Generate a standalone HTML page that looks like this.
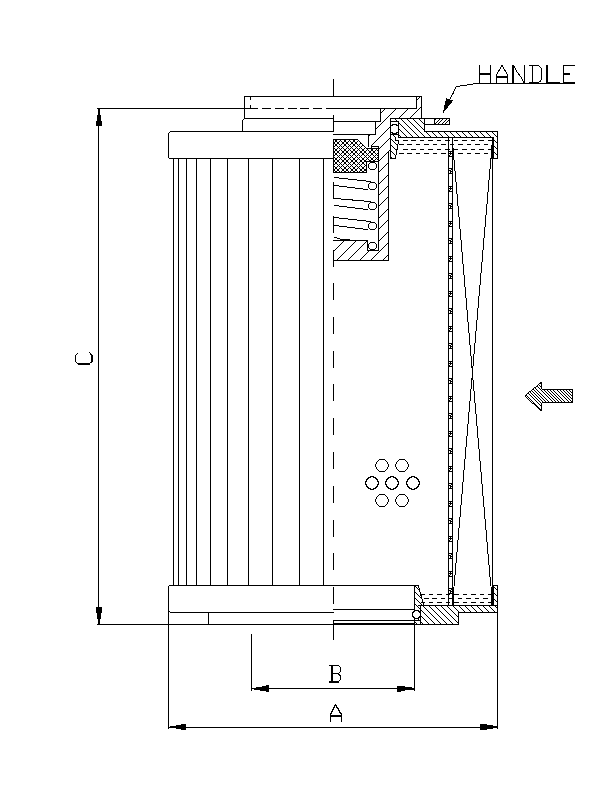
<!DOCTYPE html><html><head><meta charset="utf-8"><style>html,body{margin:0;padding:0;background:#fff;}svg{display:block;}</style></head><body>
<svg width="612" height="792" viewBox="0 0 612 792">
<rect width="612" height="792" fill="#fff"/>
<path shape-rendering="crispEdges" fill="#000" d="M479 65h1v1H479zM490 65h1v1H490zM501 65h2v1H501zM512 65h2v1H512zM524 65h1v1H524zM529 65h10v1H529zM546 65h2v1H546zM563 65h12v1H563zM479 66h1v1H479zM490 66h1v1H490zM501 66h2v1H501zM512 66h3v1H512zM524 66h1v1H524zM532 66h1v1H532zM539 66h1v1H539zM546 66h2v1H546zM563 66h1v1H563zM479 67h1v1H479zM490 67h1v1H490zM500 67h1v1H500zM503 67h1v1H503zM512 67h3v1H512zM524 67h1v1H524zM532 67h1v1H532zM540 67h1v1H540zM546 67h2v1H546zM563 67h1v1H563zM479 68h1v1H479zM490 68h1v1H490zM500 68h1v1H500zM503 68h1v1H503zM512 68h2v1H512zM515 68h1v1H515zM524 68h1v1H524zM532 68h1v1H532zM541 68h1v1H541zM546 68h2v1H546zM563 68h1v1H563zM479 69h1v1H479zM490 69h1v1H490zM499 69h1v1H499zM504 69h1v1H504zM512 69h2v1H512zM515 69h1v1H515zM524 69h1v1H524zM532 69h1v1H532zM541 69h1v1H541zM546 69h2v1H546zM563 69h1v1H563zM479 70h1v1H479zM490 70h1v1H490zM498 70h2v1H498zM504 70h2v1H504zM512 70h2v1H512zM516 70h1v1H516zM524 70h1v1H524zM532 70h1v1H532zM541 70h1v1H541zM546 70h2v1H546zM563 70h1v1H563zM479 71h1v1H479zM490 71h1v1H490zM498 71h1v1H498zM505 71h1v1H505zM512 71h2v1H512zM516 71h1v1H516zM524 71h1v1H524zM532 71h1v1H532zM541 71h1v1H541zM546 71h2v1H546zM563 71h1v1H563zM479 72h1v1H479zM490 72h1v1H490zM497 72h1v1H497zM506 72h1v1H506zM512 72h2v1H512zM517 72h1v1H517zM524 72h1v1H524zM532 72h1v1H532zM541 72h1v1H541zM546 72h2v1H546zM563 72h1v1H563zM479 73h12v1H479zM497 73h1v1H497zM506 73h1v1H506zM512 73h2v1H512zM518 73h1v1H518zM524 73h1v1H524zM532 73h1v1H532zM541 73h1v1H541zM546 73h2v1H546zM563 73h7v1H563zM479 74h12v1H479zM496 74h1v1H496zM507 74h1v1H507zM512 74h2v1H512zM518 74h2v1H518zM524 74h1v1H524zM532 74h1v1H532zM541 74h1v1H541zM546 74h2v1H546zM563 74h7v1H563zM479 75h1v1H479zM490 75h1v1H490zM496 75h1v1H496zM507 75h1v1H507zM512 75h2v1H512zM519 75h1v1H519zM524 75h1v1H524zM532 75h1v1H532zM541 75h1v1H541zM546 75h2v1H546zM563 75h1v1H563zM479 76h1v1H479zM490 76h1v1H490zM496 76h12v1H496zM512 76h2v1H512zM520 76h1v1H520zM524 76h1v1H524zM532 76h1v1H532zM541 76h1v1H541zM546 76h2v1H546zM563 76h1v1H563zM479 77h1v1H479zM490 77h1v1H490zM496 77h12v1H496zM512 77h2v1H512zM521 77h1v1H521zM524 77h1v1H524zM532 77h1v1H532zM541 77h1v1H541zM546 77h2v1H546zM563 77h1v1H563zM479 78h1v1H479zM490 78h1v1H490zM496 78h1v1H496zM507 78h1v1H507zM512 78h2v1H512zM521 78h1v1H521zM524 78h1v1H524zM532 78h1v1H532zM541 78h1v1H541zM546 78h2v1H546zM563 78h1v1H563zM333 79h1v1H333zM479 79h1v1H479zM490 79h1v1H490zM496 79h1v1H496zM507 79h1v1H507zM512 79h2v1H512zM522 79h1v1H522zM524 79h1v1H524zM532 79h1v1H532zM541 79h1v1H541zM546 79h2v1H546zM563 79h1v1H563zM333 80h1v1H333zM479 80h1v1H479zM490 80h1v1H490zM496 80h1v1H496zM507 80h1v1H507zM512 80h2v1H512zM522 80h1v1H522zM524 80h1v1H524zM532 80h1v1H532zM540 80h1v1H540zM546 80h2v1H546zM563 80h1v1H563zM333 81h1v1H333zM479 81h1v1H479zM490 81h1v1H490zM496 81h1v1H496zM507 81h1v1H507zM512 81h2v1H512zM523 81h2v1H523zM532 81h1v1H532zM539 81h2v1H539zM546 81h2v1H546zM563 81h1v1H563zM333 82h1v1H333zM479 82h1v1H479zM490 82h1v1H490zM496 82h1v1H496zM507 82h1v1H507zM512 82h2v1H512zM523 82h2v1H523zM529 82h10v1H529zM546 82h14v1H546zM563 82h12v1H563zM333 83h1v1H333zM473 83h102v1H473zM333 84h1v1H333zM467 84h6v1H467zM333 85h1v1H333zM460 85h7v1H460zM333 86h1v1H333zM456 86h4v1H456zM333 87h1v1H333zM455 87h1v1H455zM333 88h1v1H333zM455 88h1v1H455zM333 89h1v1H333zM454 89h1v1H454zM333 90h1v1H333zM454 90h1v1H454zM333 91h1v1H333zM453 91h1v1H453zM333 92h1v1H333zM453 92h1v1H453zM333 93h1v1H333zM452 93h2v1H452zM333 94h1v1H333zM452 94h1v1H452zM333 95h1v1H333zM451 95h1v1H451zM244 96h178v1H244zM451 96h1v1H451zM244 97h1v1H244zM250 97h1v1H250zM416 97h1v1H416zM419 97h1v1H419zM421 97h1v1H421zM450 97h1v1H450zM244 98h1v1H244zM250 98h1v1H250zM416 98h1v1H416zM418 98h1v1H418zM421 98h1v1H421zM446 98h1v1H446zM450 98h1v1H450zM244 99h1v1H244zM250 99h1v1H250zM416 99h2v1H416zM421 99h1v1H421zM446 99h4v1H446zM244 100h1v1H244zM416 100h1v1H416zM421 100h1v1H421zM446 100h7v1H446zM244 101h1v1H244zM416 101h1v1H416zM421 101h1v1H421zM445 101h7v1H445zM244 102h1v1H244zM416 102h1v1H416zM421 102h1v1H421zM445 102h7v1H445zM244 103h1v1H244zM416 103h1v1H416zM421 103h1v1H421zM445 103h6v1H445zM244 104h1v1H244zM416 104h1v1H416zM421 104h1v1H421zM445 104h5v1H445zM244 105h1v1H244zM250 105h1v1H250zM416 105h1v1H416zM421 105h1v1H421zM444 105h5v1H444zM244 106h1v1H244zM250 106h1v1H250zM416 106h1v1H416zM421 106h1v1H421zM444 106h4v1H444zM244 107h1v1H244zM250 107h1v1H250zM416 107h1v1H416zM420 107h2v1H420zM444 107h4v1H444zM97 108h161v1H97zM262 108h9v1H262zM275 108h9v1H275zM288 108h9v1H288zM300 108h9v1H300zM313 108h9v1H313zM326 108h91v1H326zM419 108h1v1H419zM421 108h1v1H421zM444 108h3v1H444zM98 109h2v1H98zM244 109h1v1H244zM380 109h1v1H380zM384 109h1v1H384zM395 109h1v1H395zM407 109h1v1H407zM418 109h1v1H418zM421 109h1v1H421zM444 109h2v1H444zM98 110h2v1H98zM244 110h1v1H244zM380 110h1v1H380zM383 110h1v1H383zM394 110h1v1H394zM406 110h1v1H406zM417 110h1v1H417zM421 110h1v1H421zM443 110h2v1H443zM98 111h2v1H98zM244 111h1v1H244zM380 111h1v1H380zM382 111h1v1H382zM393 111h1v1H393zM405 111h1v1H405zM416 111h1v1H416zM421 111h1v1H421zM443 111h1v1H443zM98 112h2v1H98zM244 112h1v1H244zM380 112h2v1H380zM392 112h1v1H392zM404 112h1v1H404zM415 112h1v1H415zM421 112h1v1H421zM443 112h1v1H443zM98 113h2v1H98zM244 113h1v1H244zM380 113h1v1H380zM391 113h1v1H391zM403 113h1v1H403zM414 113h1v1H414zM421 113h1v1H421zM98 114h2v1H98zM244 114h1v1H244zM380 114h1v1H380zM390 114h1v1H390zM402 114h1v1H402zM413 114h1v1H413zM421 114h1v1H421zM97 115h4v1H97zM244 115h1v1H244zM333 115h1v1H333zM380 115h1v1H380zM389 115h1v1H389zM401 115h1v1H401zM412 115h1v1H412zM421 115h1v1H421zM97 116h4v1H97zM244 116h1v1H244zM333 116h1v1H333zM380 116h1v1H380zM388 116h1v1H388zM400 116h1v1H400zM411 116h1v1H411zM421 116h1v1H421zM97 117h4v1H97zM244 117h1v1H244zM333 117h1v1H333zM380 117h1v1H380zM387 117h1v1H387zM399 117h1v1H399zM410 117h1v1H410zM421 117h1v1H421zM97 118h4v1H97zM244 118h90v1H244zM380 118h1v1H380zM386 118h1v1H386zM390 118h60v1H390zM97 119h4v1H97zM243 119h1v1H243zM333 119h1v1H333zM380 119h1v1H380zM385 119h1v1H385zM390 119h1v1H390zM395 119h1v1H395zM401 119h1v1H401zM407 119h1v1H407zM413 119h1v1H413zM419 119h1v1H419zM424 119h1v1H424zM434 119h2v1H434zM439 119h1v1H439zM442 119h1v1H442zM446 119h1v1H446zM449 119h1v1H449zM97 120h4v1H97zM242 120h1v1H242zM333 120h1v1H333zM380 120h1v1H380zM384 120h1v1H384zM390 120h1v1H390zM396 120h1v1H396zM402 120h1v1H402zM408 120h1v1H408zM414 120h1v1H414zM420 120h1v1H420zM424 120h1v1H424zM434 120h1v1H434zM438 120h1v1H438zM441 120h1v1H441zM445 120h1v1H445zM448 120h2v1H448zM96 121h6v1H96zM242 121h1v1H242zM333 121h48v1H333zM383 121h1v1H383zM390 121h9v1H390zM403 121h1v1H403zM409 121h1v1H409zM415 121h1v1H415zM421 121h1v1H421zM424 121h1v1H424zM434 121h1v1H434zM437 121h1v1H437zM440 121h1v1H440zM444 121h1v1H444zM447 121h1v1H447zM449 121h1v1H449zM96 122h6v1H96zM242 122h1v1H242zM333 122h1v1H333zM375 122h1v1H375zM382 122h1v1H382zM390 122h1v1H390zM398 122h1v1H398zM404 122h1v1H404zM410 122h1v1H410zM416 122h1v1H416zM422 122h1v1H422zM424 122h1v1H424zM434 122h1v1H434zM436 122h1v1H436zM439 122h1v1H439zM443 122h1v1H443zM446 122h1v1H446zM449 122h1v1H449zM96 123h6v1H96zM242 123h1v1H242zM333 123h1v1H333zM375 123h1v1H375zM381 123h1v1H381zM390 123h1v1H390zM398 123h2v1H398zM405 123h1v1H405zM411 123h1v1H411zM417 123h1v1H417zM423 123h2v1H423zM434 123h2v1H434zM438 123h1v1H438zM442 123h1v1H442zM445 123h1v1H445zM449 123h1v1H449zM96 124h6v1H96zM242 124h1v1H242zM333 124h1v1H333zM375 124h1v1H375zM380 124h1v1H380zM390 124h1v1H390zM392 124h5v1H392zM398 124h1v1H398zM400 124h1v1H400zM406 124h1v1H406zM412 124h1v1H412zM418 124h1v1H418zM424 124h26v1H424zM96 125h6v1H96zM242 125h1v1H242zM333 125h1v1H333zM375 125h1v1H375zM379 125h1v1H379zM390 125h3v1H390zM396 125h3v1H396zM401 125h1v1H401zM407 125h1v1H407zM413 125h1v1H413zM419 125h1v1H419zM424 125h1v1H424zM98 126h1v1H98zM242 126h1v1H242zM333 126h1v1H333zM375 126h1v1H375zM378 126h1v1H378zM390 126h1v1H390zM398 126h1v1H398zM402 126h1v1H402zM408 126h1v1H408zM414 126h1v1H414zM420 126h1v1H420zM424 126h1v1H424zM98 127h1v1H98zM242 127h1v1H242zM333 127h1v1H333zM375 127h1v1H375zM377 127h1v1H377zM389 127h2v1H389zM398 127h1v1H398zM403 127h1v1H403zM409 127h1v1H409zM415 127h1v1H415zM421 127h1v1H421zM424 127h1v1H424zM98 128h1v1H98zM242 128h1v1H242zM333 128h1v1H333zM375 128h2v1H375zM388 128h1v1H388zM390 128h1v1H390zM398 128h1v1H398zM404 128h1v1H404zM410 128h1v1H410zM416 128h1v1H416zM422 128h1v1H422zM424 128h1v1H424zM98 129h1v1H98zM242 129h1v1H242zM333 129h1v1H333zM375 129h1v1H375zM387 129h1v1H387zM390 129h1v1H390zM398 129h2v1H398zM405 129h1v1H405zM411 129h1v1H411zM417 129h1v1H417zM423 129h2v1H423zM98 130h1v1H98zM242 130h1v1H242zM333 130h1v1H333zM375 130h1v1H375zM386 130h1v1H386zM390 130h1v1H390zM398 130h1v1H398zM400 130h1v1H400zM406 130h1v1H406zM412 130h1v1H412zM418 130h1v1H418zM424 130h1v1H424zM98 131h1v1H98zM170 131h164v1H170zM375 131h1v1H375zM385 131h1v1H385zM390 131h1v1H390zM398 131h1v1H398zM401 131h1v1H401zM407 131h1v1H407zM413 131h1v1H413zM419 131h1v1H419zM424 131h74v1H424zM98 132h1v1H98zM169 132h1v1H169zM375 132h1v1H375zM384 132h1v1H384zM390 132h3v1H390zM396 132h3v1H396zM402 132h1v1H402zM408 132h1v1H408zM414 132h1v1H414zM420 132h1v1H420zM426 132h1v1H426zM432 132h1v1H432zM438 132h1v1H438zM444 132h1v1H444zM450 132h1v1H450zM456 132h1v1H456zM462 132h1v1H462zM468 132h1v1H468zM474 132h1v1H474zM480 132h1v1H480zM486 132h1v1H486zM492 132h1v1H492zM497 132h1v1H497zM98 133h1v1H98zM168 133h1v1H168zM375 133h1v1H375zM383 133h1v1H383zM390 133h1v1H390zM392 133h5v1H392zM398 133h1v1H398zM403 133h1v1H403zM409 133h1v1H409zM415 133h1v1H415zM421 133h1v1H421zM427 133h1v1H427zM433 133h1v1H433zM439 133h1v1H439zM445 133h1v1H445zM451 133h1v1H451zM457 133h1v1H457zM463 133h1v1H463zM469 133h1v1H469zM475 133h1v1H475zM481 133h1v1H481zM487 133h1v1H487zM493 133h1v1H493zM497 133h1v1H497zM98 134h1v1H98zM168 134h1v1H168zM333 134h43v1H333zM382 134h1v1H382zM390 134h9v1H390zM404 134h1v1H404zM410 134h1v1H410zM416 134h1v1H416zM422 134h1v1H422zM428 134h1v1H428zM434 134h1v1H434zM440 134h1v1H440zM446 134h1v1H446zM452 134h1v1H452zM458 134h1v1H458zM464 134h1v1H464zM470 134h1v1H470zM476 134h1v1H476zM482 134h1v1H482zM488 134h1v1H488zM494 134h1v1H494zM497 134h1v1H497zM98 135h1v1H98zM168 135h1v1H168zM368 135h2v1H368zM381 135h1v1H381zM390 135h1v1H390zM393 135h1v1H393zM398 135h2v1H398zM405 135h1v1H405zM411 135h1v1H411zM417 135h1v1H417zM423 135h1v1H423zM429 135h1v1H429zM435 135h1v1H435zM441 135h1v1H441zM447 135h1v1H447zM453 135h1v1H453zM459 135h1v1H459zM465 135h1v1H465zM471 135h1v1H471zM477 135h1v1H477zM483 135h1v1H483zM489 135h1v1H489zM495 135h1v1H495zM497 135h1v1H497zM98 136h1v1H98zM168 136h1v1H168zM368 136h1v1H368zM380 136h1v1H380zM390 136h1v1H390zM394 136h1v1H394zM398 136h1v1H398zM400 136h1v1H400zM406 136h1v1H406zM412 136h1v1H412zM418 136h1v1H418zM424 136h1v1H424zM430 136h1v1H430zM436 136h1v1H436zM442 136h1v1H442zM448 136h1v1H448zM454 136h1v1H454zM460 136h1v1H460zM466 136h1v1H466zM472 136h1v1H472zM478 136h1v1H478zM484 136h1v1H484zM490 136h1v1H490zM496 136h2v1H496zM98 137h1v1H98zM168 137h1v1H168zM368 137h1v1H368zM379 137h1v1H379zM390 137h1v1H390zM395 137h1v1H395zM398 137h96v1H398zM497 137h1v1H497zM98 138h1v1H98zM168 138h1v1H168zM368 138h1v1H368zM378 138h1v1H378zM389 138h2v1H389zM395 138h1v1H395zM448 138h1v1H448zM452 138h1v1H452zM492 138h2v1H492zM497 138h1v1H497zM98 139h1v1H98zM168 139h1v1H168zM333 139h25v1H333zM368 139h1v1H368zM377 139h1v1H377zM388 139h1v1H388zM390 139h2v1H390zM395 139h1v1H395zM448 139h1v1H448zM452 139h1v1H452zM492 139h2v1H492zM497 139h1v1H497zM98 140h1v1H98zM168 140h1v1H168zM333 140h1v1H333zM335 140h2v1H335zM340 140h1v1H340zM344 140h2v1H344zM349 140h1v1H349zM353 140h2v1H353zM358 140h1v1H358zM368 140h1v1H368zM376 140h1v1H376zM387 140h1v1H387zM390 140h1v1H390zM392 140h1v1H392zM395 140h4v1H395zM403 140h5v1H403zM411 140h5v1H411zM420 140h4v1H420zM428 140h5v1H428zM437 140h4v1H437zM445 140h5v1H445zM452 140h1v1H452zM454 140h4v1H454zM462 140h5v1H462zM471 140h4v1H471zM479 140h5v1H479zM488 140h7v1H488zM497 140h1v1H497zM98 141h1v1H98zM168 141h1v1H168zM333 141h1v1H333zM335 141h2v1H335zM339 141h1v1H339zM341 141h1v1H341zM344 141h2v1H344zM348 141h1v1H348zM350 141h1v1H350zM353 141h2v1H353zM357 141h1v1H357zM359 141h1v1H359zM368 141h1v1H368zM375 141h1v1H375zM386 141h1v1H386zM390 141h1v1H390zM393 141h1v1H393zM398 141h1v1H398zM448 141h1v1H448zM452 141h1v1H452zM492 141h2v1H492zM495 141h1v1H495zM497 141h1v1H497zM98 142h1v1H98zM168 142h1v1H168zM333 142h2v1H333zM337 142h2v1H337zM342 142h2v1H342zM346 142h2v1H346zM351 142h2v1H351zM355 142h2v1H355zM360 142h1v1H360zM368 142h1v1H368zM374 142h1v1H374zM385 142h1v1H385zM390 142h1v1H390zM394 142h1v1H394zM398 142h1v1H398zM448 142h1v1H448zM452 142h1v1H452zM492 142h2v1H492zM496 142h2v1H496zM98 143h1v1H98zM168 143h1v1H168zM333 143h2v1H333zM337 143h2v1H337zM342 143h2v1H342zM346 143h2v1H346zM351 143h2v1H351zM355 143h2v1H355zM360 143h2v1H360zM368 143h1v1H368zM373 143h1v1H373zM384 143h1v1H384zM390 143h1v1H390zM395 143h1v1H395zM398 143h1v1H398zM448 143h1v1H448zM452 143h1v1H452zM492 143h2v1H492zM497 143h1v1H497zM98 144h1v1H98zM168 144h1v1H168zM333 144h1v1H333zM335 144h2v1H335zM339 144h1v1H339zM341 144h1v1H341zM344 144h2v1H344zM348 144h1v1H348zM350 144h1v1H350zM353 144h2v1H353zM357 144h1v1H357zM359 144h1v1H359zM362 144h1v1H362zM368 144h1v1H368zM372 144h1v1H372zM383 144h1v1H383zM390 144h1v1H390zM396 144h2v1H396zM399 144h5v1H399zM407 144h5v1H407zM416 144h4v1H416zM424 144h5v1H424zM433 144h4v1H433zM441 144h5v1H441zM448 144h1v1H448zM450 144h4v1H450zM458 144h5v1H458zM467 144h4v1H467zM475 144h5v1H475zM484 144h4v1H484zM492 144h2v1H492zM497 144h1v1H497zM98 145h1v1H98zM168 145h1v1H168zM333 145h1v1H333zM335 145h2v1H335zM340 145h1v1H340zM344 145h2v1H344zM349 145h1v1H349zM353 145h2v1H353zM358 145h1v1H358zM362 145h2v1H362zM368 145h1v1H368zM371 145h1v1H371zM382 145h1v1H382zM390 145h2v1H390zM397 145h1v1H397zM448 145h1v1H448zM452 145h1v1H452zM491 145h3v1H491zM497 145h1v1H497zM98 146h1v1H98zM168 146h1v1H168zM333 146h2v1H333zM337 146h1v1H337zM339 146h1v1H339zM341 146h1v1H341zM343 146h1v1H343zM346 146h1v1H346zM348 146h1v1H348zM350 146h1v1H350zM352 146h1v1H352zM355 146h1v1H355zM357 146h1v1H357zM359 146h1v1H359zM361 146h1v1H361zM364 146h1v1H364zM368 146h1v1H368zM371 146h8v1H371zM381 146h1v1H381zM390 146h1v1H390zM392 146h1v1H392zM397 146h1v1H397zM448 146h1v1H448zM452 146h1v1H452zM491 146h4v1H491zM497 146h1v1H497zM98 147h1v1H98zM168 147h1v1H168zM333 147h1v1H333zM338 147h1v1H338zM342 147h1v1H342zM347 147h1v1H347zM351 147h1v1H351zM356 147h1v1H356zM360 147h1v1H360zM365 147h1v1H365zM371 147h1v1H371zM378 147h1v1H378zM380 147h1v1H380zM390 147h1v1H390zM393 147h1v1H393zM397 147h1v1H397zM448 147h1v1H448zM452 147h1v1H452zM491 147h3v1H491zM495 147h1v1H495zM497 147h1v1H497zM98 148h1v1H98zM168 148h1v1H168zM333 148h2v1H333zM337 148h1v1H337zM339 148h1v1H339zM341 148h1v1H341zM343 148h1v1H343zM346 148h1v1H346zM348 148h1v1H348zM350 148h1v1H350zM352 148h1v1H352zM355 148h1v1H355zM357 148h1v1H357zM359 148h1v1H359zM361 148h1v1H361zM364 148h1v1H364zM366 148h14v1H366zM390 148h1v1H390zM394 148h1v1H394zM397 148h1v1H397zM448 148h1v1H448zM452 148h2v1H452zM491 148h3v1H491zM496 148h2v1H496zM98 149h1v1H98zM168 149h1v1H168zM333 149h1v1H333zM335 149h2v1H335zM340 149h1v1H340zM344 149h2v1H344zM349 149h1v1H349zM353 149h2v1H353zM358 149h1v1H358zM362 149h2v1H362zM367 149h1v1H367zM371 149h2v1H371zM376 149h1v1H376zM378 149h1v1H378zM390 149h1v1H390zM395 149h3v1H395zM403 149h5v1H403zM411 149h5v1H411zM420 149h4v1H420zM428 149h5v1H428zM437 149h4v1H437zM445 149h5v1H445zM452 149h6v1H452zM462 149h5v1H462zM471 149h4v1H471zM479 149h5v1H479zM488 149h6v1H488zM497 149h1v1H497zM98 150h1v1H98zM168 150h1v1H168zM333 150h1v1H333zM335 150h2v1H335zM339 150h1v1H339zM341 150h1v1H341zM344 150h2v1H344zM348 150h1v1H348zM350 150h1v1H350zM353 150h2v1H353zM357 150h1v1H357zM359 150h1v1H359zM362 150h2v1H362zM366 150h1v1H366zM368 150h1v1H368zM371 150h2v1H371zM375 150h1v1H375zM377 150h2v1H377zM389 150h2v1H389zM396 150h1v1H396zM448 150h1v1H448zM452 150h2v1H452zM491 150h3v1H491zM497 150h1v1H497zM98 151h1v1H98zM168 151h1v1H168zM333 151h2v1H333zM337 151h2v1H337zM342 151h2v1H342zM346 151h2v1H346zM351 151h2v1H351zM355 151h2v1H355zM360 151h2v1H360zM364 151h2v1H364zM369 151h2v1H369zM373 151h2v1H373zM378 151h1v1H378zM388 151h1v1H388zM390 151h2v1H390zM396 151h1v1H396zM448 151h6v1H448zM491 151h3v1H491zM497 151h1v1H497zM98 152h1v1H98zM168 152h1v1H168zM333 152h2v1H333zM337 152h2v1H337zM342 152h2v1H342zM346 152h2v1H346zM351 152h2v1H351zM355 152h2v1H355zM360 152h2v1H360zM364 152h2v1H364zM369 152h2v1H369zM373 152h2v1H373zM378 152h1v1H378zM387 152h2v1H387zM390 152h1v1H390zM392 152h1v1H392zM396 152h1v1H396zM448 152h1v1H448zM450 152h1v1H450zM452 152h2v1H452zM491 152h4v1H491zM497 152h1v1H497zM98 153h1v1H98zM168 153h1v1H168zM333 153h1v1H333zM335 153h2v1H335zM339 153h1v1H339zM341 153h1v1H341zM344 153h2v1H344zM348 153h1v1H348zM350 153h1v1H350zM353 153h2v1H353zM357 153h1v1H357zM359 153h1v1H359zM362 153h2v1H362zM366 153h1v1H366zM368 153h1v1H368zM371 153h2v1H371zM375 153h1v1H375zM377 153h2v1H377zM386 153h1v1H386zM388 153h1v1H388zM390 153h1v1H390zM393 153h1v1H393zM396 153h1v1H396zM399 153h5v1H399zM407 153h5v1H407zM416 153h4v1H416zM424 153h5v1H424zM433 153h4v1H433zM441 153h5v1H441zM448 153h6v1H448zM458 153h5v1H458zM467 153h4v1H467zM475 153h5v1H475zM484 153h4v1H484zM491 153h3v1H491zM495 153h1v1H495zM497 153h1v1H497zM98 154h1v1H98zM168 154h1v1H168zM333 154h1v1H333zM335 154h2v1H335zM340 154h1v1H340zM344 154h2v1H344zM349 154h1v1H349zM353 154h2v1H353zM358 154h1v1H358zM362 154h2v1H362zM367 154h1v1H367zM371 154h2v1H371zM376 154h1v1H376zM378 154h1v1H378zM385 154h1v1H385zM388 154h1v1H388zM390 154h1v1H390zM394 154h1v1H394zM396 154h1v1H396zM448 154h1v1H448zM450 154h1v1H450zM452 154h2v1H452zM491 154h3v1H491zM496 154h2v1H496zM98 155h1v1H98zM168 155h1v1H168zM333 155h2v1H333zM337 155h1v1H337zM339 155h1v1H339zM341 155h1v1H341zM343 155h1v1H343zM346 155h1v1H346zM348 155h1v1H348zM350 155h1v1H350zM352 155h1v1H352zM355 155h1v1H355zM357 155h1v1H357zM359 155h1v1H359zM361 155h1v1H361zM364 155h1v1H364zM366 155h1v1H366zM368 155h1v1H368zM370 155h1v1H370zM373 155h1v1H373zM375 155h1v1H375zM377 155h2v1H377zM384 155h1v1H384zM388 155h1v1H388zM390 155h1v1H390zM395 155h1v1H395zM448 155h2v1H448zM452 155h2v1H452zM491 155h3v1H491zM497 155h1v1H497zM98 156h1v1H98zM168 156h1v1H168zM333 156h1v1H333zM338 156h1v1H338zM342 156h1v1H342zM347 156h1v1H347zM351 156h1v1H351zM356 156h1v1H356zM360 156h1v1H360zM365 156h1v1H365zM369 156h1v1H369zM374 156h1v1H374zM378 156h1v1H378zM383 156h1v1H383zM388 156h1v1H388zM390 156h1v1H390zM395 156h1v1H395zM448 156h6v1H448zM491 156h3v1H491zM497 156h1v1H497zM98 157h1v1H98zM168 157h1v1H168zM333 157h2v1H333zM337 157h1v1H337zM339 157h1v1H339zM341 157h1v1H341zM343 157h1v1H343zM346 157h1v1H346zM348 157h1v1H348zM350 157h1v1H350zM352 157h1v1H352zM355 157h1v1H355zM357 157h1v1H357zM359 157h1v1H359zM361 157h1v1H361zM364 157h1v1H364zM366 157h1v1H366zM368 157h1v1H368zM370 157h1v1H370zM373 157h1v1H373zM375 157h1v1H375zM377 157h2v1H377zM382 157h1v1H382zM388 157h1v1H388zM390 157h2v1H390zM395 157h1v1H395zM448 157h1v1H448zM452 157h2v1H452zM491 157h3v1H491zM497 157h1v1H497zM98 158h1v1H98zM169 158h165v1H169zM335 158h2v1H335zM340 158h1v1H340zM344 158h2v1H344zM349 158h1v1H349zM353 158h2v1H353zM358 158h1v1H358zM362 158h2v1H362zM367 158h1v1H367zM371 158h2v1H371zM376 158h1v1H376zM378 158h1v1H378zM381 158h1v1H381zM388 158h1v1H388zM390 158h6v1H390zM448 158h1v1H448zM452 158h2v1H452zM490 158h8v1H490zM98 159h1v1H98zM173 159h1v1H173zM178 159h1v1H178zM186 159h1v1H186zM196 159h1v1H196zM210 159h1v1H210zM227 159h1v1H227zM248 159h1v1H248zM272 159h1v1H272zM299 159h1v1H299zM323 159h1v1H323zM333 159h1v1H333zM335 159h2v1H335zM339 159h1v1H339zM341 159h1v1H341zM344 159h2v1H344zM348 159h1v1H348zM350 159h1v1H350zM353 159h2v1H353zM357 159h1v1H357zM359 159h1v1H359zM362 159h2v1H362zM366 159h1v1H366zM368 159h1v1H368zM371 159h2v1H371zM375 159h1v1H375zM377 159h2v1H377zM380 159h1v1H380zM388 159h1v1H388zM448 159h1v1H448zM452 159h2v1H452zM490 159h1v1H490zM492 159h1v1H492zM98 160h1v1H98zM173 160h1v1H173zM178 160h1v1H178zM186 160h1v1H186zM196 160h1v1H196zM210 160h1v1H210zM227 160h1v1H227zM248 160h1v1H248zM272 160h1v1H272zM299 160h1v1H299zM323 160h1v1H323zM333 160h2v1H333zM337 160h2v1H337zM342 160h2v1H342zM346 160h2v1H346zM351 160h2v1H351zM355 160h2v1H355zM360 160h2v1H360zM364 160h2v1H364zM369 160h2v1H369zM373 160h2v1H373zM378 160h2v1H378zM388 160h1v1H388zM448 160h1v1H448zM452 160h1v1H452zM454 160h1v1H454zM490 160h1v1H490zM492 160h1v1H492zM98 161h1v1H98zM173 161h1v1H173zM178 161h1v1H178zM186 161h1v1H186zM196 161h1v1H196zM210 161h1v1H210zM227 161h1v1H227zM248 161h1v1H248zM272 161h1v1H272zM299 161h1v1H299zM323 161h1v1H323zM333 161h2v1H333zM337 161h2v1H337zM342 161h2v1H342zM346 161h2v1H346zM351 161h2v1H351zM355 161h2v1H355zM360 161h2v1H360zM364 161h15v1H364zM388 161h1v1H388zM448 161h1v1H448zM452 161h1v1H452zM454 161h1v1H454zM490 161h1v1H490zM492 161h1v1H492zM98 162h1v1H98zM173 162h1v1H173zM178 162h1v1H178zM186 162h1v1H186zM196 162h1v1H196zM210 162h1v1H210zM227 162h1v1H227zM248 162h1v1H248zM272 162h1v1H272zM299 162h1v1H299zM323 162h1v1H323zM333 162h1v1H333zM335 162h2v1H335zM339 162h1v1H339zM341 162h1v1H341zM344 162h2v1H344zM348 162h1v1H348zM350 162h1v1H350zM353 162h2v1H353zM357 162h1v1H357zM359 162h1v1H359zM362 162h2v1H362zM366 162h1v1H366zM370 162h5v1H370zM378 162h1v1H378zM388 162h1v1H388zM448 162h1v1H448zM452 162h1v1H452zM454 162h1v1H454zM490 162h1v1H490zM492 162h1v1H492zM98 163h1v1H98zM173 163h1v1H173zM178 163h1v1H178zM186 163h1v1H186zM196 163h1v1H196zM210 163h1v1H210zM227 163h1v1H227zM248 163h1v1H248zM272 163h1v1H272zM299 163h1v1H299zM323 163h1v1H323zM333 163h1v1H333zM335 163h2v1H335zM340 163h1v1H340zM344 163h2v1H344zM349 163h1v1H349zM353 163h2v1H353zM358 163h1v1H358zM362 163h2v1H362zM366 163h1v1H366zM369 163h1v1H369zM375 163h1v1H375zM378 163h1v1H378zM387 163h2v1H387zM448 163h1v1H448zM452 163h1v1H452zM454 163h1v1H454zM490 163h1v1H490zM492 163h1v1H492zM98 164h1v1H98zM173 164h1v1H173zM178 164h1v1H178zM186 164h1v1H186zM196 164h1v1H196zM210 164h1v1H210zM227 164h1v1H227zM248 164h1v1H248zM272 164h1v1H272zM299 164h1v1H299zM323 164h1v1H323zM333 164h2v1H333zM337 164h1v1H337zM339 164h1v1H339zM341 164h1v1H341zM343 164h1v1H343zM346 164h1v1H346zM348 164h1v1H348zM350 164h1v1H350zM352 164h1v1H352zM355 164h1v1H355zM357 164h1v1H357zM359 164h1v1H359zM361 164h1v1H361zM364 164h1v1H364zM366 164h1v1H366zM368 164h1v1H368zM376 164h1v1H376zM378 164h1v1H378zM386 164h1v1H386zM388 164h1v1H388zM448 164h1v1H448zM452 164h1v1H452zM454 164h1v1H454zM490 164h1v1H490zM492 164h1v1H492zM98 165h1v1H98zM173 165h1v1H173zM178 165h1v1H178zM186 165h1v1H186zM196 165h1v1H196zM210 165h1v1H210zM227 165h1v1H227zM248 165h1v1H248zM272 165h1v1H272zM299 165h1v1H299zM323 165h1v1H323zM333 165h1v1H333zM338 165h1v1H338zM342 165h1v1H342zM347 165h1v1H347zM351 165h1v1H351zM356 165h1v1H356zM360 165h1v1H360zM365 165h2v1H365zM368 165h1v1H368zM376 165h1v1H376zM378 165h1v1H378zM385 165h1v1H385zM388 165h1v1H388zM448 165h1v1H448zM452 165h1v1H452zM454 165h1v1H454zM490 165h1v1H490zM492 165h1v1H492zM98 166h1v1H98zM173 166h1v1H173zM178 166h1v1H178zM186 166h1v1H186zM196 166h1v1H196zM210 166h1v1H210zM227 166h1v1H227zM248 166h1v1H248zM272 166h1v1H272zM299 166h1v1H299zM323 166h1v1H323zM333 166h2v1H333zM337 166h1v1H337zM339 166h1v1H339zM341 166h1v1H341zM343 166h1v1H343zM346 166h1v1H346zM348 166h1v1H348zM350 166h1v1H350zM352 166h1v1H352zM355 166h1v1H355zM357 166h1v1H357zM359 166h1v1H359zM361 166h1v1H361zM364 166h1v1H364zM366 166h1v1H366zM368 166h1v1H368zM376 166h1v1H376zM378 166h1v1H378zM384 166h1v1H384zM388 166h1v1H388zM448 166h1v1H448zM452 166h1v1H452zM454 166h1v1H454zM490 166h1v1H490zM492 166h1v1H492zM98 167h1v1H98zM173 167h1v1H173zM178 167h1v1H178zM186 167h1v1H186zM196 167h1v1H196zM210 167h1v1H210zM227 167h1v1H227zM248 167h1v1H248zM272 167h1v1H272zM299 167h1v1H299zM323 167h1v1H323zM333 167h1v1H333zM335 167h2v1H335zM340 167h1v1H340zM344 167h2v1H344zM349 167h1v1H349zM353 167h2v1H353zM358 167h1v1H358zM362 167h2v1H362zM366 167h1v1H366zM368 167h1v1H368zM376 167h1v1H376zM378 167h1v1H378zM383 167h1v1H383zM388 167h1v1H388zM448 167h1v1H448zM452 167h1v1H452zM454 167h1v1H454zM490 167h1v1H490zM492 167h1v1H492zM98 168h1v1H98zM173 168h1v1H173zM178 168h1v1H178zM186 168h1v1H186zM196 168h1v1H196zM210 168h1v1H210zM227 168h1v1H227zM248 168h1v1H248zM272 168h1v1H272zM299 168h1v1H299zM323 168h1v1H323zM333 168h1v1H333zM335 168h2v1H335zM339 168h1v1H339zM341 168h1v1H341zM344 168h2v1H344zM348 168h1v1H348zM350 168h1v1H350zM353 168h2v1H353zM357 168h1v1H357zM359 168h1v1H359zM362 168h2v1H362zM366 168h1v1H366zM369 168h1v1H369zM375 168h1v1H375zM378 168h1v1H378zM382 168h1v1H382zM388 168h1v1H388zM448 168h5v1H448zM454 168h1v1H454zM490 168h1v1H490zM492 168h1v1H492zM98 169h1v1H98zM173 169h1v1H173zM178 169h1v1H178zM186 169h1v1H186zM196 169h1v1H196zM210 169h1v1H210zM227 169h1v1H227zM248 169h1v1H248zM272 169h1v1H272zM299 169h1v1H299zM323 169h1v1H323zM333 169h2v1H333zM337 169h2v1H337zM342 169h2v1H342zM346 169h2v1H346zM351 169h2v1H351zM355 169h2v1H355zM360 169h2v1H360zM364 169h3v1H364zM370 169h5v1H370zM378 169h1v1H378zM381 169h1v1H381zM388 169h1v1H388zM448 169h1v1H448zM451 169h2v1H451zM454 169h1v1H454zM489 169h1v1H489zM492 169h1v1H492zM98 170h1v1H98zM173 170h1v1H173zM178 170h1v1H178zM186 170h1v1H186zM196 170h1v1H196zM210 170h1v1H210zM227 170h1v1H227zM248 170h1v1H248zM272 170h1v1H272zM299 170h1v1H299zM323 170h1v1H323zM333 170h2v1H333zM337 170h2v1H337zM342 170h2v1H342zM346 170h2v1H346zM351 170h2v1H351zM355 170h2v1H355zM360 170h2v1H360zM364 170h3v1H364zM378 170h1v1H378zM380 170h1v1H380zM388 170h1v1H388zM448 170h3v1H448zM452 170h1v1H452zM454 170h1v1H454zM489 170h1v1H489zM492 170h1v1H492zM98 171h1v1H98zM173 171h1v1H173zM178 171h1v1H178zM186 171h1v1H186zM196 171h1v1H196zM210 171h1v1H210zM227 171h1v1H227zM248 171h1v1H248zM272 171h1v1H272zM299 171h1v1H299zM323 171h1v1H323zM333 171h1v1H333zM335 171h2v1H335zM339 171h1v1H339zM341 171h1v1H341zM344 171h2v1H344zM348 171h1v1H348zM350 171h1v1H350zM353 171h2v1H353zM357 171h1v1H357zM359 171h1v1H359zM362 171h2v1H362zM366 171h1v1H366zM378 171h2v1H378zM388 171h1v1H388zM448 171h1v1H448zM450 171h3v1H450zM455 171h1v1H455zM489 171h1v1H489zM492 171h1v1H492zM98 172h1v1H98zM173 172h1v1H173zM178 172h1v1H178zM186 172h1v1H186zM196 172h1v1H196zM210 172h1v1H210zM227 172h1v1H227zM248 172h1v1H248zM272 172h1v1H272zM299 172h1v1H299zM323 172h1v1H323zM333 172h34v1H333zM378 172h1v1H378zM388 172h1v1H388zM448 172h1v1H448zM450 172h1v1H450zM452 172h1v1H452zM455 172h1v1H455zM489 172h1v1H489zM492 172h1v1H492zM98 173h1v1H98zM173 173h1v1H173zM178 173h1v1H178zM186 173h1v1H186zM196 173h1v1H196zM210 173h1v1H210zM227 173h1v1H227zM248 173h1v1H248zM272 173h1v1H272zM299 173h1v1H299zM323 173h1v1H323zM378 173h1v1H378zM388 173h1v1H388zM448 173h5v1H448zM455 173h1v1H455zM489 173h1v1H489zM492 173h1v1H492zM98 174h1v1H98zM173 174h1v1H173zM178 174h1v1H178zM186 174h1v1H186zM196 174h1v1H196zM210 174h1v1H210zM227 174h1v1H227zM248 174h1v1H248zM272 174h1v1H272zM299 174h1v1H299zM323 174h1v1H323zM378 174h1v1H378zM388 174h1v1H388zM448 174h1v1H448zM452 174h1v1H452zM455 174h1v1H455zM489 174h1v1H489zM492 174h1v1H492zM98 175h1v1H98zM173 175h1v1H173zM178 175h1v1H178zM186 175h1v1H186zM196 175h1v1H196zM210 175h1v1H210zM227 175h1v1H227zM248 175h1v1H248zM272 175h1v1H272zM299 175h1v1H299zM323 175h1v1H323zM378 175h1v1H378zM387 175h2v1H387zM448 175h1v1H448zM452 175h1v1H452zM455 175h1v1H455zM489 175h1v1H489zM492 175h1v1H492zM98 176h1v1H98zM173 176h1v1H173zM178 176h1v1H178zM186 176h1v1H186zM196 176h1v1H196zM210 176h1v1H210zM227 176h1v1H227zM248 176h1v1H248zM272 176h1v1H272zM299 176h1v1H299zM323 176h1v1H323zM378 176h1v1H378zM386 176h1v1H386zM388 176h1v1H388zM448 176h1v1H448zM452 176h1v1H452zM455 176h1v1H455zM489 176h1v1H489zM492 176h1v1H492zM98 177h1v1H98zM173 177h1v1H173zM178 177h1v1H178zM186 177h1v1H186zM196 177h1v1H196zM210 177h1v1H210zM227 177h1v1H227zM248 177h1v1H248zM272 177h1v1H272zM299 177h1v1H299zM323 177h1v1H323zM334 177h5v1H334zM378 177h1v1H378zM385 177h1v1H385zM388 177h1v1H388zM448 177h1v1H448zM452 177h1v1H452zM455 177h1v1H455zM489 177h1v1H489zM492 177h1v1H492zM98 178h1v1H98zM173 178h1v1H173zM178 178h1v1H178zM186 178h1v1H186zM196 178h1v1H196zM210 178h1v1H210zM227 178h1v1H227zM248 178h1v1H248zM272 178h1v1H272zM299 178h1v1H299zM323 178h1v1H323zM339 178h9v1H339zM378 178h1v1H378zM384 178h1v1H384zM388 178h1v1H388zM448 178h1v1H448zM452 178h1v1H452zM455 178h1v1H455zM489 178h1v1H489zM492 178h1v1H492zM98 179h1v1H98zM173 179h1v1H173zM178 179h1v1H178zM186 179h1v1H186zM196 179h1v1H196zM210 179h1v1H210zM227 179h1v1H227zM248 179h1v1H248zM272 179h1v1H272zM299 179h1v1H299zM323 179h1v1H323zM348 179h9v1H348zM378 179h1v1H378zM383 179h1v1H383zM388 179h1v1H388zM448 179h1v1H448zM452 179h1v1H452zM455 179h1v1H455zM489 179h1v1H489zM492 179h1v1H492zM98 180h1v1H98zM173 180h1v1H173zM178 180h1v1H178zM186 180h1v1H186zM196 180h1v1H196zM210 180h1v1H210zM227 180h1v1H227zM248 180h1v1H248zM272 180h1v1H272zM299 180h1v1H299zM323 180h1v1H323zM357 180h9v1H357zM378 180h1v1H378zM382 180h1v1H382zM388 180h1v1H388zM448 180h1v1H448zM452 180h1v1H452zM455 180h1v1H455zM488 180h1v1H488zM492 180h1v1H492zM98 181h1v1H98zM173 181h1v1H173zM178 181h1v1H178zM186 181h1v1H186zM196 181h1v1H196zM210 181h1v1H210zM227 181h1v1H227zM248 181h1v1H248zM272 181h1v1H272zM299 181h1v1H299zM323 181h1v1H323zM366 181h5v1H366zM378 181h1v1H378zM381 181h1v1H381zM388 181h1v1H388zM448 181h1v1H448zM452 181h1v1H452zM455 181h1v1H455zM488 181h1v1H488zM492 181h1v1H492zM98 182h1v1H98zM173 182h1v1H173zM178 182h1v1H178zM186 182h1v1H186zM196 182h1v1H196zM210 182h1v1H210zM227 182h1v1H227zM248 182h1v1H248zM272 182h1v1H272zM299 182h1v1H299zM323 182h1v1H323zM333 182h1v1H333zM370 182h5v1H370zM378 182h1v1H378zM380 182h1v1H380zM388 182h1v1H388zM448 182h1v1H448zM452 182h1v1H452zM456 182h1v1H456zM488 182h1v1H488zM492 182h1v1H492zM98 183h1v1H98zM173 183h1v1H173zM178 183h1v1H178zM186 183h1v1H186zM196 183h1v1H196zM210 183h1v1H210zM227 183h1v1H227zM248 183h1v1H248zM272 183h1v1H272zM299 183h1v1H299zM323 183h1v1H323zM333 183h1v1H333zM369 183h1v1H369zM375 183h1v1H375zM378 183h2v1H378zM388 183h1v1H388zM448 183h1v1H448zM452 183h1v1H452zM456 183h1v1H456zM488 183h1v1H488zM492 183h1v1H492zM98 184h1v1H98zM173 184h1v1H173zM178 184h1v1H178zM186 184h1v1H186zM196 184h1v1H196zM210 184h1v1H210zM227 184h1v1H227zM248 184h1v1H248zM272 184h1v1H272zM299 184h1v1H299zM323 184h1v1H323zM333 184h1v1H333zM368 184h1v1H368zM376 184h1v1H376zM378 184h1v1H378zM388 184h1v1H388zM448 184h1v1H448zM452 184h1v1H452zM456 184h1v1H456zM488 184h1v1H488zM492 184h1v1H492zM98 185h1v1H98zM173 185h1v1H173zM178 185h1v1H178zM186 185h1v1H186zM196 185h1v1H196zM210 185h1v1H210zM227 185h1v1H227zM248 185h1v1H248zM272 185h1v1H272zM299 185h1v1H299zM323 185h1v1H323zM333 185h6v1H333zM368 185h1v1H368zM376 185h1v1H376zM378 185h1v1H378zM388 185h1v1H388zM448 185h1v1H448zM452 185h1v1H452zM456 185h1v1H456zM488 185h1v1H488zM492 185h1v1H492zM98 186h1v1H98zM173 186h1v1H173zM178 186h1v1H178zM186 186h1v1H186zM196 186h1v1H196zM210 186h1v1H210zM227 186h1v1H227zM248 186h1v1H248zM272 186h1v1H272zM299 186h1v1H299zM323 186h1v1H323zM333 186h1v1H333zM339 186h8v1H339zM368 186h1v1H368zM376 186h1v1H376zM378 186h1v1H378zM387 186h2v1H387zM448 186h5v1H448zM456 186h1v1H456zM488 186h1v1H488zM492 186h1v1H492zM98 187h1v1H98zM173 187h1v1H173zM178 187h1v1H178zM186 187h1v1H186zM196 187h1v1H196zM210 187h1v1H210zM227 187h1v1H227zM248 187h1v1H248zM272 187h1v1H272zM299 187h1v1H299zM323 187h1v1H323zM333 187h1v1H333zM347 187h8v1H347zM368 187h1v1H368zM376 187h1v1H376zM378 187h1v1H378zM386 187h1v1H386zM388 187h1v1H388zM448 187h1v1H448zM450 187h1v1H450zM452 187h1v1H452zM456 187h1v1H456zM488 187h1v1H488zM492 187h1v1H492zM98 188h1v1H98zM173 188h1v1H173zM178 188h1v1H178zM186 188h1v1H186zM196 188h1v1H196zM210 188h1v1H210zM227 188h1v1H227zM248 188h1v1H248zM272 188h1v1H272zM299 188h1v1H299zM323 188h1v1H323zM333 188h1v1H333zM355 188h8v1H355zM369 188h1v1H369zM375 188h1v1H375zM378 188h1v1H378zM385 188h1v1H385zM388 188h1v1H388zM448 188h5v1H448zM456 188h1v1H456zM488 188h1v1H488zM492 188h1v1H492zM98 189h1v1H98zM173 189h1v1H173zM178 189h1v1H178zM186 189h1v1H186zM196 189h1v1H196zM210 189h1v1H210zM227 189h1v1H227zM248 189h1v1H248zM272 189h1v1H272zM299 189h1v1H299zM323 189h1v1H323zM333 189h1v1H333zM363 189h5v1H363zM370 189h5v1H370zM378 189h1v1H378zM384 189h1v1H384zM388 189h1v1H388zM448 189h1v1H448zM450 189h1v1H450zM452 189h1v1H452zM456 189h1v1H456zM488 189h1v1H488zM492 189h1v1H492zM98 190h1v1H98zM173 190h1v1H173zM178 190h1v1H178zM186 190h1v1H186zM196 190h1v1H196zM210 190h1v1H210zM227 190h1v1H227zM248 190h1v1H248zM272 190h1v1H272zM299 190h1v1H299zM323 190h1v1H323zM333 190h1v1H333zM378 190h1v1H378zM383 190h1v1H383zM388 190h1v1H388zM448 190h2v1H448zM452 190h1v1H452zM456 190h1v1H456zM488 190h1v1H488zM492 190h1v1H492zM98 191h1v1H98zM173 191h1v1H173zM178 191h1v1H178zM186 191h1v1H186zM196 191h1v1H196zM210 191h1v1H210zM227 191h1v1H227zM248 191h1v1H248zM272 191h1v1H272zM299 191h1v1H299zM323 191h1v1H323zM333 191h1v1H333zM378 191h1v1H378zM382 191h1v1H382zM388 191h1v1H388zM448 191h5v1H448zM456 191h1v1H456zM488 191h1v1H488zM492 191h1v1H492zM98 192h1v1H98zM173 192h1v1H173zM178 192h1v1H178zM186 192h1v1H186zM196 192h1v1H196zM210 192h1v1H210zM227 192h1v1H227zM248 192h1v1H248zM272 192h1v1H272zM299 192h1v1H299zM323 192h1v1H323zM333 192h1v1H333zM378 192h1v1H378zM381 192h1v1H381zM388 192h1v1H388zM448 192h1v1H448zM452 192h1v1H452zM456 192h1v1H456zM487 192h1v1H487zM492 192h1v1H492zM98 193h1v1H98zM173 193h1v1H173zM178 193h1v1H178zM186 193h1v1H186zM196 193h1v1H196zM210 193h1v1H210zM227 193h1v1H227zM248 193h1v1H248zM272 193h1v1H272zM299 193h1v1H299zM323 193h1v1H323zM333 193h1v1H333zM378 193h1v1H378zM380 193h1v1H380zM388 193h1v1H388zM448 193h1v1H448zM452 193h1v1H452zM456 193h1v1H456zM487 193h1v1H487zM492 193h1v1H492zM98 194h1v1H98zM173 194h1v1H173zM178 194h1v1H178zM186 194h1v1H186zM196 194h1v1H196zM210 194h1v1H210zM227 194h1v1H227zM248 194h1v1H248zM272 194h1v1H272zM299 194h1v1H299zM323 194h1v1H323zM333 194h1v1H333zM378 194h2v1H378zM388 194h1v1H388zM448 194h1v1H448zM452 194h1v1H452zM457 194h1v1H457zM487 194h1v1H487zM492 194h1v1H492zM98 195h1v1H98zM173 195h1v1H173zM178 195h1v1H178zM186 195h1v1H186zM196 195h1v1H196zM210 195h1v1H210zM227 195h1v1H227zM248 195h1v1H248zM272 195h1v1H272zM299 195h1v1H299zM323 195h1v1H323zM333 195h1v1H333zM378 195h1v1H378zM388 195h1v1H388zM448 195h1v1H448zM452 195h1v1H452zM457 195h1v1H457zM487 195h1v1H487zM492 195h1v1H492zM98 196h1v1H98zM173 196h1v1H173zM178 196h1v1H178zM186 196h1v1H186zM196 196h1v1H196zM210 196h1v1H210zM227 196h1v1H227zM248 196h1v1H248zM272 196h1v1H272zM299 196h1v1H299zM323 196h1v1H323zM333 196h1v1H333zM378 196h1v1H378zM388 196h1v1H388zM448 196h1v1H448zM452 196h1v1H452zM457 196h1v1H457zM487 196h1v1H487zM492 196h1v1H492zM98 197h1v1H98zM173 197h1v1H173zM178 197h1v1H178zM186 197h1v1H186zM196 197h1v1H196zM210 197h1v1H210zM227 197h1v1H227zM248 197h1v1H248zM272 197h1v1H272zM299 197h1v1H299zM323 197h1v1H323zM333 197h1v1H333zM378 197h1v1H378zM387 197h2v1H387zM448 197h1v1H448zM452 197h1v1H452zM457 197h1v1H457zM487 197h1v1H487zM492 197h1v1H492zM98 198h1v1H98zM173 198h1v1H173zM178 198h1v1H178zM186 198h1v1H186zM196 198h1v1H196zM210 198h1v1H210zM227 198h1v1H227zM248 198h1v1H248zM272 198h1v1H272zM299 198h1v1H299zM323 198h1v1H323zM333 198h8v1H333zM378 198h1v1H378zM386 198h1v1H386zM388 198h1v1H388zM448 198h1v1H448zM452 198h1v1H452zM457 198h1v1H457zM487 198h1v1H487zM492 198h1v1H492zM98 199h1v1H98zM173 199h1v1H173zM178 199h1v1H178zM186 199h1v1H186zM196 199h1v1H196zM210 199h1v1H210zM227 199h1v1H227zM248 199h1v1H248zM272 199h1v1H272zM299 199h1v1H299zM323 199h1v1H323zM341 199h12v1H341zM378 199h1v1H378zM385 199h1v1H385zM388 199h1v1H388zM448 199h1v1H448zM452 199h1v1H452zM457 199h1v1H457zM487 199h1v1H487zM492 199h1v1H492zM98 200h1v1H98zM173 200h1v1H173zM178 200h1v1H178zM186 200h1v1H186zM196 200h1v1H196zM210 200h1v1H210zM227 200h1v1H227zM248 200h1v1H248zM272 200h1v1H272zM299 200h1v1H299zM323 200h1v1H323zM352 200h12v1H352zM378 200h1v1H378zM384 200h1v1H384zM388 200h1v1H388zM448 200h1v1H448zM452 200h1v1H452zM457 200h1v1H457zM487 200h1v1H487zM492 200h1v1H492zM98 201h1v1H98zM173 201h1v1H173zM178 201h1v1H178zM186 201h1v1H186zM196 201h1v1H196zM210 201h1v1H210zM227 201h1v1H227zM248 201h1v1H248zM272 201h1v1H272zM299 201h1v1H299zM323 201h1v1H323zM364 201h7v1H364zM378 201h1v1H378zM383 201h1v1H383zM388 201h1v1H388zM448 201h1v1H448zM452 201h1v1H452zM457 201h1v1H457zM487 201h1v1H487zM492 201h1v1H492zM98 202h1v1H98zM173 202h1v1H173zM178 202h1v1H178zM186 202h1v1H186zM196 202h1v1H196zM210 202h1v1H210zM227 202h1v1H227zM248 202h1v1H248zM272 202h1v1H272zM299 202h1v1H299zM323 202h1v1H323zM370 202h5v1H370zM378 202h1v1H378zM382 202h1v1H382zM388 202h1v1H388zM448 202h1v1H448zM452 202h1v1H452zM457 202h1v1H457zM487 202h1v1H487zM492 202h1v1H492zM98 203h1v1H98zM173 203h1v1H173zM178 203h1v1H178zM186 203h1v1H186zM196 203h1v1H196zM210 203h1v1H210zM227 203h1v1H227zM248 203h1v1H248zM272 203h1v1H272zM299 203h1v1H299zM323 203h1v1H323zM369 203h1v1H369zM375 203h1v1H375zM378 203h1v1H378zM381 203h1v1H381zM388 203h1v1H388zM448 203h5v1H448zM457 203h1v1H457zM487 203h1v1H487zM492 203h1v1H492zM98 204h1v1H98zM173 204h1v1H173zM178 204h1v1H178zM186 204h1v1H186zM196 204h1v1H196zM210 204h1v1H210zM227 204h1v1H227zM248 204h1v1H248zM272 204h1v1H272zM299 204h1v1H299zM323 204h1v1H323zM368 204h1v1H368zM376 204h1v1H376zM378 204h1v1H378zM380 204h1v1H380zM388 204h1v1H388zM448 204h1v1H448zM451 204h2v1H451zM457 204h1v1H457zM486 204h1v1H486zM492 204h1v1H492zM98 205h1v1H98zM173 205h1v1H173zM178 205h1v1H178zM186 205h1v1H186zM196 205h1v1H196zM210 205h1v1H210zM227 205h1v1H227zM248 205h1v1H248zM272 205h1v1H272zM299 205h1v1H299zM323 205h1v1H323zM334 205h5v1H334zM368 205h1v1H368zM376 205h1v1H376zM378 205h2v1H378zM388 205h1v1H388zM448 205h3v1H448zM452 205h1v1H452zM457 205h1v1H457zM486 205h1v1H486zM492 205h1v1H492zM98 206h1v1H98zM173 206h1v1H173zM178 206h1v1H178zM186 206h1v1H186zM196 206h1v1H196zM210 206h1v1H210zM227 206h1v1H227zM248 206h1v1H248zM272 206h1v1H272zM299 206h1v1H299zM323 206h1v1H323zM339 206h8v1H339zM368 206h1v1H368zM376 206h1v1H376zM378 206h1v1H378zM388 206h1v1H388zM448 206h1v1H448zM450 206h3v1H450zM458 206h1v1H458zM486 206h1v1H486zM492 206h1v1H492zM98 207h1v1H98zM173 207h1v1H173zM178 207h1v1H178zM186 207h1v1H186zM196 207h1v1H196zM210 207h1v1H210zM227 207h1v1H227zM248 207h1v1H248zM272 207h1v1H272zM299 207h1v1H299zM323 207h1v1H323zM347 207h8v1H347zM368 207h1v1H368zM376 207h1v1H376zM378 207h1v1H378zM388 207h1v1H388zM448 207h1v1H448zM450 207h1v1H450zM452 207h1v1H452zM458 207h1v1H458zM486 207h1v1H486zM492 207h1v1H492zM98 208h1v1H98zM173 208h1v1H173zM178 208h1v1H178zM186 208h1v1H186zM196 208h1v1H196zM210 208h1v1H210zM227 208h1v1H227zM248 208h1v1H248zM272 208h1v1H272zM299 208h1v1H299zM323 208h1v1H323zM355 208h8v1H355zM369 208h1v1H369zM375 208h1v1H375zM378 208h1v1H378zM388 208h1v1H388zM448 208h5v1H448zM458 208h1v1H458zM486 208h1v1H486zM492 208h1v1H492zM98 209h1v1H98zM173 209h1v1H173zM178 209h1v1H178zM186 209h1v1H186zM196 209h1v1H196zM210 209h1v1H210zM227 209h1v1H227zM248 209h1v1H248zM272 209h1v1H272zM299 209h1v1H299zM323 209h1v1H323zM363 209h5v1H363zM370 209h5v1H370zM378 209h1v1H378zM387 209h2v1H387zM448 209h1v1H448zM452 209h1v1H452zM458 209h1v1H458zM486 209h1v1H486zM492 209h1v1H492zM98 210h1v1H98zM173 210h1v1H173zM178 210h1v1H178zM186 210h1v1H186zM196 210h1v1H196zM210 210h1v1H210zM227 210h1v1H227zM248 210h1v1H248zM272 210h1v1H272zM299 210h1v1H299zM323 210h1v1H323zM378 210h1v1H378zM386 210h1v1H386zM388 210h1v1H388zM448 210h1v1H448zM452 210h1v1H452zM458 210h1v1H458zM486 210h1v1H486zM492 210h1v1H492zM98 211h1v1H98zM173 211h1v1H173zM178 211h1v1H178zM186 211h1v1H186zM196 211h1v1H196zM210 211h1v1H210zM227 211h1v1H227zM248 211h1v1H248zM272 211h1v1H272zM299 211h1v1H299zM323 211h1v1H323zM378 211h1v1H378zM385 211h1v1H385zM388 211h1v1H388zM448 211h1v1H448zM452 211h1v1H452zM458 211h1v1H458zM486 211h1v1H486zM492 211h1v1H492zM98 212h1v1H98zM173 212h1v1H173zM178 212h1v1H178zM186 212h1v1H186zM196 212h1v1H196zM210 212h1v1H210zM227 212h1v1H227zM248 212h1v1H248zM272 212h1v1H272zM299 212h1v1H299zM323 212h1v1H323zM378 212h1v1H378zM384 212h1v1H384zM388 212h1v1H388zM448 212h1v1H448zM452 212h1v1H452zM458 212h1v1H458zM486 212h1v1H486zM492 212h1v1H492zM98 213h1v1H98zM173 213h1v1H173zM178 213h1v1H178zM186 213h1v1H186zM196 213h1v1H196zM210 213h1v1H210zM227 213h1v1H227zM248 213h1v1H248zM272 213h1v1H272zM299 213h1v1H299zM323 213h1v1H323zM378 213h1v1H378zM383 213h1v1H383zM388 213h1v1H388zM448 213h1v1H448zM452 213h1v1H452zM458 213h1v1H458zM486 213h1v1H486zM492 213h1v1H492zM98 214h1v1H98zM173 214h1v1H173zM178 214h1v1H178zM186 214h1v1H186zM196 214h1v1H196zM210 214h1v1H210zM227 214h1v1H227zM248 214h1v1H248zM272 214h1v1H272zM299 214h1v1H299zM323 214h1v1H323zM378 214h1v1H378zM382 214h1v1H382zM388 214h1v1H388zM448 214h1v1H448zM452 214h1v1H452zM458 214h1v1H458zM486 214h1v1H486zM492 214h1v1H492zM98 215h1v1H98zM173 215h1v1H173zM178 215h1v1H178zM186 215h1v1H186zM196 215h1v1H196zM210 215h1v1H210zM227 215h1v1H227zM248 215h1v1H248zM272 215h1v1H272zM299 215h1v1H299zM323 215h1v1H323zM378 215h1v1H378zM381 215h1v1H381zM388 215h1v1H388zM448 215h1v1H448zM452 215h1v1H452zM458 215h1v1H458zM485 215h1v1H485zM492 215h1v1H492zM98 216h1v1H98zM173 216h1v1H173zM178 216h1v1H178zM186 216h1v1H186zM196 216h1v1H196zM210 216h1v1H210zM227 216h1v1H227zM248 216h1v1H248zM272 216h1v1H272zM299 216h1v1H299zM323 216h1v1H323zM333 216h1v1H333zM378 216h1v1H378zM380 216h1v1H380zM388 216h1v1H388zM448 216h1v1H448zM452 216h1v1H452zM458 216h1v1H458zM485 216h1v1H485zM492 216h1v1H492zM98 217h1v1H98zM173 217h1v1H173zM178 217h1v1H178zM186 217h1v1H186zM196 217h1v1H196zM210 217h1v1H210zM227 217h1v1H227zM248 217h1v1H248zM272 217h1v1H272zM299 217h1v1H299zM323 217h1v1H323zM333 217h6v1H333zM378 217h2v1H378zM388 217h1v1H388zM448 217h1v1H448zM452 217h1v1H452zM459 217h1v1H459zM485 217h1v1H485zM492 217h1v1H492zM98 218h1v1H98zM173 218h1v1H173zM178 218h1v1H178zM186 218h1v1H186zM196 218h1v1H196zM210 218h1v1H210zM227 218h1v1H227zM248 218h1v1H248zM272 218h1v1H272zM299 218h1v1H299zM323 218h1v1H323zM333 218h1v1H333zM339 218h9v1H339zM378 218h1v1H378zM388 218h1v1H388zM448 218h1v1H448zM452 218h1v1H452zM459 218h1v1H459zM485 218h1v1H485zM492 218h1v1H492zM98 219h1v1H98zM173 219h1v1H173zM178 219h1v1H178zM186 219h1v1H186zM196 219h1v1H196zM210 219h1v1H210zM227 219h1v1H227zM248 219h1v1H248zM272 219h1v1H272zM299 219h1v1H299zM323 219h1v1H323zM333 219h1v1H333zM348 219h9v1H348zM378 219h1v1H378zM388 219h1v1H388zM448 219h1v1H448zM452 219h1v1H452zM459 219h1v1H459zM485 219h1v1H485zM492 219h1v1H492zM98 220h1v1H98zM173 220h1v1H173zM178 220h1v1H178zM186 220h1v1H186zM196 220h1v1H196zM210 220h1v1H210zM227 220h1v1H227zM248 220h1v1H248zM272 220h1v1H272zM299 220h1v1H299zM323 220h1v1H323zM333 220h1v1H333zM357 220h9v1H357zM378 220h1v1H378zM387 220h2v1H387zM448 220h1v1H448zM452 220h1v1H452zM459 220h1v1H459zM485 220h1v1H485zM492 220h1v1H492zM98 221h1v1H98zM173 221h1v1H173zM178 221h1v1H178zM186 221h1v1H186zM196 221h1v1H196zM210 221h1v1H210zM227 221h1v1H227zM248 221h1v1H248zM272 221h1v1H272zM299 221h1v1H299zM323 221h1v1H323zM333 221h1v1H333zM366 221h5v1H366zM378 221h1v1H378zM386 221h1v1H386zM388 221h1v1H388zM448 221h5v1H448zM459 221h1v1H459zM485 221h1v1H485zM492 221h1v1H492zM98 222h1v1H98zM173 222h1v1H173zM178 222h1v1H178zM186 222h1v1H186zM196 222h1v1H196zM210 222h1v1H210zM227 222h1v1H227zM248 222h1v1H248zM272 222h1v1H272zM299 222h1v1H299zM323 222h1v1H323zM333 222h1v1H333zM370 222h5v1H370zM378 222h1v1H378zM385 222h1v1H385zM388 222h1v1H388zM448 222h1v1H448zM450 222h1v1H450zM452 222h1v1H452zM459 222h1v1H459zM485 222h1v1H485zM492 222h1v1H492zM98 223h1v1H98zM173 223h1v1H173zM178 223h1v1H178zM186 223h1v1H186zM196 223h1v1H196zM210 223h1v1H210zM227 223h1v1H227zM248 223h1v1H248zM272 223h1v1H272zM299 223h1v1H299zM323 223h1v1H323zM333 223h1v1H333zM369 223h1v1H369zM375 223h1v1H375zM378 223h1v1H378zM384 223h1v1H384zM388 223h1v1H388zM448 223h5v1H448zM459 223h1v1H459zM485 223h1v1H485zM492 223h1v1H492zM98 224h1v1H98zM173 224h1v1H173zM178 224h1v1H178zM186 224h1v1H186zM196 224h1v1H196zM210 224h1v1H210zM227 224h1v1H227zM248 224h1v1H248zM272 224h1v1H272zM299 224h1v1H299zM323 224h1v1H323zM333 224h1v1H333zM368 224h1v1H368zM376 224h1v1H376zM378 224h1v1H378zM383 224h1v1H383zM388 224h1v1H388zM448 224h1v1H448zM450 224h1v1H450zM452 224h1v1H452zM459 224h1v1H459zM485 224h1v1H485zM492 224h1v1H492zM98 225h1v1H98zM173 225h1v1H173zM178 225h1v1H178zM186 225h1v1H186zM196 225h1v1H196zM210 225h1v1H210zM227 225h1v1H227zM248 225h1v1H248zM272 225h1v1H272zM299 225h1v1H299zM323 225h1v1H323zM333 225h6v1H333zM368 225h1v1H368zM376 225h1v1H376zM378 225h1v1H378zM382 225h1v1H382zM388 225h1v1H388zM448 225h2v1H448zM452 225h1v1H452zM459 225h1v1H459zM485 225h1v1H485zM492 225h1v1H492zM98 226h1v1H98zM173 226h1v1H173zM178 226h1v1H178zM186 226h1v1H186zM196 226h1v1H196zM210 226h1v1H210zM227 226h1v1H227zM248 226h1v1H248zM272 226h1v1H272zM299 226h1v1H299zM323 226h1v1H323zM333 226h1v1H333zM339 226h8v1H339zM368 226h1v1H368zM376 226h1v1H376zM378 226h1v1H378zM381 226h1v1H381zM388 226h1v1H388zM448 226h5v1H448zM459 226h1v1H459zM485 226h1v1H485zM492 226h1v1H492zM98 227h1v1H98zM173 227h1v1H173zM178 227h1v1H178zM186 227h1v1H186zM196 227h1v1H196zM210 227h1v1H210zM227 227h1v1H227zM248 227h1v1H248zM272 227h1v1H272zM299 227h1v1H299zM323 227h1v1H323zM333 227h1v1H333zM347 227h8v1H347zM368 227h1v1H368zM376 227h1v1H376zM378 227h1v1H378zM380 227h1v1H380zM388 227h1v1H388zM448 227h1v1H448zM452 227h1v1H452zM459 227h1v1H459zM484 227h1v1H484zM492 227h1v1H492zM98 228h1v1H98zM173 228h1v1H173zM178 228h1v1H178zM186 228h1v1H186zM196 228h1v1H196zM210 228h1v1H210zM227 228h1v1H227zM248 228h1v1H248zM272 228h1v1H272zM299 228h1v1H299zM323 228h1v1H323zM333 228h1v1H333zM355 228h8v1H355zM369 228h1v1H369zM375 228h1v1H375zM378 228h2v1H378zM388 228h1v1H388zM448 228h1v1H448zM452 228h1v1H452zM459 228h1v1H459zM484 228h1v1H484zM492 228h1v1H492zM98 229h1v1H98zM173 229h1v1H173zM178 229h1v1H178zM186 229h1v1H186zM196 229h1v1H196zM210 229h1v1H210zM227 229h1v1H227zM248 229h1v1H248zM272 229h1v1H272zM299 229h1v1H299zM323 229h1v1H323zM333 229h1v1H333zM363 229h5v1H363zM370 229h5v1H370zM378 229h1v1H378zM388 229h1v1H388zM448 229h1v1H448zM452 229h1v1H452zM460 229h1v1H460zM484 229h1v1H484zM492 229h1v1H492zM98 230h1v1H98zM173 230h1v1H173zM178 230h1v1H178zM186 230h1v1H186zM196 230h1v1H196zM210 230h1v1H210zM227 230h1v1H227zM248 230h1v1H248zM272 230h1v1H272zM299 230h1v1H299zM323 230h1v1H323zM333 230h1v1H333zM378 230h1v1H378zM388 230h1v1H388zM448 230h1v1H448zM452 230h1v1H452zM460 230h1v1H460zM484 230h1v1H484zM492 230h1v1H492zM98 231h1v1H98zM173 231h1v1H173zM178 231h1v1H178zM186 231h1v1H186zM196 231h1v1H196zM210 231h1v1H210zM227 231h1v1H227zM248 231h1v1H248zM272 231h1v1H272zM299 231h1v1H299zM323 231h1v1H323zM333 231h1v1H333zM378 231h1v1H378zM388 231h1v1H388zM448 231h1v1H448zM452 231h1v1H452zM460 231h1v1H460zM484 231h1v1H484zM492 231h1v1H492zM98 232h1v1H98zM173 232h1v1H173zM178 232h1v1H178zM186 232h1v1H186zM196 232h1v1H196zM210 232h1v1H210zM227 232h1v1H227zM248 232h1v1H248zM272 232h1v1H272zM299 232h1v1H299zM323 232h1v1H323zM333 232h1v1H333zM378 232h1v1H378zM387 232h2v1H387zM448 232h1v1H448zM452 232h1v1H452zM460 232h1v1H460zM484 232h1v1H484zM492 232h1v1H492zM98 233h1v1H98zM173 233h1v1H173zM178 233h1v1H178zM186 233h1v1H186zM196 233h1v1H196zM210 233h1v1H210zM227 233h1v1H227zM248 233h1v1H248zM272 233h1v1H272zM299 233h1v1H299zM323 233h1v1H323zM378 233h1v1H378zM386 233h1v1H386zM388 233h1v1H388zM448 233h1v1H448zM452 233h1v1H452zM460 233h1v1H460zM484 233h1v1H484zM492 233h1v1H492zM98 234h1v1H98zM173 234h1v1H173zM178 234h1v1H178zM186 234h1v1H186zM196 234h1v1H196zM210 234h1v1H210zM227 234h1v1H227zM248 234h1v1H248zM272 234h1v1H272zM299 234h1v1H299zM323 234h1v1H323zM378 234h1v1H378zM385 234h1v1H385zM388 234h1v1H388zM448 234h1v1H448zM452 234h1v1H452zM460 234h1v1H460zM484 234h1v1H484zM492 234h1v1H492zM98 235h1v1H98zM173 235h1v1H173zM178 235h1v1H178zM186 235h1v1H186zM196 235h1v1H196zM210 235h1v1H210zM227 235h1v1H227zM248 235h1v1H248zM272 235h1v1H272zM299 235h1v1H299zM323 235h1v1H323zM378 235h1v1H378zM384 235h1v1H384zM388 235h1v1H388zM448 235h1v1H448zM452 235h1v1H452zM460 235h1v1H460zM484 235h1v1H484zM492 235h1v1H492zM98 236h1v1H98zM173 236h1v1H173zM178 236h1v1H178zM186 236h1v1H186zM196 236h1v1H196zM210 236h1v1H210zM227 236h1v1H227zM248 236h1v1H248zM272 236h1v1H272zM299 236h1v1H299zM323 236h1v1H323zM378 236h1v1H378zM383 236h1v1H383zM388 236h1v1H388zM448 236h1v1H448zM452 236h1v1H452zM460 236h1v1H460zM484 236h1v1H484zM492 236h1v1H492zM98 237h1v1H98zM173 237h1v1H173zM178 237h1v1H178zM186 237h1v1H186zM196 237h1v1H196zM210 237h1v1H210zM227 237h1v1H227zM248 237h1v1H248zM272 237h1v1H272zM299 237h1v1H299zM323 237h1v1H323zM334 237h3v1H334zM378 237h1v1H378zM382 237h1v1H382zM388 237h1v1H388zM448 237h1v1H448zM452 237h1v1H452zM460 237h1v1H460zM484 237h1v1H484zM492 237h1v1H492zM98 238h1v1H98zM173 238h1v1H173zM178 238h1v1H178zM186 238h1v1H186zM196 238h1v1H196zM210 238h1v1H210zM227 238h1v1H227zM248 238h1v1H248zM272 238h1v1H272zM299 238h1v1H299zM323 238h1v1H323zM337 238h3v1H337zM378 238h1v1H378zM381 238h1v1H381zM388 238h1v1H388zM448 238h5v1H448zM460 238h1v1H460zM483 238h1v1H483zM492 238h1v1H492zM98 239h1v1H98zM173 239h1v1H173zM178 239h1v1H178zM186 239h1v1H186zM196 239h1v1H196zM210 239h1v1H210zM227 239h1v1H227zM248 239h1v1H248zM272 239h1v1H272zM299 239h1v1H299zM323 239h1v1H323zM340 239h10v1H340zM378 239h1v1H378zM380 239h1v1H380zM388 239h1v1H388zM448 239h1v1H448zM451 239h2v1H451zM460 239h1v1H460zM483 239h1v1H483zM492 239h1v1H492zM98 240h1v1H98zM173 240h1v1H173zM178 240h1v1H178zM186 240h1v1H186zM196 240h1v1H196zM210 240h1v1H210zM227 240h1v1H227zM248 240h1v1H248zM272 240h1v1H272zM299 240h1v1H299zM323 240h1v1H323zM333 240h35v1H333zM378 240h2v1H378zM388 240h1v1H388zM448 240h3v1H448zM452 240h1v1H452zM461 240h1v1H461zM483 240h1v1H483zM492 240h1v1H492zM98 241h1v1H98zM173 241h1v1H173zM178 241h1v1H178zM186 241h1v1H186zM196 241h1v1H196zM210 241h1v1H210zM227 241h1v1H227zM248 241h1v1H248zM272 241h1v1H272zM299 241h1v1H299zM323 241h1v1H323zM343 241h1v1H343zM355 241h1v1H355zM366 241h2v1H366zM378 241h1v1H378zM388 241h1v1H388zM448 241h1v1H448zM450 241h3v1H450zM461 241h1v1H461zM483 241h1v1H483zM492 241h1v1H492zM98 242h1v1H98zM173 242h1v1H173zM178 242h1v1H178zM186 242h1v1H186zM196 242h1v1H196zM210 242h1v1H210zM227 242h1v1H227zM248 242h1v1H248zM272 242h1v1H272zM299 242h1v1H299zM323 242h1v1H323zM342 242h1v1H342zM354 242h1v1H354zM365 242h1v1H365zM367 242h1v1H367zM370 242h5v1H370zM378 242h1v1H378zM388 242h1v1H388zM448 242h1v1H448zM450 242h1v1H450zM452 242h1v1H452zM461 242h1v1H461zM483 242h1v1H483zM492 242h1v1H492zM98 243h1v1H98zM173 243h1v1H173zM178 243h1v1H178zM186 243h1v1H186zM196 243h1v1H196zM210 243h1v1H210zM227 243h1v1H227zM248 243h1v1H248zM272 243h1v1H272zM299 243h1v1H299zM323 243h1v1H323zM341 243h1v1H341zM353 243h1v1H353zM364 243h1v1H364zM367 243h1v1H367zM369 243h1v1H369zM375 243h1v1H375zM378 243h1v1H378zM387 243h2v1H387zM448 243h5v1H448zM461 243h1v1H461zM483 243h1v1H483zM492 243h1v1H492zM98 244h1v1H98zM173 244h1v1H173zM178 244h1v1H178zM186 244h1v1H186zM196 244h1v1H196zM210 244h1v1H210zM227 244h1v1H227zM248 244h1v1H248zM272 244h1v1H272zM299 244h1v1H299zM323 244h1v1H323zM340 244h1v1H340zM352 244h1v1H352zM363 244h1v1H363zM367 244h2v1H367zM376 244h1v1H376zM378 244h1v1H378zM386 244h1v1H386zM388 244h1v1H388zM448 244h1v1H448zM452 244h1v1H452zM461 244h1v1H461zM483 244h1v1H483zM492 244h1v1H492zM98 245h1v1H98zM173 245h1v1H173zM178 245h1v1H178zM186 245h1v1H186zM196 245h1v1H196zM210 245h1v1H210zM227 245h1v1H227zM248 245h1v1H248zM272 245h1v1H272zM299 245h1v1H299zM323 245h1v1H323zM339 245h1v1H339zM351 245h1v1H351zM362 245h1v1H362zM367 245h2v1H367zM376 245h1v1H376zM378 245h1v1H378zM385 245h1v1H385zM388 245h1v1H388zM448 245h1v1H448zM452 245h1v1H452zM461 245h1v1H461zM483 245h1v1H483zM492 245h1v1H492zM98 246h1v1H98zM173 246h1v1H173zM178 246h1v1H178zM186 246h1v1H186zM196 246h1v1H196zM210 246h1v1H210zM227 246h1v1H227zM248 246h1v1H248zM272 246h1v1H272zM299 246h1v1H299zM323 246h1v1H323zM338 246h1v1H338zM350 246h1v1H350zM361 246h1v1H361zM367 246h2v1H367zM376 246h1v1H376zM378 246h1v1H378zM384 246h1v1H384zM388 246h1v1H388zM448 246h1v1H448zM452 246h1v1H452zM461 246h1v1H461zM483 246h1v1H483zM492 246h1v1H492zM98 247h1v1H98zM173 247h1v1H173zM178 247h1v1H178zM186 247h1v1H186zM196 247h1v1H196zM210 247h1v1H210zM227 247h1v1H227zM248 247h1v1H248zM272 247h1v1H272zM299 247h1v1H299zM323 247h1v1H323zM337 247h1v1H337zM349 247h1v1H349zM360 247h1v1H360zM367 247h2v1H367zM376 247h1v1H376zM378 247h1v1H378zM383 247h1v1H383zM388 247h1v1H388zM448 247h1v1H448zM452 247h1v1H452zM461 247h1v1H461zM483 247h1v1H483zM492 247h1v1H492zM98 248h1v1H98zM173 248h1v1H173zM178 248h1v1H178zM186 248h1v1H186zM196 248h1v1H196zM210 248h1v1H210zM227 248h1v1H227zM248 248h1v1H248zM272 248h1v1H272zM299 248h1v1H299zM323 248h1v1H323zM336 248h1v1H336zM348 248h1v1H348zM359 248h1v1H359zM367 248h1v1H367zM369 248h1v1H369zM375 248h1v1H375zM378 248h1v1H378zM382 248h1v1H382zM388 248h1v1H388zM448 248h1v1H448zM452 248h1v1H452zM461 248h1v1H461zM483 248h1v1H483zM492 248h1v1H492zM98 249h1v1H98zM173 249h1v1H173zM178 249h1v1H178zM186 249h1v1H186zM196 249h1v1H196zM210 249h1v1H210zM227 249h1v1H227zM248 249h1v1H248zM272 249h1v1H272zM299 249h1v1H299zM323 249h1v1H323zM335 249h1v1H335zM347 249h1v1H347zM358 249h1v1H358zM367 249h1v1H367zM370 249h5v1H370zM378 249h1v1H378zM381 249h1v1H381zM388 249h1v1H388zM448 249h1v1H448zM452 249h1v1H452zM461 249h1v1H461zM483 249h1v1H483zM492 249h1v1H492zM98 250h1v1H98zM173 250h1v1H173zM178 250h1v1H178zM186 250h1v1H186zM196 250h1v1H196zM210 250h1v1H210zM227 250h1v1H227zM248 250h1v1H248zM272 250h1v1H272zM299 250h1v1H299zM323 250h1v1H323zM333 250h2v1H333zM346 250h1v1H346zM357 250h1v1H357zM367 250h12v1H367zM380 250h1v1H380zM388 250h1v1H388zM448 250h1v1H448zM452 250h1v1H452zM461 250h1v1H461zM482 250h1v1H482zM492 250h1v1H492zM98 251h1v1H98zM173 251h1v1H173zM178 251h1v1H178zM186 251h1v1H186zM196 251h1v1H196zM210 251h1v1H210zM227 251h1v1H227zM248 251h1v1H248zM272 251h1v1H272zM299 251h1v1H299zM323 251h1v1H323zM333 251h1v1H333zM345 251h1v1H345zM356 251h1v1H356zM368 251h1v1H368zM379 251h1v1H379zM388 251h1v1H388zM448 251h1v1H448zM452 251h1v1H452zM461 251h1v1H461zM482 251h1v1H482zM492 251h1v1H492zM98 252h1v1H98zM173 252h1v1H173zM178 252h1v1H178zM186 252h1v1H186zM196 252h1v1H196zM210 252h1v1H210zM227 252h1v1H227zM248 252h1v1H248zM272 252h1v1H272zM299 252h1v1H299zM323 252h1v1H323zM333 252h1v1H333zM344 252h1v1H344zM355 252h1v1H355zM367 252h1v1H367zM378 252h1v1H378zM388 252h1v1H388zM448 252h1v1H448zM452 252h1v1H452zM462 252h1v1H462zM482 252h1v1H482zM492 252h1v1H492zM98 253h1v1H98zM173 253h1v1H173zM178 253h1v1H178zM186 253h1v1H186zM196 253h1v1H196zM210 253h1v1H210zM227 253h1v1H227zM248 253h1v1H248zM272 253h1v1H272zM299 253h1v1H299zM323 253h1v1H323zM333 253h1v1H333zM343 253h1v1H343zM354 253h1v1H354zM366 253h1v1H366zM377 253h1v1H377zM388 253h1v1H388zM448 253h1v1H448zM452 253h1v1H452zM462 253h1v1H462zM482 253h1v1H482zM492 253h1v1H492zM98 254h1v1H98zM173 254h1v1H173zM178 254h1v1H178zM186 254h1v1H186zM196 254h1v1H196zM210 254h1v1H210zM227 254h1v1H227zM248 254h1v1H248zM272 254h1v1H272zM299 254h1v1H299zM323 254h1v1H323zM333 254h1v1H333zM342 254h1v1H342zM353 254h1v1H353zM365 254h1v1H365zM376 254h1v1H376zM388 254h1v1H388zM448 254h1v1H448zM452 254h1v1H452zM462 254h1v1H462zM482 254h1v1H482zM492 254h1v1H492zM98 255h1v1H98zM173 255h1v1H173zM178 255h1v1H178zM186 255h1v1H186zM196 255h1v1H196zM210 255h1v1H210zM227 255h1v1H227zM248 255h1v1H248zM272 255h1v1H272zM299 255h1v1H299zM323 255h1v1H323zM333 255h1v1H333zM341 255h1v1H341zM352 255h1v1H352zM364 255h1v1H364zM375 255h1v1H375zM387 255h2v1H387zM448 255h1v1H448zM452 255h1v1H452zM462 255h1v1H462zM482 255h1v1H482zM492 255h1v1H492zM98 256h1v1H98zM173 256h1v1H173zM178 256h1v1H178zM186 256h1v1H186zM196 256h1v1H196zM210 256h1v1H210zM227 256h1v1H227zM248 256h1v1H248zM272 256h1v1H272zM299 256h1v1H299zM323 256h1v1H323zM333 256h1v1H333zM340 256h1v1H340zM351 256h1v1H351zM363 256h1v1H363zM374 256h1v1H374zM386 256h1v1H386zM388 256h1v1H388zM448 256h5v1H448zM462 256h1v1H462zM482 256h1v1H482zM492 256h1v1H492zM98 257h1v1H98zM173 257h1v1H173zM178 257h1v1H178zM186 257h1v1H186zM196 257h1v1H196zM210 257h1v1H210zM227 257h1v1H227zM248 257h1v1H248zM272 257h1v1H272zM299 257h1v1H299zM323 257h1v1H323zM333 257h1v1H333zM339 257h1v1H339zM350 257h1v1H350zM362 257h1v1H362zM373 257h1v1H373zM385 257h1v1H385zM388 257h1v1H388zM448 257h1v1H448zM450 257h1v1H450zM452 257h1v1H452zM462 257h1v1H462zM482 257h1v1H482zM492 257h1v1H492zM98 258h1v1H98zM173 258h1v1H173zM178 258h1v1H178zM186 258h1v1H186zM196 258h1v1H196zM210 258h1v1H210zM227 258h1v1H227zM248 258h1v1H248zM272 258h1v1H272zM299 258h1v1H299zM323 258h1v1H323zM333 258h1v1H333zM338 258h1v1H338zM349 258h1v1H349zM361 258h1v1H361zM372 258h1v1H372zM384 258h1v1H384zM388 258h1v1H388zM448 258h5v1H448zM462 258h1v1H462zM482 258h1v1H482zM492 258h1v1H492zM98 259h1v1H98zM173 259h1v1H173zM178 259h1v1H178zM186 259h1v1H186zM196 259h1v1H196zM210 259h1v1H210zM227 259h1v1H227zM248 259h1v1H248zM272 259h1v1H272zM299 259h1v1H299zM323 259h1v1H323zM333 259h1v1H333zM337 259h1v1H337zM348 259h1v1H348zM360 259h1v1H360zM371 259h1v1H371zM383 259h1v1H383zM388 259h1v1H388zM448 259h1v1H448zM450 259h1v1H450zM452 259h1v1H452zM462 259h1v1H462zM482 259h1v1H482zM492 259h1v1H492zM98 260h1v1H98zM173 260h1v1H173zM178 260h1v1H178zM186 260h1v1H186zM196 260h1v1H196zM210 260h1v1H210zM227 260h1v1H227zM248 260h1v1H248zM272 260h1v1H272zM299 260h1v1H299zM323 260h1v1H323zM333 260h56v1H333zM448 260h2v1H448zM452 260h1v1H452zM462 260h1v1H462zM482 260h1v1H482zM492 260h1v1H492zM98 261h1v1H98zM173 261h1v1H173zM178 261h1v1H178zM186 261h1v1H186zM196 261h1v1H196zM210 261h1v1H210zM227 261h1v1H227zM248 261h1v1H248zM272 261h1v1H272zM299 261h1v1H299zM323 261h1v1H323zM333 261h1v1H333zM448 261h5v1H448zM462 261h1v1H462zM482 261h1v1H482zM492 261h1v1H492zM98 262h1v1H98zM173 262h1v1H173zM178 262h1v1H178zM186 262h1v1H186zM196 262h1v1H196zM210 262h1v1H210zM227 262h1v1H227zM248 262h1v1H248zM272 262h1v1H272zM299 262h1v1H299zM323 262h1v1H323zM333 262h1v1H333zM448 262h1v1H448zM452 262h1v1H452zM462 262h1v1H462zM481 262h1v1H481zM492 262h1v1H492zM98 263h1v1H98zM173 263h1v1H173zM178 263h1v1H178zM186 263h1v1H186zM196 263h1v1H196zM210 263h1v1H210zM227 263h1v1H227zM248 263h1v1H248zM272 263h1v1H272zM299 263h1v1H299zM323 263h1v1H323zM333 263h1v1H333zM448 263h1v1H448zM452 263h1v1H452zM462 263h1v1H462zM481 263h1v1H481zM492 263h1v1H492zM98 264h1v1H98zM173 264h1v1H173zM178 264h1v1H178zM186 264h1v1H186zM196 264h1v1H196zM210 264h1v1H210zM227 264h1v1H227zM248 264h1v1H248zM272 264h1v1H272zM299 264h1v1H299zM323 264h1v1H323zM333 264h1v1H333zM448 264h1v1H448zM452 264h1v1H452zM463 264h1v1H463zM481 264h1v1H481zM492 264h1v1H492zM98 265h1v1H98zM173 265h1v1H173zM178 265h1v1H178zM186 265h1v1H186zM196 265h1v1H196zM210 265h1v1H210zM227 265h1v1H227zM248 265h1v1H248zM272 265h1v1H272zM299 265h1v1H299zM323 265h1v1H323zM333 265h1v1H333zM448 265h1v1H448zM452 265h1v1H452zM463 265h1v1H463zM481 265h1v1H481zM492 265h1v1H492zM98 266h1v1H98zM173 266h1v1H173zM178 266h1v1H178zM186 266h1v1H186zM196 266h1v1H196zM210 266h1v1H210zM227 266h1v1H227zM248 266h1v1H248zM272 266h1v1H272zM299 266h1v1H299zM323 266h1v1H323zM333 266h1v1H333zM448 266h1v1H448zM452 266h1v1H452zM463 266h1v1H463zM481 266h1v1H481zM492 266h1v1H492zM98 267h1v1H98zM173 267h1v1H173zM178 267h1v1H178zM186 267h1v1H186zM196 267h1v1H196zM210 267h1v1H210zM227 267h1v1H227zM248 267h1v1H248zM272 267h1v1H272zM299 267h1v1H299zM323 267h1v1H323zM448 267h1v1H448zM452 267h1v1H452zM463 267h1v1H463zM481 267h1v1H481zM492 267h1v1H492zM98 268h1v1H98zM173 268h1v1H173zM178 268h1v1H178zM186 268h1v1H186zM196 268h1v1H196zM210 268h1v1H210zM227 268h1v1H227zM248 268h1v1H248zM272 268h1v1H272zM299 268h1v1H299zM323 268h1v1H323zM448 268h1v1H448zM452 268h1v1H452zM463 268h1v1H463zM481 268h1v1H481zM492 268h1v1H492zM98 269h1v1H98zM173 269h1v1H173zM178 269h1v1H178zM186 269h1v1H186zM196 269h1v1H196zM210 269h1v1H210zM227 269h1v1H227zM248 269h1v1H248zM272 269h1v1H272zM299 269h1v1H299zM323 269h1v1H323zM448 269h1v1H448zM452 269h1v1H452zM463 269h1v1H463zM481 269h1v1H481zM492 269h1v1H492zM98 270h1v1H98zM173 270h1v1H173zM178 270h1v1H178zM186 270h1v1H186zM196 270h1v1H196zM210 270h1v1H210zM227 270h1v1H227zM248 270h1v1H248zM272 270h1v1H272zM299 270h1v1H299zM323 270h1v1H323zM448 270h1v1H448zM452 270h1v1H452zM463 270h1v1H463zM481 270h1v1H481zM492 270h1v1H492zM98 271h1v1H98zM173 271h1v1H173zM178 271h1v1H178zM186 271h1v1H186zM196 271h1v1H196zM210 271h1v1H210zM227 271h1v1H227zM248 271h1v1H248zM272 271h1v1H272zM299 271h1v1H299zM323 271h1v1H323zM448 271h1v1H448zM452 271h1v1H452zM463 271h1v1H463zM481 271h1v1H481zM492 271h1v1H492zM98 272h1v1H98zM173 272h1v1H173zM178 272h1v1H178zM186 272h1v1H186zM196 272h1v1H196zM210 272h1v1H210zM227 272h1v1H227zM248 272h1v1H248zM272 272h1v1H272zM299 272h1v1H299zM323 272h1v1H323zM448 272h1v1H448zM452 272h1v1H452zM463 272h1v1H463zM481 272h1v1H481zM492 272h1v1H492zM98 273h1v1H98zM173 273h1v1H173zM178 273h1v1H178zM186 273h1v1H186zM196 273h1v1H196zM210 273h1v1H210zM227 273h1v1H227zM248 273h1v1H248zM272 273h1v1H272zM299 273h1v1H299zM323 273h1v1H323zM448 273h5v1H448zM463 273h1v1H463zM480 273h1v1H480zM492 273h1v1H492zM98 274h1v1H98zM173 274h1v1H173zM178 274h1v1H178zM186 274h1v1H186zM196 274h1v1H196zM210 274h1v1H210zM227 274h1v1H227zM248 274h1v1H248zM272 274h1v1H272zM299 274h1v1H299zM323 274h1v1H323zM448 274h1v1H448zM451 274h2v1H451zM463 274h1v1H463zM480 274h1v1H480zM492 274h1v1H492zM98 275h1v1H98zM173 275h1v1H173zM178 275h1v1H178zM186 275h1v1H186zM196 275h1v1H196zM210 275h1v1H210zM227 275h1v1H227zM248 275h1v1H248zM272 275h1v1H272zM299 275h1v1H299zM323 275h1v1H323zM448 275h3v1H448zM452 275h1v1H452zM464 275h1v1H464zM480 275h1v1H480zM492 275h1v1H492zM98 276h1v1H98zM173 276h1v1H173zM178 276h1v1H178zM186 276h1v1H186zM196 276h1v1H196zM210 276h1v1H210zM227 276h1v1H227zM248 276h1v1H248zM272 276h1v1H272zM299 276h1v1H299zM323 276h1v1H323zM448 276h1v1H448zM450 276h3v1H450zM464 276h1v1H464zM480 276h1v1H480zM492 276h1v1H492zM98 277h1v1H98zM173 277h1v1H173zM178 277h1v1H178zM186 277h1v1H186zM196 277h1v1H196zM210 277h1v1H210zM227 277h1v1H227zM248 277h1v1H248zM272 277h1v1H272zM299 277h1v1H299zM323 277h1v1H323zM448 277h1v1H448zM450 277h1v1H450zM452 277h1v1H452zM464 277h1v1H464zM480 277h1v1H480zM492 277h1v1H492zM98 278h1v1H98zM173 278h1v1H173zM178 278h1v1H178zM186 278h1v1H186zM196 278h1v1H196zM210 278h1v1H210zM227 278h1v1H227zM248 278h1v1H248zM272 278h1v1H272zM299 278h1v1H299zM323 278h1v1H323zM448 278h5v1H448zM464 278h1v1H464zM480 278h1v1H480zM492 278h1v1H492zM98 279h1v1H98zM173 279h1v1H173zM178 279h1v1H178zM186 279h1v1H186zM196 279h1v1H196zM210 279h1v1H210zM227 279h1v1H227zM248 279h1v1H248zM272 279h1v1H272zM299 279h1v1H299zM323 279h1v1H323zM448 279h1v1H448zM452 279h1v1H452zM464 279h1v1H464zM480 279h1v1H480zM492 279h1v1H492zM98 280h1v1H98zM173 280h1v1H173zM178 280h1v1H178zM186 280h1v1H186zM196 280h1v1H196zM210 280h1v1H210zM227 280h1v1H227zM248 280h1v1H248zM272 280h1v1H272zM299 280h1v1H299zM323 280h1v1H323zM448 280h1v1H448zM452 280h1v1H452zM464 280h1v1H464zM480 280h1v1H480zM492 280h1v1H492zM98 281h1v1H98zM173 281h1v1H173zM178 281h1v1H178zM186 281h1v1H186zM196 281h1v1H196zM210 281h1v1H210zM227 281h1v1H227zM248 281h1v1H248zM272 281h1v1H272zM299 281h1v1H299zM323 281h1v1H323zM448 281h1v1H448zM452 281h1v1H452zM464 281h1v1H464zM480 281h1v1H480zM492 281h1v1H492zM98 282h1v1H98zM173 282h1v1H173zM178 282h1v1H178zM186 282h1v1H186zM196 282h1v1H196zM210 282h1v1H210zM227 282h1v1H227zM248 282h1v1H248zM272 282h1v1H272zM299 282h1v1H299zM323 282h1v1H323zM448 282h1v1H448zM452 282h1v1H452zM464 282h1v1H464zM480 282h1v1H480zM492 282h1v1H492zM98 283h1v1H98zM173 283h1v1H173zM178 283h1v1H178zM186 283h1v1H186zM196 283h1v1H196zM210 283h1v1H210zM227 283h1v1H227zM248 283h1v1H248zM272 283h1v1H272zM299 283h1v1H299zM323 283h1v1H323zM333 283h1v1H333zM448 283h1v1H448zM452 283h1v1H452zM464 283h1v1H464zM480 283h1v1H480zM492 283h1v1H492zM98 284h1v1H98zM173 284h1v1H173zM178 284h1v1H178zM186 284h1v1H186zM196 284h1v1H196zM210 284h1v1H210zM227 284h1v1H227zM248 284h1v1H248zM272 284h1v1H272zM299 284h1v1H299zM323 284h1v1H323zM333 284h1v1H333zM448 284h1v1H448zM452 284h1v1H452zM464 284h1v1H464zM480 284h1v1H480zM492 284h1v1H492zM98 285h1v1H98zM173 285h1v1H173zM178 285h1v1H178zM186 285h1v1H186zM196 285h1v1H196zM210 285h1v1H210zM227 285h1v1H227zM248 285h1v1H248zM272 285h1v1H272zM299 285h1v1H299zM323 285h1v1H323zM333 285h1v1H333zM448 285h1v1H448zM452 285h1v1H452zM464 285h1v1H464zM479 285h1v1H479zM492 285h1v1H492zM98 286h1v1H98zM173 286h1v1H173zM178 286h1v1H178zM186 286h1v1H186zM196 286h1v1H196zM210 286h1v1H210zM227 286h1v1H227zM248 286h1v1H248zM272 286h1v1H272zM299 286h1v1H299zM323 286h1v1H323zM333 286h1v1H333zM448 286h1v1H448zM452 286h1v1H452zM464 286h1v1H464zM479 286h1v1H479zM492 286h1v1H492zM98 287h1v1H98zM173 287h1v1H173zM178 287h1v1H178zM186 287h1v1H186zM196 287h1v1H196zM210 287h1v1H210zM227 287h1v1H227zM248 287h1v1H248zM272 287h1v1H272zM299 287h1v1H299zM323 287h1v1H323zM333 287h1v1H333zM448 287h1v1H448zM452 287h1v1H452zM465 287h1v1H465zM479 287h1v1H479zM492 287h1v1H492zM98 288h1v1H98zM173 288h1v1H173zM178 288h1v1H178zM186 288h1v1H186zM196 288h1v1H196zM210 288h1v1H210zM227 288h1v1H227zM248 288h1v1H248zM272 288h1v1H272zM299 288h1v1H299zM323 288h1v1H323zM333 288h1v1H333zM448 288h1v1H448zM452 288h1v1H452zM465 288h1v1H465zM479 288h1v1H479zM492 288h1v1H492zM98 289h1v1H98zM173 289h1v1H173zM178 289h1v1H178zM186 289h1v1H186zM196 289h1v1H196zM210 289h1v1H210zM227 289h1v1H227zM248 289h1v1H248zM272 289h1v1H272zM299 289h1v1H299zM323 289h1v1H323zM333 289h1v1H333zM448 289h1v1H448zM452 289h1v1H452zM465 289h1v1H465zM479 289h1v1H479zM492 289h1v1H492zM98 290h1v1H98zM173 290h1v1H173zM178 290h1v1H178zM186 290h1v1H186zM196 290h1v1H196zM210 290h1v1H210zM227 290h1v1H227zM248 290h1v1H248zM272 290h1v1H272zM299 290h1v1H299zM323 290h1v1H323zM333 290h1v1H333zM448 290h1v1H448zM452 290h1v1H452zM465 290h1v1H465zM479 290h1v1H479zM492 290h1v1H492zM98 291h1v1H98zM173 291h1v1H173zM178 291h1v1H178zM186 291h1v1H186zM196 291h1v1H196zM210 291h1v1H210zM227 291h1v1H227zM248 291h1v1H248zM272 291h1v1H272zM299 291h1v1H299zM323 291h1v1H323zM333 291h1v1H333zM448 291h5v1H448zM465 291h1v1H465zM479 291h1v1H479zM492 291h1v1H492zM98 292h1v1H98zM173 292h1v1H173zM178 292h1v1H178zM186 292h1v1H186zM196 292h1v1H196zM210 292h1v1H210zM227 292h1v1H227zM248 292h1v1H248zM272 292h1v1H272zM299 292h1v1H299zM323 292h1v1H323zM333 292h1v1H333zM448 292h1v1H448zM450 292h1v1H450zM452 292h1v1H452zM465 292h1v1H465zM479 292h1v1H479zM492 292h1v1H492zM98 293h1v1H98zM173 293h1v1H173zM178 293h1v1H178zM186 293h1v1H186zM196 293h1v1H196zM210 293h1v1H210zM227 293h1v1H227zM248 293h1v1H248zM272 293h1v1H272zM299 293h1v1H299zM323 293h1v1H323zM333 293h1v1H333zM448 293h5v1H448zM465 293h1v1H465zM479 293h1v1H479zM492 293h1v1H492zM98 294h1v1H98zM173 294h1v1H173zM178 294h1v1H178zM186 294h1v1H186zM196 294h1v1H196zM210 294h1v1H210zM227 294h1v1H227zM248 294h1v1H248zM272 294h1v1H272zM299 294h1v1H299zM323 294h1v1H323zM333 294h1v1H333zM448 294h1v1H448zM450 294h1v1H450zM452 294h1v1H452zM465 294h1v1H465zM479 294h1v1H479zM492 294h1v1H492zM98 295h1v1H98zM173 295h1v1H173zM178 295h1v1H178zM186 295h1v1H186zM196 295h1v1H196zM210 295h1v1H210zM227 295h1v1H227zM248 295h1v1H248zM272 295h1v1H272zM299 295h1v1H299zM323 295h1v1H323zM333 295h1v1H333zM448 295h2v1H448zM452 295h1v1H452zM465 295h1v1H465zM479 295h1v1H479zM492 295h1v1H492zM98 296h1v1H98zM173 296h1v1H173zM178 296h1v1H178zM186 296h1v1H186zM196 296h1v1H196zM210 296h1v1H210zM227 296h1v1H227zM248 296h1v1H248zM272 296h1v1H272zM299 296h1v1H299zM323 296h1v1H323zM333 296h1v1H333zM448 296h5v1H448zM465 296h1v1H465zM478 296h1v1H478zM492 296h1v1H492zM98 297h1v1H98zM173 297h1v1H173zM178 297h1v1H178zM186 297h1v1H186zM196 297h1v1H196zM210 297h1v1H210zM227 297h1v1H227zM248 297h1v1H248zM272 297h1v1H272zM299 297h1v1H299zM323 297h1v1H323zM333 297h1v1H333zM448 297h1v1H448zM452 297h1v1H452zM465 297h1v1H465zM478 297h1v1H478zM492 297h1v1H492zM98 298h1v1H98zM173 298h1v1H173zM178 298h1v1H178zM186 298h1v1H186zM196 298h1v1H196zM210 298h1v1H210zM227 298h1v1H227zM248 298h1v1H248zM272 298h1v1H272zM299 298h1v1H299zM323 298h1v1H323zM333 298h1v1H333zM448 298h1v1H448zM452 298h1v1H452zM466 298h1v1H466zM478 298h1v1H478zM492 298h1v1H492zM98 299h1v1H98zM173 299h1v1H173zM178 299h1v1H178zM186 299h1v1H186zM196 299h1v1H196zM210 299h1v1H210zM227 299h1v1H227zM248 299h1v1H248zM272 299h1v1H272zM299 299h1v1H299zM323 299h1v1H323zM333 299h1v1H333zM448 299h1v1H448zM452 299h1v1H452zM466 299h1v1H466zM478 299h1v1H478zM492 299h1v1H492zM98 300h1v1H98zM173 300h1v1H173zM178 300h1v1H178zM186 300h1v1H186zM196 300h1v1H196zM210 300h1v1H210zM227 300h1v1H227zM248 300h1v1H248zM272 300h1v1H272zM299 300h1v1H299zM323 300h1v1H323zM448 300h1v1H448zM452 300h1v1H452zM466 300h1v1H466zM478 300h1v1H478zM492 300h1v1H492zM98 301h1v1H98zM173 301h1v1H173zM178 301h1v1H178zM186 301h1v1H186zM196 301h1v1H196zM210 301h1v1H210zM227 301h1v1H227zM248 301h1v1H248zM272 301h1v1H272zM299 301h1v1H299zM323 301h1v1H323zM448 301h1v1H448zM452 301h1v1H452zM466 301h1v1H466zM478 301h1v1H478zM492 301h1v1H492zM98 302h1v1H98zM173 302h1v1H173zM178 302h1v1H178zM186 302h1v1H186zM196 302h1v1H196zM210 302h1v1H210zM227 302h1v1H227zM248 302h1v1H248zM272 302h1v1H272zM299 302h1v1H299zM323 302h1v1H323zM448 302h1v1H448zM452 302h1v1H452zM466 302h1v1H466zM478 302h1v1H478zM492 302h1v1H492zM98 303h1v1H98zM173 303h1v1H173zM178 303h1v1H178zM186 303h1v1H186zM196 303h1v1H196zM210 303h1v1H210zM227 303h1v1H227zM248 303h1v1H248zM272 303h1v1H272zM299 303h1v1H299zM323 303h1v1H323zM448 303h1v1H448zM452 303h1v1H452zM466 303h1v1H466zM478 303h1v1H478zM492 303h1v1H492zM98 304h1v1H98zM173 304h1v1H173zM178 304h1v1H178zM186 304h1v1H186zM196 304h1v1H196zM210 304h1v1H210zM227 304h1v1H227zM248 304h1v1H248zM272 304h1v1H272zM299 304h1v1H299zM323 304h1v1H323zM448 304h1v1H448zM452 304h1v1H452zM466 304h1v1H466zM478 304h1v1H478zM492 304h1v1H492zM98 305h1v1H98zM173 305h1v1H173zM178 305h1v1H178zM186 305h1v1H186zM196 305h1v1H196zM210 305h1v1H210zM227 305h1v1H227zM248 305h1v1H248zM272 305h1v1H272zM299 305h1v1H299zM323 305h1v1H323zM448 305h1v1H448zM452 305h1v1H452zM466 305h1v1H466zM478 305h1v1H478zM492 305h1v1H492zM98 306h1v1H98zM173 306h1v1H173zM178 306h1v1H178zM186 306h1v1H186zM196 306h1v1H196zM210 306h1v1H210zM227 306h1v1H227zM248 306h1v1H248zM272 306h1v1H272zM299 306h1v1H299zM323 306h1v1H323zM448 306h1v1H448zM452 306h1v1H452zM466 306h1v1H466zM478 306h1v1H478zM492 306h1v1H492zM98 307h1v1H98zM173 307h1v1H173zM178 307h1v1H178zM186 307h1v1H186zM196 307h1v1H196zM210 307h1v1H210zM227 307h1v1H227zM248 307h1v1H248zM272 307h1v1H272zM299 307h1v1H299zM323 307h1v1H323zM448 307h1v1H448zM452 307h1v1H452zM466 307h1v1H466zM478 307h1v1H478zM492 307h1v1H492zM98 308h1v1H98zM173 308h1v1H173zM178 308h1v1H178zM186 308h1v1H186zM196 308h1v1H196zM210 308h1v1H210zM227 308h1v1H227zM248 308h1v1H248zM272 308h1v1H272zM299 308h1v1H299zM323 308h1v1H323zM448 308h5v1H448zM466 308h1v1H466zM477 308h1v1H477zM492 308h1v1H492zM98 309h1v1H98zM173 309h1v1H173zM178 309h1v1H178zM186 309h1v1H186zM196 309h1v1H196zM210 309h1v1H210zM227 309h1v1H227zM248 309h1v1H248zM272 309h1v1H272zM299 309h1v1H299zM323 309h1v1H323zM448 309h1v1H448zM451 309h2v1H451zM466 309h1v1H466zM477 309h1v1H477zM492 309h1v1H492zM98 310h1v1H98zM173 310h1v1H173zM178 310h1v1H178zM186 310h1v1H186zM196 310h1v1H196zM210 310h1v1H210zM227 310h1v1H227zM248 310h1v1H248zM272 310h1v1H272zM299 310h1v1H299zM323 310h1v1H323zM448 310h3v1H448zM452 310h1v1H452zM467 310h1v1H467zM477 310h1v1H477zM492 310h1v1H492zM98 311h1v1H98zM173 311h1v1H173zM178 311h1v1H178zM186 311h1v1H186zM196 311h1v1H196zM210 311h1v1H210zM227 311h1v1H227zM248 311h1v1H248zM272 311h1v1H272zM299 311h1v1H299zM323 311h1v1H323zM448 311h1v1H448zM450 311h3v1H450zM467 311h1v1H467zM477 311h1v1H477zM492 311h1v1H492zM98 312h1v1H98zM173 312h1v1H173zM178 312h1v1H178zM186 312h1v1H186zM196 312h1v1H196zM210 312h1v1H210zM227 312h1v1H227zM248 312h1v1H248zM272 312h1v1H272zM299 312h1v1H299zM323 312h1v1H323zM448 312h1v1H448zM450 312h1v1H450zM452 312h1v1H452zM467 312h1v1H467zM477 312h1v1H477zM492 312h1v1H492zM98 313h1v1H98zM173 313h1v1H173zM178 313h1v1H178zM186 313h1v1H186zM196 313h1v1H196zM210 313h1v1H210zM227 313h1v1H227zM248 313h1v1H248zM272 313h1v1H272zM299 313h1v1H299zM323 313h1v1H323zM448 313h5v1H448zM467 313h1v1H467zM477 313h1v1H477zM492 313h1v1H492zM98 314h1v1H98zM173 314h1v1H173zM178 314h1v1H178zM186 314h1v1H186zM196 314h1v1H196zM210 314h1v1H210zM227 314h1v1H227zM248 314h1v1H248zM272 314h1v1H272zM299 314h1v1H299zM323 314h1v1H323zM448 314h1v1H448zM452 314h1v1H452zM467 314h1v1H467zM477 314h1v1H477zM492 314h1v1H492zM98 315h1v1H98zM173 315h1v1H173zM178 315h1v1H178zM186 315h1v1H186zM196 315h1v1H196zM210 315h1v1H210zM227 315h1v1H227zM248 315h1v1H248zM272 315h1v1H272zM299 315h1v1H299zM323 315h1v1H323zM448 315h1v1H448zM452 315h1v1H452zM467 315h1v1H467zM477 315h1v1H477zM492 315h1v1H492zM98 316h1v1H98zM173 316h1v1H173zM178 316h1v1H178zM186 316h1v1H186zM196 316h1v1H196zM210 316h1v1H210zM227 316h1v1H227zM248 316h1v1H248zM272 316h1v1H272zM299 316h1v1H299zM323 316h1v1H323zM448 316h1v1H448zM452 316h1v1H452zM467 316h1v1H467zM477 316h1v1H477zM492 316h1v1H492zM98 317h1v1H98zM173 317h1v1H173zM178 317h1v1H178zM186 317h1v1H186zM196 317h1v1H196zM210 317h1v1H210zM227 317h1v1H227zM248 317h1v1H248zM272 317h1v1H272zM299 317h1v1H299zM323 317h1v1H323zM333 317h1v1H333zM448 317h1v1H448zM452 317h1v1H452zM467 317h1v1H467zM477 317h1v1H477zM492 317h1v1H492zM98 318h1v1H98zM173 318h1v1H173zM178 318h1v1H178zM186 318h1v1H186zM196 318h1v1H196zM210 318h1v1H210zM227 318h1v1H227zM248 318h1v1H248zM272 318h1v1H272zM299 318h1v1H299zM323 318h1v1H323zM333 318h1v1H333zM448 318h1v1H448zM452 318h1v1H452zM467 318h1v1H467zM477 318h1v1H477zM492 318h1v1H492zM98 319h1v1H98zM173 319h1v1H173zM178 319h1v1H178zM186 319h1v1H186zM196 319h1v1H196zM210 319h1v1H210zM227 319h1v1H227zM248 319h1v1H248zM272 319h1v1H272zM299 319h1v1H299zM323 319h1v1H323zM333 319h1v1H333zM448 319h1v1H448zM452 319h1v1H452zM467 319h1v1H467zM477 319h1v1H477zM492 319h1v1H492zM98 320h1v1H98zM173 320h1v1H173zM178 320h1v1H178zM186 320h1v1H186zM196 320h1v1H196zM210 320h1v1H210zM227 320h1v1H227zM248 320h1v1H248zM272 320h1v1H272zM299 320h1v1H299zM323 320h1v1H323zM333 320h1v1H333zM448 320h1v1H448zM452 320h1v1H452zM467 320h1v1H467zM476 320h1v1H476zM492 320h1v1H492zM98 321h1v1H98zM173 321h1v1H173zM178 321h1v1H178zM186 321h1v1H186zM196 321h1v1H196zM210 321h1v1H210zM227 321h1v1H227zM248 321h1v1H248zM272 321h1v1H272zM299 321h1v1H299zM323 321h1v1H323zM333 321h1v1H333zM448 321h1v1H448zM452 321h1v1H452zM467 321h1v1H467zM476 321h1v1H476zM492 321h1v1H492zM98 322h1v1H98zM173 322h1v1H173zM178 322h1v1H178zM186 322h1v1H186zM196 322h1v1H196zM210 322h1v1H210zM227 322h1v1H227zM248 322h1v1H248zM272 322h1v1H272zM299 322h1v1H299zM323 322h1v1H323zM333 322h1v1H333zM448 322h1v1H448zM452 322h1v1H452zM468 322h1v1H468zM476 322h1v1H476zM492 322h1v1H492zM98 323h1v1H98zM173 323h1v1H173zM178 323h1v1H178zM186 323h1v1H186zM196 323h1v1H196zM210 323h1v1H210zM227 323h1v1H227zM248 323h1v1H248zM272 323h1v1H272zM299 323h1v1H299zM323 323h1v1H323zM333 323h1v1H333zM448 323h1v1H448zM452 323h1v1H452zM468 323h1v1H468zM476 323h1v1H476zM492 323h1v1H492zM98 324h1v1H98zM173 324h1v1H173zM178 324h1v1H178zM186 324h1v1H186zM196 324h1v1H196zM210 324h1v1H210zM227 324h1v1H227zM248 324h1v1H248zM272 324h1v1H272zM299 324h1v1H299zM323 324h1v1H323zM333 324h1v1H333zM448 324h1v1H448zM452 324h1v1H452zM468 324h1v1H468zM476 324h1v1H476zM492 324h1v1H492zM98 325h1v1H98zM173 325h1v1H173zM178 325h1v1H178zM186 325h1v1H186zM196 325h1v1H196zM210 325h1v1H210zM227 325h1v1H227zM248 325h1v1H248zM272 325h1v1H272zM299 325h1v1H299zM323 325h1v1H323zM333 325h1v1H333zM448 325h1v1H448zM452 325h1v1H452zM468 325h1v1H468zM476 325h1v1H476zM492 325h1v1H492zM98 326h1v1H98zM173 326h1v1H173zM178 326h1v1H178zM186 326h1v1H186zM196 326h1v1H196zM210 326h1v1H210zM227 326h1v1H227zM248 326h1v1H248zM272 326h1v1H272zM299 326h1v1H299zM323 326h1v1H323zM333 326h1v1H333zM448 326h5v1H448zM468 326h1v1H468zM476 326h1v1H476zM492 326h1v1H492zM98 327h1v1H98zM173 327h1v1H173zM178 327h1v1H178zM186 327h1v1H186zM196 327h1v1H196zM210 327h1v1H210zM227 327h1v1H227zM248 327h1v1H248zM272 327h1v1H272zM299 327h1v1H299zM323 327h1v1H323zM333 327h1v1H333zM448 327h1v1H448zM450 327h1v1H450zM452 327h1v1H452zM468 327h1v1H468zM476 327h1v1H476zM492 327h1v1H492zM98 328h1v1H98zM173 328h1v1H173zM178 328h1v1H178zM186 328h1v1H186zM196 328h1v1H196zM210 328h1v1H210zM227 328h1v1H227zM248 328h1v1H248zM272 328h1v1H272zM299 328h1v1H299zM323 328h1v1H323zM333 328h1v1H333zM448 328h5v1H448zM468 328h1v1H468zM476 328h1v1H476zM492 328h1v1H492zM98 329h1v1H98zM173 329h1v1H173zM178 329h1v1H178zM186 329h1v1H186zM196 329h1v1H196zM210 329h1v1H210zM227 329h1v1H227zM248 329h1v1H248zM272 329h1v1H272zM299 329h1v1H299zM323 329h1v1H323zM333 329h1v1H333zM448 329h1v1H448zM450 329h1v1H450zM452 329h1v1H452zM468 329h1v1H468zM476 329h1v1H476zM492 329h1v1H492zM98 330h1v1H98zM173 330h1v1H173zM178 330h1v1H178zM186 330h1v1H186zM196 330h1v1H196zM210 330h1v1H210zM227 330h1v1H227zM248 330h1v1H248zM272 330h1v1H272zM299 330h1v1H299zM323 330h1v1H323zM333 330h1v1H333zM448 330h2v1H448zM452 330h1v1H452zM468 330h1v1H468zM476 330h1v1H476zM492 330h1v1H492zM98 331h1v1H98zM173 331h1v1H173zM178 331h1v1H178zM186 331h1v1H186zM196 331h1v1H196zM210 331h1v1H210zM227 331h1v1H227zM248 331h1v1H248zM272 331h1v1H272zM299 331h1v1H299zM323 331h1v1H323zM333 331h1v1H333zM448 331h5v1H448zM468 331h1v1H468zM475 331h1v1H475zM492 331h1v1H492zM98 332h1v1H98zM173 332h1v1H173zM178 332h1v1H178zM186 332h1v1H186zM196 332h1v1H196zM210 332h1v1H210zM227 332h1v1H227zM248 332h1v1H248zM272 332h1v1H272zM299 332h1v1H299zM323 332h1v1H323zM333 332h1v1H333zM448 332h1v1H448zM452 332h1v1H452zM468 332h1v1H468zM475 332h1v1H475zM492 332h1v1H492zM98 333h1v1H98zM173 333h1v1H173zM178 333h1v1H178zM186 333h1v1H186zM196 333h1v1H196zM210 333h1v1H210zM227 333h1v1H227zM248 333h1v1H248zM272 333h1v1H272zM299 333h1v1H299zM323 333h1v1H323zM333 333h1v1H333zM448 333h1v1H448zM452 333h1v1H452zM469 333h1v1H469zM475 333h1v1H475zM492 333h1v1H492zM98 334h1v1H98zM173 334h1v1H173zM178 334h1v1H178zM186 334h1v1H186zM196 334h1v1H196zM210 334h1v1H210zM227 334h1v1H227zM248 334h1v1H248zM272 334h1v1H272zM299 334h1v1H299zM323 334h1v1H323zM448 334h1v1H448zM452 334h1v1H452zM469 334h1v1H469zM475 334h1v1H475zM492 334h1v1H492zM98 335h1v1H98zM173 335h1v1H173zM178 335h1v1H178zM186 335h1v1H186zM196 335h1v1H196zM210 335h1v1H210zM227 335h1v1H227zM248 335h1v1H248zM272 335h1v1H272zM299 335h1v1H299zM323 335h1v1H323zM448 335h1v1H448zM452 335h1v1H452zM469 335h1v1H469zM475 335h1v1H475zM492 335h1v1H492zM98 336h1v1H98zM173 336h1v1H173zM178 336h1v1H178zM186 336h1v1H186zM196 336h1v1H196zM210 336h1v1H210zM227 336h1v1H227zM248 336h1v1H248zM272 336h1v1H272zM299 336h1v1H299zM323 336h1v1H323zM448 336h1v1H448zM452 336h1v1H452zM469 336h1v1H469zM475 336h1v1H475zM492 336h1v1H492zM98 337h1v1H98zM173 337h1v1H173zM178 337h1v1H178zM186 337h1v1H186zM196 337h1v1H196zM210 337h1v1H210zM227 337h1v1H227zM248 337h1v1H248zM272 337h1v1H272zM299 337h1v1H299zM323 337h1v1H323zM448 337h1v1H448zM452 337h1v1H452zM469 337h1v1H469zM475 337h1v1H475zM492 337h1v1H492zM98 338h1v1H98zM173 338h1v1H173zM178 338h1v1H178zM186 338h1v1H186zM196 338h1v1H196zM210 338h1v1H210zM227 338h1v1H227zM248 338h1v1H248zM272 338h1v1H272zM299 338h1v1H299zM323 338h1v1H323zM448 338h1v1H448zM452 338h1v1H452zM469 338h1v1H469zM475 338h1v1H475zM492 338h1v1H492zM98 339h1v1H98zM173 339h1v1H173zM178 339h1v1H178zM186 339h1v1H186zM196 339h1v1H196zM210 339h1v1H210zM227 339h1v1H227zM248 339h1v1H248zM272 339h1v1H272zM299 339h1v1H299zM323 339h1v1H323zM448 339h1v1H448zM452 339h1v1H452zM469 339h1v1H469zM475 339h1v1H475zM492 339h1v1H492zM98 340h1v1H98zM173 340h1v1H173zM178 340h1v1H178zM186 340h1v1H186zM196 340h1v1H196zM210 340h1v1H210zM227 340h1v1H227zM248 340h1v1H248zM272 340h1v1H272zM299 340h1v1H299zM323 340h1v1H323zM448 340h1v1H448zM452 340h1v1H452zM469 340h1v1H469zM475 340h1v1H475zM492 340h1v1H492zM98 341h1v1H98zM173 341h1v1H173zM178 341h1v1H178zM186 341h1v1H186zM196 341h1v1H196zM210 341h1v1H210zM227 341h1v1H227zM248 341h1v1H248zM272 341h1v1H272zM299 341h1v1H299zM323 341h1v1H323zM448 341h1v1H448zM452 341h1v1H452zM469 341h1v1H469zM475 341h1v1H475zM492 341h1v1H492zM98 342h1v1H98zM173 342h1v1H173zM178 342h1v1H178zM186 342h1v1H186zM196 342h1v1H196zM210 342h1v1H210zM227 342h1v1H227zM248 342h1v1H248zM272 342h1v1H272zM299 342h1v1H299zM323 342h1v1H323zM448 342h1v1H448zM452 342h1v1H452zM469 342h1v1H469zM475 342h1v1H475zM492 342h1v1H492zM98 343h1v1H98zM173 343h1v1H173zM178 343h1v1H178zM186 343h1v1H186zM196 343h1v1H196zM210 343h1v1H210zM227 343h1v1H227zM248 343h1v1H248zM272 343h1v1H272zM299 343h1v1H299zM323 343h1v1H323zM448 343h5v1H448zM469 343h1v1H469zM474 343h1v1H474zM492 343h1v1H492zM98 344h1v1H98zM173 344h1v1H173zM178 344h1v1H178zM186 344h1v1H186zM196 344h1v1H196zM210 344h1v1H210zM227 344h1v1H227zM248 344h1v1H248zM272 344h1v1H272zM299 344h1v1H299zM323 344h1v1H323zM448 344h1v1H448zM451 344h2v1H451zM469 344h1v1H469zM474 344h1v1H474zM492 344h1v1H492zM98 345h1v1H98zM173 345h1v1H173zM178 345h1v1H178zM186 345h1v1H186zM196 345h1v1H196zM210 345h1v1H210zM227 345h1v1H227zM248 345h1v1H248zM272 345h1v1H272zM299 345h1v1H299zM323 345h1v1H323zM448 345h3v1H448zM452 345h1v1H452zM470 345h1v1H470zM474 345h1v1H474zM492 345h1v1H492zM98 346h1v1H98zM173 346h1v1H173zM178 346h1v1H178zM186 346h1v1H186zM196 346h1v1H196zM210 346h1v1H210zM227 346h1v1H227zM248 346h1v1H248zM272 346h1v1H272zM299 346h1v1H299zM323 346h1v1H323zM448 346h1v1H448zM450 346h3v1H450zM470 346h1v1H470zM474 346h1v1H474zM492 346h1v1H492zM98 347h1v1H98zM173 347h1v1H173zM178 347h1v1H178zM186 347h1v1H186zM196 347h1v1H196zM210 347h1v1H210zM227 347h1v1H227zM248 347h1v1H248zM272 347h1v1H272zM299 347h1v1H299zM323 347h1v1H323zM448 347h1v1H448zM450 347h1v1H450zM452 347h1v1H452zM470 347h1v1H470zM474 347h1v1H474zM492 347h1v1H492zM98 348h1v1H98zM173 348h1v1H173zM178 348h1v1H178zM186 348h1v1H186zM196 348h1v1H196zM210 348h1v1H210zM227 348h1v1H227zM248 348h1v1H248zM272 348h1v1H272zM299 348h1v1H299zM323 348h1v1H323zM448 348h5v1H448zM470 348h1v1H470zM474 348h1v1H474zM492 348h1v1H492zM98 349h1v1H98zM173 349h1v1H173zM178 349h1v1H178zM186 349h1v1H186zM196 349h1v1H196zM210 349h1v1H210zM227 349h1v1H227zM248 349h1v1H248zM272 349h1v1H272zM299 349h1v1H299zM323 349h1v1H323zM448 349h1v1H448zM452 349h1v1H452zM470 349h1v1H470zM474 349h1v1H474zM492 349h1v1H492zM98 350h1v1H98zM173 350h1v1H173zM178 350h1v1H178zM186 350h1v1H186zM196 350h1v1H196zM210 350h1v1H210zM227 350h1v1H227zM248 350h1v1H248zM272 350h1v1H272zM299 350h1v1H299zM323 350h1v1H323zM448 350h1v1H448zM452 350h1v1H452zM470 350h1v1H470zM474 350h1v1H474zM492 350h1v1H492zM98 351h1v1H98zM173 351h1v1H173zM178 351h1v1H178zM186 351h1v1H186zM196 351h1v1H196zM210 351h1v1H210zM227 351h1v1H227zM248 351h1v1H248zM272 351h1v1H272zM299 351h1v1H299zM323 351h1v1H323zM333 351h1v1H333zM448 351h1v1H448zM452 351h1v1H452zM470 351h1v1H470zM474 351h1v1H474zM492 351h1v1H492zM89 352h1v1H89zM98 352h1v1H98zM173 352h1v1H173zM178 352h1v1H178zM186 352h1v1H186zM196 352h1v1H196zM210 352h1v1H210zM227 352h1v1H227zM248 352h1v1H248zM272 352h1v1H272zM299 352h1v1H299zM323 352h1v1H323zM333 352h1v1H333zM448 352h1v1H448zM452 352h1v1H452zM470 352h1v1H470zM474 352h1v1H474zM492 352h1v1H492zM77 353h1v1H77zM90 353h1v1H90zM98 353h1v1H98zM173 353h1v1H173zM178 353h1v1H178zM186 353h1v1H186zM196 353h1v1H196zM210 353h1v1H210zM227 353h1v1H227zM248 353h1v1H248zM272 353h1v1H272zM299 353h1v1H299zM323 353h1v1H323zM333 353h1v1H333zM448 353h1v1H448zM452 353h1v1H452zM470 353h1v1H470zM474 353h1v1H474zM492 353h1v1H492zM76 354h1v1H76zM90 354h2v1H90zM98 354h1v1H98zM173 354h1v1H173zM178 354h1v1H178zM186 354h1v1H186zM196 354h1v1H196zM210 354h1v1H210zM227 354h1v1H227zM248 354h1v1H248zM272 354h1v1H272zM299 354h1v1H299zM323 354h1v1H323zM333 354h1v1H333zM448 354h1v1H448zM452 354h1v1H452zM470 354h1v1H470zM473 354h1v1H473zM492 354h1v1H492zM75 355h1v1H75zM91 355h2v1H91zM98 355h1v1H98zM173 355h1v1H173zM178 355h1v1H178zM186 355h1v1H186zM196 355h1v1H196zM210 355h1v1H210zM227 355h1v1H227zM248 355h1v1H248zM272 355h1v1H272zM299 355h1v1H299zM323 355h1v1H323zM333 355h1v1H333zM448 355h1v1H448zM452 355h1v1H452zM470 355h1v1H470zM473 355h1v1H473zM492 355h1v1H492zM75 356h1v1H75zM91 356h2v1H91zM98 356h1v1H98zM173 356h1v1H173zM178 356h1v1H178zM186 356h1v1H186zM196 356h1v1H196zM210 356h1v1H210zM227 356h1v1H227zM248 356h1v1H248zM272 356h1v1H272zM299 356h1v1H299zM323 356h1v1H323zM333 356h1v1H333zM448 356h1v1H448zM452 356h1v1H452zM471 356h1v1H471zM473 356h1v1H473zM492 356h1v1H492zM75 357h1v1H75zM91 357h2v1H91zM98 357h1v1H98zM173 357h1v1H173zM178 357h1v1H178zM186 357h1v1H186zM196 357h1v1H196zM210 357h1v1H210zM227 357h1v1H227zM248 357h1v1H248zM272 357h1v1H272zM299 357h1v1H299zM323 357h1v1H323zM333 357h1v1H333zM448 357h1v1H448zM452 357h1v1H452zM471 357h1v1H471zM473 357h1v1H473zM492 357h1v1H492zM75 358h1v1H75zM91 358h2v1H91zM98 358h1v1H98zM173 358h1v1H173zM178 358h1v1H178zM186 358h1v1H186zM196 358h1v1H196zM210 358h1v1H210zM227 358h1v1H227zM248 358h1v1H248zM272 358h1v1H272zM299 358h1v1H299zM323 358h1v1H323zM333 358h1v1H333zM448 358h1v1H448zM452 358h1v1H452zM471 358h1v1H471zM473 358h1v1H473zM492 358h1v1H492zM75 359h1v1H75zM91 359h2v1H91zM98 359h1v1H98zM173 359h1v1H173zM178 359h1v1H178zM186 359h1v1H186zM196 359h1v1H196zM210 359h1v1H210zM227 359h1v1H227zM248 359h1v1H248zM272 359h1v1H272zM299 359h1v1H299zM323 359h1v1H323zM333 359h1v1H333zM448 359h1v1H448zM452 359h1v1H452zM471 359h1v1H471zM473 359h1v1H473zM492 359h1v1H492zM75 360h1v1H75zM91 360h2v1H91zM98 360h1v1H98zM173 360h1v1H173zM178 360h1v1H178zM186 360h1v1H186zM196 360h1v1H196zM210 360h1v1H210zM227 360h1v1H227zM248 360h1v1H248zM272 360h1v1H272zM299 360h1v1H299zM323 360h1v1H323zM333 360h1v1H333zM448 360h1v1H448zM452 360h1v1H452zM471 360h1v1H471zM473 360h1v1H473zM492 360h1v1H492zM75 361h1v1H75zM91 361h2v1H91zM98 361h1v1H98zM173 361h1v1H173zM178 361h1v1H178zM186 361h1v1H186zM196 361h1v1H196zM210 361h1v1H210zM227 361h1v1H227zM248 361h1v1H248zM272 361h1v1H272zM299 361h1v1H299zM323 361h1v1H323zM333 361h1v1H333zM448 361h5v1H448zM471 361h1v1H471zM473 361h1v1H473zM492 361h1v1H492zM76 362h1v1H76zM90 362h2v1H90zM98 362h1v1H98zM173 362h1v1H173zM178 362h1v1H178zM186 362h1v1H186zM196 362h1v1H196zM210 362h1v1H210zM227 362h1v1H227zM248 362h1v1H248zM272 362h1v1H272zM299 362h1v1H299zM323 362h1v1H323zM333 362h1v1H333zM448 362h1v1H448zM450 362h1v1H450zM452 362h1v1H452zM471 362h1v1H471zM473 362h1v1H473zM492 362h1v1H492zM77 363h13v1H77zM98 363h1v1H98zM173 363h1v1H173zM178 363h1v1H178zM186 363h1v1H186zM196 363h1v1H196zM210 363h1v1H210zM227 363h1v1H227zM248 363h1v1H248zM272 363h1v1H272zM299 363h1v1H299zM323 363h1v1H323zM333 363h1v1H333zM448 363h5v1H448zM471 363h1v1H471zM473 363h1v1H473zM492 363h1v1H492zM78 364h12v1H78zM98 364h1v1H98zM173 364h1v1H173zM178 364h1v1H178zM186 364h1v1H186zM196 364h1v1H196zM210 364h1v1H210zM227 364h1v1H227zM248 364h1v1H248zM272 364h1v1H272zM299 364h1v1H299zM323 364h1v1H323zM333 364h1v1H333zM448 364h1v1H448zM450 364h1v1H450zM452 364h1v1H452zM471 364h1v1H471zM473 364h1v1H473zM492 364h1v1H492zM98 365h1v1H98zM173 365h1v1H173zM178 365h1v1H178zM186 365h1v1H186zM196 365h1v1H196zM210 365h1v1H210zM227 365h1v1H227zM248 365h1v1H248zM272 365h1v1H272zM299 365h1v1H299zM323 365h1v1H323zM333 365h1v1H333zM448 365h2v1H448zM452 365h1v1H452zM471 365h1v1H471zM473 365h1v1H473zM492 365h1v1H492zM98 366h1v1H98zM173 366h1v1H173zM178 366h1v1H178zM186 366h1v1H186zM196 366h1v1H196zM210 366h1v1H210zM227 366h1v1H227zM248 366h1v1H248zM272 366h1v1H272zM299 366h1v1H299zM323 366h1v1H323zM333 366h1v1H333zM448 366h5v1H448zM471 366h2v1H471zM492 366h1v1H492zM98 367h1v1H98zM173 367h1v1H173zM178 367h1v1H178zM186 367h1v1H186zM196 367h1v1H196zM210 367h1v1H210zM227 367h1v1H227zM248 367h1v1H248zM272 367h1v1H272zM299 367h1v1H299zM323 367h1v1H323zM333 367h1v1H333zM448 367h1v1H448zM452 367h1v1H452zM471 367h2v1H471zM492 367h1v1H492zM98 368h1v1H98zM173 368h1v1H173zM178 368h1v1H178zM186 368h1v1H186zM196 368h1v1H196zM210 368h1v1H210zM227 368h1v1H227zM248 368h1v1H248zM272 368h1v1H272zM299 368h1v1H299zM323 368h1v1H323zM448 368h1v1H448zM452 368h1v1H452zM472 368h1v1H472zM492 368h1v1H492zM98 369h1v1H98zM173 369h1v1H173zM178 369h1v1H178zM186 369h1v1H186zM196 369h1v1H196zM210 369h1v1H210zM227 369h1v1H227zM248 369h1v1H248zM272 369h1v1H272zM299 369h1v1H299zM323 369h1v1H323zM448 369h1v1H448zM452 369h1v1H452zM472 369h1v1H472zM492 369h1v1H492zM98 370h1v1H98zM173 370h1v1H173zM178 370h1v1H178zM186 370h1v1H186zM196 370h1v1H196zM210 370h1v1H210zM227 370h1v1H227zM248 370h1v1H248zM272 370h1v1H272zM299 370h1v1H299zM323 370h1v1H323zM448 370h1v1H448zM452 370h1v1H452zM472 370h1v1H472zM492 370h1v1H492zM98 371h1v1H98zM173 371h1v1H173zM178 371h1v1H178zM186 371h1v1H186zM196 371h1v1H196zM210 371h1v1H210zM227 371h1v1H227zM248 371h1v1H248zM272 371h1v1H272zM299 371h1v1H299zM323 371h1v1H323zM448 371h1v1H448zM452 371h1v1H452zM472 371h1v1H472zM492 371h1v1H492zM98 372h1v1H98zM173 372h1v1H173zM178 372h1v1H178zM186 372h1v1H186zM196 372h1v1H196zM210 372h1v1H210zM227 372h1v1H227zM248 372h1v1H248zM272 372h1v1H272zM299 372h1v1H299zM323 372h1v1H323zM448 372h1v1H448zM452 372h1v1H452zM472 372h1v1H472zM492 372h1v1H492zM98 373h1v1H98zM173 373h1v1H173zM178 373h1v1H178zM186 373h1v1H186zM196 373h1v1H196zM210 373h1v1H210zM227 373h1v1H227zM248 373h1v1H248zM272 373h1v1H272zM299 373h1v1H299zM323 373h1v1H323zM448 373h1v1H448zM452 373h1v1H452zM472 373h1v1H472zM492 373h1v1H492zM98 374h1v1H98zM173 374h1v1H173zM178 374h1v1H178zM186 374h1v1H186zM196 374h1v1H196zM210 374h1v1H210zM227 374h1v1H227zM248 374h1v1H248zM272 374h1v1H272zM299 374h1v1H299zM323 374h1v1H323zM448 374h1v1H448zM452 374h1v1H452zM472 374h1v1H472zM492 374h1v1H492zM98 375h1v1H98zM173 375h1v1H173zM178 375h1v1H178zM186 375h1v1H186zM196 375h1v1H196zM210 375h1v1H210zM227 375h1v1H227zM248 375h1v1H248zM272 375h1v1H272zM299 375h1v1H299zM323 375h1v1H323zM448 375h1v1H448zM452 375h1v1H452zM472 375h1v1H472zM492 375h1v1H492zM98 376h1v1H98zM173 376h1v1H173zM178 376h1v1H178zM186 376h1v1H186zM196 376h1v1H196zM210 376h1v1H210zM227 376h1v1H227zM248 376h1v1H248zM272 376h1v1H272zM299 376h1v1H299zM323 376h1v1H323zM448 376h1v1H448zM452 376h1v1H452zM472 376h1v1H472zM492 376h1v1H492zM98 377h1v1H98zM173 377h1v1H173zM178 377h1v1H178zM186 377h1v1H186zM196 377h1v1H196zM210 377h1v1H210zM227 377h1v1H227zM248 377h1v1H248zM272 377h1v1H272zM299 377h1v1H299zM323 377h1v1H323zM448 377h1v1H448zM452 377h1v1H452zM472 377h1v1H472zM492 377h1v1H492zM98 378h1v1H98zM173 378h1v1H173zM178 378h1v1H178zM186 378h1v1H186zM196 378h1v1H196zM210 378h1v1H210zM227 378h1v1H227zM248 378h1v1H248zM272 378h1v1H272zM299 378h1v1H299zM323 378h1v1H323zM448 378h5v1H448zM471 378h2v1H471zM492 378h1v1H492zM98 379h1v1H98zM173 379h1v1H173zM178 379h1v1H178zM186 379h1v1H186zM196 379h1v1H196zM210 379h1v1H210zM227 379h1v1H227zM248 379h1v1H248zM272 379h1v1H272zM299 379h1v1H299zM323 379h1v1H323zM448 379h1v1H448zM451 379h2v1H451zM471 379h2v1H471zM492 379h1v1H492zM98 380h1v1H98zM173 380h1v1H173zM178 380h1v1H178zM186 380h1v1H186zM196 380h1v1H196zM210 380h1v1H210zM227 380h1v1H227zM248 380h1v1H248zM272 380h1v1H272zM299 380h1v1H299zM323 380h1v1H323zM448 380h3v1H448zM452 380h1v1H452zM471 380h1v1H471zM473 380h1v1H473zM492 380h1v1H492zM98 381h1v1H98zM173 381h1v1H173zM178 381h1v1H178zM186 381h1v1H186zM196 381h1v1H196zM210 381h1v1H210zM227 381h1v1H227zM248 381h1v1H248zM272 381h1v1H272zM299 381h1v1H299zM323 381h1v1H323zM448 381h1v1H448zM450 381h3v1H450zM471 381h1v1H471zM473 381h1v1H473zM492 381h1v1H492zM98 382h1v1H98zM173 382h1v1H173zM178 382h1v1H178zM186 382h1v1H186zM196 382h1v1H196zM210 382h1v1H210zM227 382h1v1H227zM248 382h1v1H248zM272 382h1v1H272zM299 382h1v1H299zM323 382h1v1H323zM448 382h1v1H448zM450 382h1v1H450zM452 382h1v1H452zM471 382h1v1H471zM473 382h1v1H473zM492 382h1v1H492zM540 382h2v1H540zM98 383h1v1H98zM173 383h1v1H173zM178 383h1v1H178zM186 383h1v1H186zM196 383h1v1H196zM210 383h1v1H210zM227 383h1v1H227zM248 383h1v1H248zM272 383h1v1H272zM299 383h1v1H299zM323 383h1v1H323zM448 383h5v1H448zM471 383h1v1H471zM473 383h1v1H473zM492 383h1v1H492zM539 383h3v1H539zM98 384h1v1H98zM173 384h1v1H173zM178 384h1v1H178zM186 384h1v1H186zM196 384h1v1H196zM210 384h1v1H210zM227 384h1v1H227zM248 384h1v1H248zM272 384h1v1H272zM299 384h1v1H299zM323 384h1v1H323zM333 384h1v1H333zM448 384h1v1H448zM452 384h1v1H452zM471 384h1v1H471zM473 384h1v1H473zM492 384h1v1H492zM538 384h1v1H538zM541 384h1v1H541zM98 385h1v1H98zM173 385h1v1H173zM178 385h1v1H178zM186 385h1v1H186zM196 385h1v1H196zM210 385h1v1H210zM227 385h1v1H227zM248 385h1v1H248zM272 385h1v1H272zM299 385h1v1H299zM323 385h1v1H323zM333 385h1v1H333zM448 385h1v1H448zM452 385h1v1H452zM471 385h1v1H471zM473 385h1v1H473zM492 385h1v1H492zM537 385h1v1H537zM539 385h1v1H539zM541 385h1v1H541zM98 386h1v1H98zM173 386h1v1H173zM178 386h1v1H178zM186 386h1v1H186zM196 386h1v1H196zM210 386h1v1H210zM227 386h1v1H227zM248 386h1v1H248zM272 386h1v1H272zM299 386h1v1H299zM323 386h1v1H323zM333 386h1v1H333zM448 386h1v1H448zM452 386h1v1H452zM471 386h1v1H471zM473 386h1v1H473zM492 386h1v1H492zM536 386h2v1H536zM540 386h2v1H540zM98 387h1v1H98zM173 387h1v1H173zM178 387h1v1H178zM186 387h1v1H186zM196 387h1v1H196zM210 387h1v1H210zM227 387h1v1H227zM248 387h1v1H248zM272 387h1v1H272zM299 387h1v1H299zM323 387h1v1H323zM333 387h1v1H333zM448 387h1v1H448zM452 387h1v1H452zM471 387h1v1H471zM473 387h1v1H473zM492 387h1v1H492zM534 387h2v1H534zM538 387h1v1H538zM541 387h1v1H541zM98 388h1v1H98zM173 388h1v1H173zM178 388h1v1H178zM186 388h1v1H186zM196 388h1v1H196zM210 388h1v1H210zM227 388h1v1H227zM248 388h1v1H248zM272 388h1v1H272zM299 388h1v1H299zM323 388h1v1H323zM333 388h1v1H333zM448 388h1v1H448zM452 388h1v1H452zM471 388h1v1H471zM473 388h1v1H473zM492 388h1v1H492zM533 388h1v1H533zM535 388h1v1H535zM539 388h1v1H539zM541 388h1v1H541zM98 389h1v1H98zM173 389h1v1H173zM178 389h1v1H178zM186 389h1v1H186zM196 389h1v1H196zM210 389h1v1H210zM227 389h1v1H227zM248 389h1v1H248zM272 389h1v1H272zM299 389h1v1H299zM323 389h1v1H323zM333 389h1v1H333zM448 389h1v1H448zM452 389h1v1H452zM470 389h1v1H470zM473 389h1v1H473zM492 389h1v1H492zM532 389h2v1H532zM536 389h1v1H536zM540 389h1v1H540zM542 389h31v1H542zM98 390h1v1H98zM173 390h1v1H173zM178 390h1v1H178zM186 390h1v1H186zM196 390h1v1H196zM210 390h1v1H210zM227 390h1v1H227zM248 390h1v1H248zM272 390h1v1H272zM299 390h1v1H299zM323 390h1v1H323zM333 390h1v1H333zM448 390h1v1H448zM452 390h1v1H452zM470 390h1v1H470zM473 390h1v1H473zM492 390h1v1H492zM531 390h1v1H531zM534 390h1v1H534zM537 390h1v1H537zM541 390h1v1H541zM544 390h1v1H544zM547 390h1v1H547zM550 390h1v1H550zM553 390h1v1H553zM557 390h1v1H557zM560 390h1v1H560zM563 390h1v1H563zM566 390h1v1H566zM569 390h1v1H569zM572 390h1v1H572zM98 391h1v1H98zM173 391h1v1H173zM178 391h1v1H178zM186 391h1v1H186zM196 391h1v1H196zM210 391h1v1H210zM227 391h1v1H227zM248 391h1v1H248zM272 391h1v1H272zM299 391h1v1H299zM323 391h1v1H323zM333 391h1v1H333zM448 391h1v1H448zM452 391h1v1H452zM470 391h1v1H470zM474 391h1v1H474zM492 391h1v1H492zM529 391h2v1H529zM532 391h1v1H532zM535 391h1v1H535zM538 391h1v1H538zM542 391h1v1H542zM545 391h1v1H545zM548 391h1v1H548zM551 391h1v1H551zM554 391h1v1H554zM558 391h1v1H558zM561 391h1v1H561zM564 391h1v1H564zM567 391h1v1H567zM570 391h1v1H570zM572 391h1v1H572zM98 392h1v1H98zM173 392h1v1H173zM178 392h1v1H178zM186 392h1v1H186zM196 392h1v1H196zM210 392h1v1H210zM227 392h1v1H227zM248 392h1v1H248zM272 392h1v1H272zM299 392h1v1H299zM323 392h1v1H323zM333 392h1v1H333zM448 392h1v1H448zM452 392h1v1H452zM470 392h1v1H470zM474 392h1v1H474zM492 392h1v1H492zM528 392h1v1H528zM530 392h1v1H530zM533 392h1v1H533zM536 392h1v1H536zM539 392h1v1H539zM543 392h1v1H543zM546 392h1v1H546zM549 392h1v1H549zM552 392h1v1H552zM555 392h1v1H555zM559 392h1v1H559zM562 392h1v1H562zM565 392h1v1H565zM568 392h1v1H568zM571 392h2v1H571zM98 393h1v1H98zM173 393h1v1H173zM178 393h1v1H178zM186 393h1v1H186zM196 393h1v1H196zM210 393h1v1H210zM227 393h1v1H227zM248 393h1v1H248zM272 393h1v1H272zM299 393h1v1H299zM323 393h1v1H323zM333 393h1v1H333zM448 393h1v1H448zM452 393h1v1H452zM470 393h1v1H470zM474 393h1v1H474zM492 393h1v1H492zM527 393h2v1H527zM531 393h1v1H531zM534 393h1v1H534zM537 393h1v1H537zM540 393h1v1H540zM544 393h1v1H544zM547 393h1v1H547zM550 393h1v1H550zM553 393h1v1H553zM556 393h1v1H556zM560 393h1v1H560zM563 393h1v1H563zM566 393h1v1H566zM569 393h1v1H569zM572 393h1v1H572zM98 394h1v1H98zM173 394h1v1H173zM178 394h1v1H178zM186 394h1v1H186zM196 394h1v1H196zM210 394h1v1H210zM227 394h1v1H227zM248 394h1v1H248zM272 394h1v1H272zM299 394h1v1H299zM323 394h1v1H323zM333 394h1v1H333zM448 394h1v1H448zM452 394h1v1H452zM470 394h1v1H470zM474 394h1v1H474zM492 394h1v1H492zM526 394h1v1H526zM529 394h1v1H529zM532 394h1v1H532zM535 394h1v1H535zM538 394h1v1H538zM541 394h1v1H541zM545 394h1v1H545zM548 394h1v1H548zM551 394h1v1H551zM554 394h1v1H554zM557 394h1v1H557zM561 394h1v1H561zM564 394h1v1H564zM567 394h1v1H567zM570 394h1v1H570zM572 394h1v1H572zM98 395h1v1H98zM173 395h1v1H173zM178 395h1v1H178zM186 395h1v1H186zM196 395h1v1H196zM210 395h1v1H210zM227 395h1v1H227zM248 395h1v1H248zM272 395h1v1H272zM299 395h1v1H299zM323 395h1v1H323zM333 395h1v1H333zM448 395h1v1H448zM452 395h1v1H452zM470 395h1v1H470zM474 395h1v1H474zM492 395h1v1H492zM525 395h2v1H525zM530 395h1v1H530zM533 395h1v1H533zM536 395h1v1H536zM539 395h1v1H539zM542 395h1v1H542zM546 395h1v1H546zM549 395h1v1H549zM552 395h1v1H552zM555 395h1v1H555zM558 395h1v1H558zM562 395h1v1H562zM565 395h1v1H565zM568 395h1v1H568zM571 395h2v1H571zM98 396h1v1H98zM173 396h1v1H173zM178 396h1v1H178zM186 396h1v1H186zM196 396h1v1H196zM210 396h1v1H210zM227 396h1v1H227zM248 396h1v1H248zM272 396h1v1H272zM299 396h1v1H299zM323 396h1v1H323zM333 396h1v1H333zM448 396h5v1H448zM470 396h1v1H470zM474 396h1v1H474zM492 396h1v1H492zM525 396h1v1H525zM527 396h1v1H527zM531 396h1v1H531zM534 396h1v1H534zM537 396h1v1H537zM540 396h1v1H540zM543 396h1v1H543zM547 396h1v1H547zM550 396h1v1H550zM553 396h1v1H553zM556 396h1v1H556zM559 396h1v1H559zM563 396h1v1H563zM566 396h1v1H566zM569 396h1v1H569zM572 396h1v1H572zM98 397h1v1H98zM173 397h1v1H173zM178 397h1v1H178zM186 397h1v1H186zM196 397h1v1H196zM210 397h1v1H210zM227 397h1v1H227zM248 397h1v1H248zM272 397h1v1H272zM299 397h1v1H299zM323 397h1v1H323zM333 397h1v1H333zM448 397h1v1H448zM450 397h1v1H450zM452 397h1v1H452zM470 397h1v1H470zM474 397h1v1H474zM492 397h1v1H492zM526 397h1v1H526zM528 397h1v1H528zM532 397h1v1H532zM535 397h1v1H535zM538 397h1v1H538zM541 397h1v1H541zM544 397h1v1H544zM548 397h1v1H548zM551 397h1v1H551zM554 397h1v1H554zM557 397h1v1H557zM560 397h1v1H560zM564 397h1v1H564zM567 397h1v1H567zM570 397h1v1H570zM572 397h1v1H572zM98 398h1v1H98zM173 398h1v1H173zM178 398h1v1H178zM186 398h1v1H186zM196 398h1v1H196zM210 398h1v1H210zM227 398h1v1H227zM248 398h1v1H248zM272 398h1v1H272zM299 398h1v1H299zM323 398h1v1H323zM333 398h1v1H333zM448 398h5v1H448zM470 398h1v1H470zM474 398h1v1H474zM492 398h1v1H492zM527 398h1v1H527zM529 398h1v1H529zM533 398h1v1H533zM536 398h1v1H536zM539 398h1v1H539zM542 398h1v1H542zM545 398h1v1H545zM549 398h1v1H549zM552 398h1v1H552zM555 398h1v1H555zM558 398h1v1H558zM561 398h1v1H561zM565 398h1v1H565zM568 398h1v1H568zM571 398h2v1H571zM98 399h1v1H98zM173 399h1v1H173zM178 399h1v1H178zM186 399h1v1H186zM196 399h1v1H196zM210 399h1v1H210zM227 399h1v1H227zM248 399h1v1H248zM272 399h1v1H272zM299 399h1v1H299zM323 399h1v1H323zM333 399h1v1H333zM448 399h1v1H448zM450 399h1v1H450zM452 399h1v1H452zM470 399h1v1H470zM474 399h1v1H474zM492 399h1v1H492zM528 399h1v1H528zM530 399h1v1H530zM534 399h1v1H534zM537 399h1v1H537zM540 399h1v1H540zM543 399h1v1H543zM546 399h1v1H546zM550 399h1v1H550zM553 399h1v1H553zM556 399h1v1H556zM559 399h1v1H559zM562 399h1v1H562zM566 399h1v1H566zM569 399h1v1H569zM572 399h1v1H572zM98 400h1v1H98zM173 400h1v1H173zM178 400h1v1H178zM186 400h1v1H186zM196 400h1v1H196zM210 400h1v1H210zM227 400h1v1H227zM248 400h1v1H248zM272 400h1v1H272zM299 400h1v1H299zM323 400h1v1H323zM333 400h1v1H333zM448 400h2v1H448zM452 400h1v1H452zM470 400h1v1H470zM474 400h1v1H474zM492 400h1v1H492zM529 400h1v1H529zM531 400h1v1H531zM535 400h1v1H535zM538 400h1v1H538zM541 400h1v1H541zM544 400h1v1H544zM547 400h1v1H547zM551 400h1v1H551zM554 400h1v1H554zM557 400h1v1H557zM560 400h1v1H560zM563 400h1v1H563zM567 400h1v1H567zM570 400h1v1H570zM572 400h1v1H572zM98 401h1v1H98zM173 401h1v1H173zM178 401h1v1H178zM186 401h1v1H186zM196 401h1v1H196zM210 401h1v1H210zM227 401h1v1H227zM248 401h1v1H248zM272 401h1v1H272zM299 401h1v1H299zM323 401h1v1H323zM448 401h5v1H448zM469 401h1v1H469zM474 401h1v1H474zM492 401h1v1H492zM530 401h1v1H530zM532 401h1v1H532zM536 401h1v1H536zM539 401h1v1H539zM542 401h1v1H542zM545 401h1v1H545zM548 401h1v1H548zM552 401h1v1H552zM555 401h1v1H555zM558 401h1v1H558zM561 401h1v1H561zM564 401h1v1H564zM568 401h1v1H568zM571 401h2v1H571zM98 402h1v1H98zM173 402h1v1H173zM178 402h1v1H178zM186 402h1v1H186zM196 402h1v1H196zM210 402h1v1H210zM227 402h1v1H227zM248 402h1v1H248zM272 402h1v1H272zM299 402h1v1H299zM323 402h1v1H323zM448 402h1v1H448zM452 402h1v1H452zM469 402h1v1H469zM474 402h1v1H474zM492 402h1v1H492zM531 402h1v1H531zM533 402h1v1H533zM537 402h1v1H537zM540 402h1v1H540zM542 402h31v1H542zM98 403h1v1H98zM173 403h1v1H173zM178 403h1v1H178zM186 403h1v1H186zM196 403h1v1H196zM210 403h1v1H210zM227 403h1v1H227zM248 403h1v1H248zM272 403h1v1H272zM299 403h1v1H299zM323 403h1v1H323zM448 403h1v1H448zM452 403h1v1H452zM469 403h1v1H469zM475 403h1v1H475zM492 403h1v1H492zM532 403h3v1H532zM538 403h1v1H538zM541 403h1v1H541zM98 404h1v1H98zM173 404h1v1H173zM178 404h1v1H178zM186 404h1v1H186zM196 404h1v1H196zM210 404h1v1H210zM227 404h1v1H227zM248 404h1v1H248zM272 404h1v1H272zM299 404h1v1H299zM323 404h1v1H323zM448 404h1v1H448zM452 404h1v1H452zM469 404h1v1H469zM475 404h1v1H475zM492 404h1v1H492zM534 404h2v1H534zM539 404h1v1H539zM541 404h1v1H541zM98 405h1v1H98zM173 405h1v1H173zM178 405h1v1H178zM186 405h1v1H186zM196 405h1v1H196zM210 405h1v1H210zM227 405h1v1H227zM248 405h1v1H248zM272 405h1v1H272zM299 405h1v1H299zM323 405h1v1H323zM448 405h1v1H448zM452 405h1v1H452zM469 405h1v1H469zM475 405h1v1H475zM492 405h1v1H492zM535 405h2v1H535zM540 405h2v1H540zM98 406h1v1H98zM173 406h1v1H173zM178 406h1v1H178zM186 406h1v1H186zM196 406h1v1H196zM210 406h1v1H210zM227 406h1v1H227zM248 406h1v1H248zM272 406h1v1H272zM299 406h1v1H299zM323 406h1v1H323zM448 406h1v1H448zM452 406h1v1H452zM469 406h1v1H469zM475 406h1v1H475zM492 406h1v1H492zM536 406h2v1H536zM541 406h1v1H541zM98 407h1v1H98zM173 407h1v1H173zM178 407h1v1H178zM186 407h1v1H186zM196 407h1v1H196zM210 407h1v1H210zM227 407h1v1H227zM248 407h1v1H248zM272 407h1v1H272zM299 407h1v1H299zM323 407h1v1H323zM448 407h1v1H448zM452 407h1v1H452zM469 407h1v1H469zM475 407h1v1H475zM492 407h1v1H492zM537 407h2v1H537zM541 407h1v1H541zM98 408h1v1H98zM173 408h1v1H173zM178 408h1v1H178zM186 408h1v1H186zM196 408h1v1H196zM210 408h1v1H210zM227 408h1v1H227zM248 408h1v1H248zM272 408h1v1H272zM299 408h1v1H299zM323 408h1v1H323zM448 408h1v1H448zM452 408h1v1H452zM469 408h1v1H469zM475 408h1v1H475zM492 408h1v1H492zM538 408h2v1H538zM541 408h1v1H541zM98 409h1v1H98zM173 409h1v1H173zM178 409h1v1H178zM186 409h1v1H186zM196 409h1v1H196zM210 409h1v1H210zM227 409h1v1H227zM248 409h1v1H248zM272 409h1v1H272zM299 409h1v1H299zM323 409h1v1H323zM448 409h1v1H448zM452 409h1v1H452zM469 409h1v1H469zM475 409h1v1H475zM492 409h1v1H492zM539 409h3v1H539zM98 410h1v1H98zM173 410h1v1H173zM178 410h1v1H178zM186 410h1v1H186zM196 410h1v1H196zM210 410h1v1H210zM227 410h1v1H227zM248 410h1v1H248zM272 410h1v1H272zM299 410h1v1H299zM323 410h1v1H323zM448 410h1v1H448zM452 410h1v1H452zM469 410h1v1H469zM475 410h1v1H475zM492 410h1v1H492zM540 410h2v1H540zM98 411h1v1H98zM173 411h1v1H173zM178 411h1v1H178zM186 411h1v1H186zM196 411h1v1H196zM210 411h1v1H210zM227 411h1v1H227zM248 411h1v1H248zM272 411h1v1H272zM299 411h1v1H299zM323 411h1v1H323zM448 411h1v1H448zM452 411h1v1H452zM469 411h1v1H469zM475 411h1v1H475zM492 411h1v1H492zM98 412h1v1H98zM173 412h1v1H173zM178 412h1v1H178zM186 412h1v1H186zM196 412h1v1H196zM210 412h1v1H210zM227 412h1v1H227zM248 412h1v1H248zM272 412h1v1H272zM299 412h1v1H299zM323 412h1v1H323zM448 412h1v1H448zM452 412h1v1H452zM468 412h1v1H468zM475 412h1v1H475zM492 412h1v1H492zM98 413h1v1H98zM173 413h1v1H173zM178 413h1v1H178zM186 413h1v1H186zM196 413h1v1H196zM210 413h1v1H210zM227 413h1v1H227zM248 413h1v1H248zM272 413h1v1H272zM299 413h1v1H299zM323 413h1v1H323zM448 413h5v1H448zM468 413h1v1H468zM475 413h1v1H475zM492 413h1v1H492zM98 414h1v1H98zM173 414h1v1H173zM178 414h1v1H178zM186 414h1v1H186zM196 414h1v1H196zM210 414h1v1H210zM227 414h1v1H227zM248 414h1v1H248zM272 414h1v1H272zM299 414h1v1H299zM323 414h1v1H323zM448 414h1v1H448zM451 414h2v1H451zM468 414h1v1H468zM476 414h1v1H476zM492 414h1v1H492zM98 415h1v1H98zM173 415h1v1H173zM178 415h1v1H178zM186 415h1v1H186zM196 415h1v1H196zM210 415h1v1H210zM227 415h1v1H227zM248 415h1v1H248zM272 415h1v1H272zM299 415h1v1H299zM323 415h1v1H323zM448 415h3v1H448zM452 415h1v1H452zM468 415h1v1H468zM476 415h1v1H476zM492 415h1v1H492zM98 416h1v1H98zM173 416h1v1H173zM178 416h1v1H178zM186 416h1v1H186zM196 416h1v1H196zM210 416h1v1H210zM227 416h1v1H227zM248 416h1v1H248zM272 416h1v1H272zM299 416h1v1H299zM323 416h1v1H323zM448 416h1v1H448zM450 416h3v1H450zM468 416h1v1H468zM476 416h1v1H476zM492 416h1v1H492zM98 417h1v1H98zM173 417h1v1H173zM178 417h1v1H178zM186 417h1v1H186zM196 417h1v1H196zM210 417h1v1H210zM227 417h1v1H227zM248 417h1v1H248zM272 417h1v1H272zM299 417h1v1H299zM323 417h1v1H323zM448 417h1v1H448zM450 417h1v1H450zM452 417h1v1H452zM468 417h1v1H468zM476 417h1v1H476zM492 417h1v1H492zM98 418h1v1H98zM173 418h1v1H173zM178 418h1v1H178zM186 418h1v1H186zM196 418h1v1H196zM210 418h1v1H210zM227 418h1v1H227zM248 418h1v1H248zM272 418h1v1H272zM299 418h1v1H299zM323 418h1v1H323zM333 418h1v1H333zM448 418h5v1H448zM468 418h1v1H468zM476 418h1v1H476zM492 418h1v1H492zM98 419h1v1H98zM173 419h1v1H173zM178 419h1v1H178zM186 419h1v1H186zM196 419h1v1H196zM210 419h1v1H210zM227 419h1v1H227zM248 419h1v1H248zM272 419h1v1H272zM299 419h1v1H299zM323 419h1v1H323zM333 419h1v1H333zM448 419h1v1H448zM452 419h1v1H452zM468 419h1v1H468zM476 419h1v1H476zM492 419h1v1H492zM98 420h1v1H98zM173 420h1v1H173zM178 420h1v1H178zM186 420h1v1H186zM196 420h1v1H196zM210 420h1v1H210zM227 420h1v1H227zM248 420h1v1H248zM272 420h1v1H272zM299 420h1v1H299zM323 420h1v1H323zM333 420h1v1H333zM448 420h1v1H448zM452 420h1v1H452zM468 420h1v1H468zM476 420h1v1H476zM492 420h1v1H492zM98 421h1v1H98zM173 421h1v1H173zM178 421h1v1H178zM186 421h1v1H186zM196 421h1v1H196zM210 421h1v1H210zM227 421h1v1H227zM248 421h1v1H248zM272 421h1v1H272zM299 421h1v1H299zM323 421h1v1H323zM333 421h1v1H333zM448 421h1v1H448zM452 421h1v1H452zM468 421h1v1H468zM476 421h1v1H476zM492 421h1v1H492zM98 422h1v1H98zM173 422h1v1H173zM178 422h1v1H178zM186 422h1v1H186zM196 422h1v1H196zM210 422h1v1H210zM227 422h1v1H227zM248 422h1v1H248zM272 422h1v1H272zM299 422h1v1H299zM323 422h1v1H323zM333 422h1v1H333zM448 422h1v1H448zM452 422h1v1H452zM468 422h1v1H468zM476 422h1v1H476zM492 422h1v1H492zM98 423h1v1H98zM173 423h1v1H173zM178 423h1v1H178zM186 423h1v1H186zM196 423h1v1H196zM210 423h1v1H210zM227 423h1v1H227zM248 423h1v1H248zM272 423h1v1H272zM299 423h1v1H299zM323 423h1v1H323zM333 423h1v1H333zM448 423h1v1H448zM452 423h1v1H452zM468 423h1v1H468zM476 423h1v1H476zM492 423h1v1H492zM98 424h1v1H98zM173 424h1v1H173zM178 424h1v1H178zM186 424h1v1H186zM196 424h1v1H196zM210 424h1v1H210zM227 424h1v1H227zM248 424h1v1H248zM272 424h1v1H272zM299 424h1v1H299zM323 424h1v1H323zM333 424h1v1H333zM448 424h1v1H448zM452 424h1v1H452zM467 424h1v1H467zM476 424h1v1H476zM492 424h1v1H492zM98 425h1v1H98zM173 425h1v1H173zM178 425h1v1H178zM186 425h1v1H186zM196 425h1v1H196zM210 425h1v1H210zM227 425h1v1H227zM248 425h1v1H248zM272 425h1v1H272zM299 425h1v1H299zM323 425h1v1H323zM333 425h1v1H333zM448 425h1v1H448zM452 425h1v1H452zM467 425h1v1H467zM476 425h1v1H476zM492 425h1v1H492zM98 426h1v1H98zM173 426h1v1H173zM178 426h1v1H178zM186 426h1v1H186zM196 426h1v1H196zM210 426h1v1H210zM227 426h1v1H227zM248 426h1v1H248zM272 426h1v1H272zM299 426h1v1H299zM323 426h1v1H323zM333 426h1v1H333zM448 426h1v1H448zM452 426h1v1H452zM467 426h1v1H467zM477 426h1v1H477zM492 426h1v1H492zM98 427h1v1H98zM173 427h1v1H173zM178 427h1v1H178zM186 427h1v1H186zM196 427h1v1H196zM210 427h1v1H210zM227 427h1v1H227zM248 427h1v1H248zM272 427h1v1H272zM299 427h1v1H299zM323 427h1v1H323zM333 427h1v1H333zM448 427h1v1H448zM452 427h1v1H452zM467 427h1v1H467zM477 427h1v1H477zM492 427h1v1H492zM98 428h1v1H98zM173 428h1v1H173zM178 428h1v1H178zM186 428h1v1H186zM196 428h1v1H196zM210 428h1v1H210zM227 428h1v1H227zM248 428h1v1H248zM272 428h1v1H272zM299 428h1v1H299zM323 428h1v1H323zM333 428h1v1H333zM448 428h1v1H448zM452 428h1v1H452zM467 428h1v1H467zM477 428h1v1H477zM492 428h1v1H492zM98 429h1v1H98zM173 429h1v1H173zM178 429h1v1H178zM186 429h1v1H186zM196 429h1v1H196zM210 429h1v1H210zM227 429h1v1H227zM248 429h1v1H248zM272 429h1v1H272zM299 429h1v1H299zM323 429h1v1H323zM333 429h1v1H333zM448 429h1v1H448zM452 429h1v1H452zM467 429h1v1H467zM477 429h1v1H477zM492 429h1v1H492zM98 430h1v1H98zM173 430h1v1H173zM178 430h1v1H178zM186 430h1v1H186zM196 430h1v1H196zM210 430h1v1H210zM227 430h1v1H227zM248 430h1v1H248zM272 430h1v1H272zM299 430h1v1H299zM323 430h1v1H323zM333 430h1v1H333zM448 430h1v1H448zM452 430h1v1H452zM467 430h1v1H467zM477 430h1v1H477zM492 430h1v1H492zM98 431h1v1H98zM173 431h1v1H173zM178 431h1v1H178zM186 431h1v1H186zM196 431h1v1H196zM210 431h1v1H210zM227 431h1v1H227zM248 431h1v1H248zM272 431h1v1H272zM299 431h1v1H299zM323 431h1v1H323zM333 431h1v1H333zM448 431h5v1H448zM467 431h1v1H467zM477 431h1v1H477zM492 431h1v1H492zM98 432h1v1H98zM173 432h1v1H173zM178 432h1v1H178zM186 432h1v1H186zM196 432h1v1H196zM210 432h1v1H210zM227 432h1v1H227zM248 432h1v1H248zM272 432h1v1H272zM299 432h1v1H299zM323 432h1v1H323zM333 432h1v1H333zM448 432h1v1H448zM450 432h1v1H450zM452 432h1v1H452zM467 432h1v1H467zM477 432h1v1H477zM492 432h1v1H492zM98 433h1v1H98zM173 433h1v1H173zM178 433h1v1H178zM186 433h1v1H186zM196 433h1v1H196zM210 433h1v1H210zM227 433h1v1H227zM248 433h1v1H248zM272 433h1v1H272zM299 433h1v1H299zM323 433h1v1H323zM333 433h1v1H333zM448 433h5v1H448zM467 433h1v1H467zM477 433h1v1H477zM492 433h1v1H492zM98 434h1v1H98zM173 434h1v1H173zM178 434h1v1H178zM186 434h1v1H186zM196 434h1v1H196zM210 434h1v1H210zM227 434h1v1H227zM248 434h1v1H248zM272 434h1v1H272zM299 434h1v1H299zM323 434h1v1H323zM333 434h1v1H333zM448 434h1v1H448zM450 434h1v1H450zM452 434h1v1H452zM467 434h1v1H467zM477 434h1v1H477zM492 434h1v1H492zM98 435h1v1H98zM173 435h1v1H173zM178 435h1v1H178zM186 435h1v1H186zM196 435h1v1H196zM210 435h1v1H210zM227 435h1v1H227zM248 435h1v1H248zM272 435h1v1H272zM299 435h1v1H299zM323 435h1v1H323zM448 435h2v1H448zM452 435h1v1H452zM467 435h1v1H467zM477 435h1v1H477zM492 435h1v1H492zM98 436h1v1H98zM173 436h1v1H173zM178 436h1v1H178zM186 436h1v1H186zM196 436h1v1H196zM210 436h1v1H210zM227 436h1v1H227zM248 436h1v1H248zM272 436h1v1H272zM299 436h1v1H299zM323 436h1v1H323zM448 436h5v1H448zM466 436h1v1H466zM477 436h1v1H477zM492 436h1v1H492zM98 437h1v1H98zM173 437h1v1H173zM178 437h1v1H178zM186 437h1v1H186zM196 437h1v1H196zM210 437h1v1H210zM227 437h1v1H227zM248 437h1v1H248zM272 437h1v1H272zM299 437h1v1H299zM323 437h1v1H323zM448 437h1v1H448zM452 437h1v1H452zM466 437h1v1H466zM477 437h1v1H477zM492 437h1v1H492zM98 438h1v1H98zM173 438h1v1H173zM178 438h1v1H178zM186 438h1v1H186zM196 438h1v1H196zM210 438h1v1H210zM227 438h1v1H227zM248 438h1v1H248zM272 438h1v1H272zM299 438h1v1H299zM323 438h1v1H323zM448 438h1v1H448zM452 438h1v1H452zM466 438h1v1H466zM478 438h1v1H478zM492 438h1v1H492zM98 439h1v1H98zM173 439h1v1H173zM178 439h1v1H178zM186 439h1v1H186zM196 439h1v1H196zM210 439h1v1H210zM227 439h1v1H227zM248 439h1v1H248zM272 439h1v1H272zM299 439h1v1H299zM323 439h1v1H323zM448 439h1v1H448zM452 439h1v1H452zM466 439h1v1H466zM478 439h1v1H478zM492 439h1v1H492zM98 440h1v1H98zM173 440h1v1H173zM178 440h1v1H178zM186 440h1v1H186zM196 440h1v1H196zM210 440h1v1H210zM227 440h1v1H227zM248 440h1v1H248zM272 440h1v1H272zM299 440h1v1H299zM323 440h1v1H323zM448 440h1v1H448zM452 440h1v1H452zM466 440h1v1H466zM478 440h1v1H478zM492 440h1v1H492zM98 441h1v1H98zM173 441h1v1H173zM178 441h1v1H178zM186 441h1v1H186zM196 441h1v1H196zM210 441h1v1H210zM227 441h1v1H227zM248 441h1v1H248zM272 441h1v1H272zM299 441h1v1H299zM323 441h1v1H323zM448 441h1v1H448zM452 441h1v1H452zM466 441h1v1H466zM478 441h1v1H478zM492 441h1v1H492zM98 442h1v1H98zM173 442h1v1H173zM178 442h1v1H178zM186 442h1v1H186zM196 442h1v1H196zM210 442h1v1H210zM227 442h1v1H227zM248 442h1v1H248zM272 442h1v1H272zM299 442h1v1H299zM323 442h1v1H323zM448 442h1v1H448zM452 442h1v1H452zM466 442h1v1H466zM478 442h1v1H478zM492 442h1v1H492zM98 443h1v1H98zM173 443h1v1H173zM178 443h1v1H178zM186 443h1v1H186zM196 443h1v1H196zM210 443h1v1H210zM227 443h1v1H227zM248 443h1v1H248zM272 443h1v1H272zM299 443h1v1H299zM323 443h1v1H323zM448 443h1v1H448zM452 443h1v1H452zM466 443h1v1H466zM478 443h1v1H478zM492 443h1v1H492zM98 444h1v1H98zM173 444h1v1H173zM178 444h1v1H178zM186 444h1v1H186zM196 444h1v1H196zM210 444h1v1H210zM227 444h1v1H227zM248 444h1v1H248zM272 444h1v1H272zM299 444h1v1H299zM323 444h1v1H323zM448 444h1v1H448zM452 444h1v1H452zM466 444h1v1H466zM478 444h1v1H478zM492 444h1v1H492zM98 445h1v1H98zM173 445h1v1H173zM178 445h1v1H178zM186 445h1v1H186zM196 445h1v1H196zM210 445h1v1H210zM227 445h1v1H227zM248 445h1v1H248zM272 445h1v1H272zM299 445h1v1H299zM323 445h1v1H323zM448 445h1v1H448zM452 445h1v1H452zM466 445h1v1H466zM478 445h1v1H478zM492 445h1v1H492zM98 446h1v1H98zM173 446h1v1H173zM178 446h1v1H178zM186 446h1v1H186zM196 446h1v1H196zM210 446h1v1H210zM227 446h1v1H227zM248 446h1v1H248zM272 446h1v1H272zM299 446h1v1H299zM323 446h1v1H323zM448 446h1v1H448zM452 446h1v1H452zM466 446h1v1H466zM478 446h1v1H478zM492 446h1v1H492zM98 447h1v1H98zM173 447h1v1H173zM178 447h1v1H178zM186 447h1v1H186zM196 447h1v1H196zM210 447h1v1H210zM227 447h1v1H227zM248 447h1v1H248zM272 447h1v1H272zM299 447h1v1H299zM323 447h1v1H323zM448 447h1v1H448zM452 447h1v1H452zM465 447h1v1H465zM478 447h1v1H478zM492 447h1v1H492zM98 448h1v1H98zM173 448h1v1H173zM178 448h1v1H178zM186 448h1v1H186zM196 448h1v1H196zM210 448h1v1H210zM227 448h1v1H227zM248 448h1v1H248zM272 448h1v1H272zM299 448h1v1H299zM323 448h1v1H323zM448 448h5v1H448zM465 448h1v1H465zM478 448h1v1H478zM492 448h1v1H492zM98 449h1v1H98zM173 449h1v1H173zM178 449h1v1H178zM186 449h1v1H186zM196 449h1v1H196zM210 449h1v1H210zM227 449h1v1H227zM248 449h1v1H248zM272 449h1v1H272zM299 449h1v1H299zM323 449h1v1H323zM448 449h1v1H448zM451 449h2v1H451zM465 449h1v1H465zM479 449h1v1H479zM492 449h1v1H492zM98 450h1v1H98zM173 450h1v1H173zM178 450h1v1H178zM186 450h1v1H186zM196 450h1v1H196zM210 450h1v1H210zM227 450h1v1H227zM248 450h1v1H248zM272 450h1v1H272zM299 450h1v1H299zM323 450h1v1H323zM448 450h3v1H448zM452 450h1v1H452zM465 450h1v1H465zM479 450h1v1H479zM492 450h1v1H492zM98 451h1v1H98zM173 451h1v1H173zM178 451h1v1H178zM186 451h1v1H186zM196 451h1v1H196zM210 451h1v1H210zM227 451h1v1H227zM248 451h1v1H248zM272 451h1v1H272zM299 451h1v1H299zM323 451h1v1H323zM448 451h1v1H448zM450 451h3v1H450zM465 451h1v1H465zM479 451h1v1H479zM492 451h1v1H492zM98 452h1v1H98zM173 452h1v1H173zM178 452h1v1H178zM186 452h1v1H186zM196 452h1v1H196zM210 452h1v1H210zM227 452h1v1H227zM248 452h1v1H248zM272 452h1v1H272zM299 452h1v1H299zM323 452h1v1H323zM333 452h1v1H333zM448 452h1v1H448zM450 452h1v1H450zM452 452h1v1H452zM465 452h1v1H465zM479 452h1v1H479zM492 452h1v1H492zM98 453h1v1H98zM173 453h1v1H173zM178 453h1v1H178zM186 453h1v1H186zM196 453h1v1H196zM210 453h1v1H210zM227 453h1v1H227zM248 453h1v1H248zM272 453h1v1H272zM299 453h1v1H299zM323 453h1v1H323zM333 453h1v1H333zM448 453h5v1H448zM465 453h1v1H465zM479 453h1v1H479zM492 453h1v1H492zM98 454h1v1H98zM173 454h1v1H173zM178 454h1v1H178zM186 454h1v1H186zM196 454h1v1H196zM210 454h1v1H210zM227 454h1v1H227zM248 454h1v1H248zM272 454h1v1H272zM299 454h1v1H299zM323 454h1v1H323zM333 454h1v1H333zM448 454h1v1H448zM452 454h1v1H452zM465 454h1v1H465zM479 454h1v1H479zM492 454h1v1H492zM98 455h1v1H98zM173 455h1v1H173zM178 455h1v1H178zM186 455h1v1H186zM196 455h1v1H196zM210 455h1v1H210zM227 455h1v1H227zM248 455h1v1H248zM272 455h1v1H272zM299 455h1v1H299zM323 455h1v1H323zM333 455h1v1H333zM448 455h1v1H448zM452 455h1v1H452zM465 455h1v1H465zM479 455h1v1H479zM492 455h1v1H492zM98 456h1v1H98zM173 456h1v1H173zM178 456h1v1H178zM186 456h1v1H186zM196 456h1v1H196zM210 456h1v1H210zM227 456h1v1H227zM248 456h1v1H248zM272 456h1v1H272zM299 456h1v1H299zM323 456h1v1H323zM333 456h1v1H333zM448 456h1v1H448zM452 456h1v1H452zM465 456h1v1H465zM479 456h1v1H479zM492 456h1v1H492zM98 457h1v1H98zM173 457h1v1H173zM178 457h1v1H178zM186 457h1v1H186zM196 457h1v1H196zM210 457h1v1H210zM227 457h1v1H227zM248 457h1v1H248zM272 457h1v1H272zM299 457h1v1H299zM323 457h1v1H323zM333 457h1v1H333zM448 457h1v1H448zM452 457h1v1H452zM465 457h1v1H465zM479 457h1v1H479zM492 457h1v1H492zM98 458h1v1H98zM173 458h1v1H173zM178 458h1v1H178zM186 458h1v1H186zM196 458h1v1H196zM210 458h1v1H210zM227 458h1v1H227zM248 458h1v1H248zM272 458h1v1H272zM299 458h1v1H299zM323 458h1v1H323zM333 458h1v1H333zM448 458h1v1H448zM452 458h1v1H452zM465 458h1v1H465zM479 458h1v1H479zM492 458h1v1H492zM98 459h1v1H98zM173 459h1v1H173zM178 459h1v1H178zM186 459h1v1H186zM196 459h1v1H196zM210 459h1v1H210zM227 459h1v1H227zM248 459h1v1H248zM272 459h1v1H272zM299 459h1v1H299zM323 459h1v1H323zM333 459h1v1H333zM379 459h6v1H379zM399 459h6v1H399zM448 459h1v1H448zM452 459h1v1H452zM464 459h1v1H464zM479 459h1v1H479zM492 459h1v1H492zM98 460h1v1H98zM173 460h1v1H173zM178 460h1v1H178zM186 460h1v1H186zM196 460h1v1H196zM210 460h1v1H210zM227 460h1v1H227zM248 460h1v1H248zM272 460h1v1H272zM299 460h1v1H299zM323 460h1v1H323zM333 460h1v1H333zM378 460h1v1H378zM385 460h1v1H385zM398 460h1v1H398zM405 460h1v1H405zM448 460h1v1H448zM452 460h1v1H452zM464 460h1v1H464zM479 460h1v1H479zM492 460h1v1H492zM98 461h1v1H98zM173 461h1v1H173zM178 461h1v1H178zM186 461h1v1H186zM196 461h1v1H196zM210 461h1v1H210zM227 461h1v1H227zM248 461h1v1H248zM272 461h1v1H272zM299 461h1v1H299zM323 461h1v1H323zM333 461h1v1H333zM377 461h1v1H377zM386 461h1v1H386zM397 461h1v1H397zM406 461h1v1H406zM448 461h1v1H448zM452 461h1v1H452zM464 461h1v1H464zM480 461h1v1H480zM492 461h1v1H492zM98 462h1v1H98zM173 462h1v1H173zM178 462h1v1H178zM186 462h1v1H186zM196 462h1v1H196zM210 462h1v1H210zM227 462h1v1H227zM248 462h1v1H248zM272 462h1v1H272zM299 462h1v1H299zM323 462h1v1H323zM333 462h1v1H333zM376 462h1v1H376zM387 462h1v1H387zM396 462h1v1H396zM407 462h1v1H407zM448 462h1v1H448zM452 462h1v1H452zM464 462h1v1H464zM480 462h1v1H480zM492 462h1v1H492zM98 463h1v1H98zM173 463h1v1H173zM178 463h1v1H178zM186 463h1v1H186zM196 463h1v1H196zM210 463h1v1H210zM227 463h1v1H227zM248 463h1v1H248zM272 463h1v1H272zM299 463h1v1H299zM323 463h1v1H323zM333 463h1v1H333zM376 463h1v1H376zM387 463h1v1H387zM396 463h1v1H396zM407 463h1v1H407zM448 463h1v1H448zM452 463h1v1H452zM464 463h1v1H464zM480 463h1v1H480zM492 463h1v1H492zM98 464h1v1H98zM173 464h1v1H173zM178 464h1v1H178zM186 464h1v1H186zM196 464h1v1H196zM210 464h1v1H210zM227 464h1v1H227zM248 464h1v1H248zM272 464h1v1H272zM299 464h1v1H299zM323 464h1v1H323zM333 464h1v1H333zM375 464h1v1H375zM388 464h1v1H388zM395 464h1v1H395zM408 464h1v1H408zM448 464h1v1H448zM452 464h1v1H452zM464 464h1v1H464zM480 464h1v1H480zM492 464h1v1H492zM98 465h1v1H98zM173 465h1v1H173zM178 465h1v1H178zM186 465h1v1H186zM196 465h1v1H196zM210 465h1v1H210zM227 465h1v1H227zM248 465h1v1H248zM272 465h1v1H272zM299 465h1v1H299zM323 465h1v1H323zM333 465h1v1H333zM375 465h1v1H375zM388 465h1v1H388zM395 465h1v1H395zM408 465h1v1H408zM448 465h1v1H448zM452 465h1v1H452zM464 465h1v1H464zM480 465h1v1H480zM492 465h1v1H492zM98 466h1v1H98zM173 466h1v1H173zM178 466h1v1H178zM186 466h1v1H186zM196 466h1v1H196zM210 466h1v1H210zM227 466h1v1H227zM248 466h1v1H248zM272 466h1v1H272zM299 466h1v1H299zM323 466h1v1H323zM333 466h1v1H333zM375 466h1v1H375zM388 466h1v1H388zM395 466h1v1H395zM408 466h1v1H408zM448 466h5v1H448zM464 466h1v1H464zM480 466h1v1H480zM492 466h1v1H492zM98 467h1v1H98zM173 467h1v1H173zM178 467h1v1H178zM186 467h1v1H186zM196 467h1v1H196zM210 467h1v1H210zM227 467h1v1H227zM248 467h1v1H248zM272 467h1v1H272zM299 467h1v1H299zM323 467h1v1H323zM333 467h1v1H333zM376 467h1v1H376zM387 467h1v1H387zM396 467h1v1H396zM407 467h1v1H407zM448 467h1v1H448zM450 467h1v1H450zM452 467h1v1H452zM464 467h1v1H464zM480 467h1v1H480zM492 467h1v1H492zM98 468h1v1H98zM173 468h1v1H173zM178 468h1v1H178zM186 468h1v1H186zM196 468h1v1H196zM210 468h1v1H210zM227 468h1v1H227zM248 468h1v1H248zM272 468h1v1H272zM299 468h1v1H299zM323 468h1v1H323zM333 468h1v1H333zM376 468h1v1H376zM387 468h1v1H387zM396 468h1v1H396zM407 468h1v1H407zM448 468h5v1H448zM464 468h1v1H464zM480 468h1v1H480zM492 468h1v1H492zM98 469h1v1H98zM173 469h1v1H173zM178 469h1v1H178zM186 469h1v1H186zM196 469h1v1H196zM210 469h1v1H210zM227 469h1v1H227zM248 469h1v1H248zM272 469h1v1H272zM299 469h1v1H299zM323 469h1v1H323zM377 469h1v1H377zM386 469h1v1H386zM397 469h1v1H397zM406 469h1v1H406zM448 469h1v1H448zM450 469h1v1H450zM452 469h1v1H452zM464 469h1v1H464zM480 469h1v1H480zM492 469h1v1H492zM98 470h1v1H98zM173 470h1v1H173zM178 470h1v1H178zM186 470h1v1H186zM196 470h1v1H196zM210 470h1v1H210zM227 470h1v1H227zM248 470h1v1H248zM272 470h1v1H272zM299 470h1v1H299zM323 470h1v1H323zM378 470h1v1H378zM385 470h1v1H385zM398 470h1v1H398zM405 470h1v1H405zM448 470h2v1H448zM452 470h1v1H452zM463 470h1v1H463zM480 470h1v1H480zM492 470h1v1H492zM98 471h1v1H98zM173 471h1v1H173zM178 471h1v1H178zM186 471h1v1H186zM196 471h1v1H196zM210 471h1v1H210zM227 471h1v1H227zM248 471h1v1H248zM272 471h1v1H272zM299 471h1v1H299zM323 471h1v1H323zM379 471h6v1H379zM399 471h6v1H399zM448 471h5v1H448zM463 471h1v1H463zM480 471h1v1H480zM492 471h1v1H492zM98 472h1v1H98zM173 472h1v1H173zM178 472h1v1H178zM186 472h1v1H186zM196 472h1v1H196zM210 472h1v1H210zM227 472h1v1H227zM248 472h1v1H248zM272 472h1v1H272zM299 472h1v1H299zM323 472h1v1H323zM448 472h1v1H448zM452 472h1v1H452zM463 472h1v1H463zM481 472h1v1H481zM492 472h1v1H492zM98 473h1v1H98zM173 473h1v1H173zM178 473h1v1H178zM186 473h1v1H186zM196 473h1v1H196zM210 473h1v1H210zM227 473h1v1H227zM248 473h1v1H248zM272 473h1v1H272zM299 473h1v1H299zM323 473h1v1H323zM448 473h1v1H448zM452 473h1v1H452zM463 473h1v1H463zM481 473h1v1H481zM492 473h1v1H492zM98 474h1v1H98zM173 474h1v1H173zM178 474h1v1H178zM186 474h1v1H186zM196 474h1v1H196zM210 474h1v1H210zM227 474h1v1H227zM248 474h1v1H248zM272 474h1v1H272zM299 474h1v1H299zM323 474h1v1H323zM448 474h1v1H448zM452 474h1v1H452zM463 474h1v1H463zM481 474h1v1H481zM492 474h1v1H492zM98 475h1v1H98zM173 475h1v1H173zM178 475h1v1H178zM186 475h1v1H186zM196 475h1v1H196zM210 475h1v1H210zM227 475h1v1H227zM248 475h1v1H248zM272 475h1v1H272zM299 475h1v1H299zM323 475h1v1H323zM448 475h1v1H448zM452 475h1v1H452zM463 475h1v1H463zM481 475h1v1H481zM492 475h1v1H492zM98 476h1v1H98zM173 476h1v1H173zM178 476h1v1H178zM186 476h1v1H186zM196 476h1v1H196zM210 476h1v1H210zM227 476h1v1H227zM248 476h1v1H248zM272 476h1v1H272zM299 476h1v1H299zM323 476h1v1H323zM370 476h4v1H370zM390 476h4v1H390zM411 476h4v1H411zM448 476h1v1H448zM452 476h1v1H452zM463 476h1v1H463zM481 476h1v1H481zM492 476h1v1H492zM98 477h1v1H98zM173 477h1v1H173zM178 477h1v1H178zM186 477h1v1H186zM196 477h1v1H196zM210 477h1v1H210zM227 477h1v1H227zM248 477h1v1H248zM272 477h1v1H272zM299 477h1v1H299zM323 477h1v1H323zM368 477h3v1H368zM373 477h3v1H373zM388 477h3v1H388zM393 477h3v1H393zM409 477h3v1H409zM414 477h3v1H414zM448 477h1v1H448zM452 477h1v1H452zM463 477h1v1H463zM481 477h1v1H481zM492 477h1v1H492zM98 478h1v1H98zM173 478h1v1H173zM178 478h1v1H178zM186 478h1v1H186zM196 478h1v1H196zM210 478h1v1H210zM227 478h1v1H227zM248 478h1v1H248zM272 478h1v1H272zM299 478h1v1H299zM323 478h1v1H323zM367 478h2v1H367zM375 478h2v1H375zM387 478h2v1H387zM395 478h2v1H395zM408 478h2v1H408zM416 478h2v1H416zM448 478h1v1H448zM452 478h1v1H452zM463 478h1v1H463zM481 478h1v1H481zM492 478h1v1H492zM98 479h1v1H98zM173 479h1v1H173zM178 479h1v1H178zM186 479h1v1H186zM196 479h1v1H196zM210 479h1v1H210zM227 479h1v1H227zM248 479h1v1H248zM272 479h1v1H272zM299 479h1v1H299zM323 479h1v1H323zM366 479h2v1H366zM376 479h2v1H376zM386 479h2v1H386zM396 479h2v1H396zM407 479h2v1H407zM417 479h2v1H417zM448 479h1v1H448zM452 479h1v1H452zM463 479h1v1H463zM481 479h1v1H481zM492 479h1v1H492zM98 480h1v1H98zM173 480h1v1H173zM178 480h1v1H178zM186 480h1v1H186zM196 480h1v1H196zM210 480h1v1H210zM227 480h1v1H227zM248 480h1v1H248zM272 480h1v1H272zM299 480h1v1H299zM323 480h1v1H323zM366 480h1v1H366zM377 480h1v1H377zM386 480h1v1H386zM397 480h1v1H397zM407 480h1v1H407zM418 480h1v1H418zM448 480h1v1H448zM452 480h1v1H452zM463 480h1v1H463zM481 480h1v1H481zM492 480h1v1H492zM98 481h1v1H98zM173 481h1v1H173zM178 481h1v1H178zM186 481h1v1H186zM196 481h1v1H196zM210 481h1v1H210zM227 481h1v1H227zM248 481h1v1H248zM272 481h1v1H272zM299 481h1v1H299zM323 481h1v1H323zM365 481h2v1H365zM377 481h2v1H377zM385 481h2v1H385zM397 481h2v1H397zM406 481h2v1H406zM418 481h2v1H418zM448 481h1v1H448zM452 481h1v1H452zM463 481h1v1H463zM481 481h1v1H481zM492 481h1v1H492zM98 482h1v1H98zM173 482h1v1H173zM178 482h1v1H178zM186 482h1v1H186zM196 482h1v1H196zM210 482h1v1H210zM227 482h1v1H227zM248 482h1v1H248zM272 482h1v1H272zM299 482h1v1H299zM323 482h1v1H323zM365 482h1v1H365zM378 482h1v1H378zM385 482h1v1H385zM398 482h1v1H398zM406 482h1v1H406zM419 482h1v1H419zM448 482h1v1H448zM452 482h1v1H452zM462 482h1v1H462zM481 482h1v1H481zM492 482h1v1H492zM98 483h1v1H98zM173 483h1v1H173zM178 483h1v1H178zM186 483h1v1H186zM196 483h1v1H196zM210 483h1v1H210zM227 483h1v1H227zM248 483h1v1H248zM272 483h1v1H272zM299 483h1v1H299zM323 483h1v1H323zM365 483h1v1H365zM378 483h1v1H378zM385 483h1v1H385zM398 483h1v1H398zM406 483h1v1H406zM419 483h1v1H419zM448 483h5v1H448zM462 483h1v1H462zM481 483h1v1H481zM492 483h1v1H492zM98 484h1v1H98zM173 484h1v1H173zM178 484h1v1H178zM186 484h1v1H186zM196 484h1v1H196zM210 484h1v1H210zM227 484h1v1H227zM248 484h1v1H248zM272 484h1v1H272zM299 484h1v1H299zM323 484h1v1H323zM365 484h2v1H365zM377 484h2v1H377zM385 484h2v1H385zM397 484h2v1H397zM406 484h2v1H406zM418 484h2v1H418zM448 484h1v1H448zM451 484h2v1H451zM462 484h1v1H462zM482 484h1v1H482zM492 484h1v1H492zM98 485h1v1H98zM173 485h1v1H173zM178 485h1v1H178zM186 485h1v1H186zM196 485h1v1H196zM210 485h1v1H210zM227 485h1v1H227zM248 485h1v1H248zM272 485h1v1H272zM299 485h1v1H299zM323 485h1v1H323zM366 485h1v1H366zM377 485h1v1H377zM386 485h1v1H386zM397 485h1v1H397zM407 485h1v1H407zM418 485h1v1H418zM448 485h3v1H448zM452 485h1v1H452zM462 485h1v1H462zM482 485h1v1H482zM492 485h1v1H492zM98 486h1v1H98zM173 486h1v1H173zM178 486h1v1H178zM186 486h1v1H186zM196 486h1v1H196zM210 486h1v1H210zM227 486h1v1H227zM248 486h1v1H248zM272 486h1v1H272zM299 486h1v1H299zM323 486h1v1H323zM333 486h1v1H333zM366 486h2v1H366zM376 486h2v1H376zM386 486h2v1H386zM396 486h2v1H396zM407 486h2v1H407zM417 486h2v1H417zM448 486h1v1H448zM450 486h3v1H450zM462 486h1v1H462zM482 486h1v1H482zM492 486h1v1H492zM98 487h1v1H98zM173 487h1v1H173zM178 487h1v1H178zM186 487h1v1H186zM196 487h1v1H196zM210 487h1v1H210zM227 487h1v1H227zM248 487h1v1H248zM272 487h1v1H272zM299 487h1v1H299zM323 487h1v1H323zM333 487h1v1H333zM367 487h2v1H367zM375 487h2v1H375zM387 487h2v1H387zM395 487h2v1H395zM408 487h2v1H408zM416 487h2v1H416zM448 487h1v1H448zM450 487h1v1H450zM452 487h1v1H452zM462 487h1v1H462zM482 487h1v1H482zM492 487h1v1H492zM98 488h1v1H98zM173 488h1v1H173zM178 488h1v1H178zM186 488h1v1H186zM196 488h1v1H196zM210 488h1v1H210zM227 488h1v1H227zM248 488h1v1H248zM272 488h1v1H272zM299 488h1v1H299zM323 488h1v1H323zM333 488h1v1H333zM368 488h3v1H368zM373 488h3v1H373zM388 488h3v1H388zM393 488h3v1H393zM409 488h3v1H409zM414 488h3v1H414zM448 488h5v1H448zM462 488h1v1H462zM482 488h1v1H482zM492 488h1v1H492zM98 489h1v1H98zM173 489h1v1H173zM178 489h1v1H178zM186 489h1v1H186zM196 489h1v1H196zM210 489h1v1H210zM227 489h1v1H227zM248 489h1v1H248zM272 489h1v1H272zM299 489h1v1H299zM323 489h1v1H323zM333 489h1v1H333zM370 489h4v1H370zM390 489h4v1H390zM411 489h4v1H411zM448 489h1v1H448zM452 489h1v1H452zM462 489h1v1H462zM482 489h1v1H482zM492 489h1v1H492zM98 490h1v1H98zM173 490h1v1H173zM178 490h1v1H178zM186 490h1v1H186zM196 490h1v1H196zM210 490h1v1H210zM227 490h1v1H227zM248 490h1v1H248zM272 490h1v1H272zM299 490h1v1H299zM323 490h1v1H323zM333 490h1v1H333zM448 490h1v1H448zM452 490h1v1H452zM462 490h1v1H462zM482 490h1v1H482zM492 490h1v1H492zM98 491h1v1H98zM173 491h1v1H173zM178 491h1v1H178zM186 491h1v1H186zM196 491h1v1H196zM210 491h1v1H210zM227 491h1v1H227zM248 491h1v1H248zM272 491h1v1H272zM299 491h1v1H299zM323 491h1v1H323zM333 491h1v1H333zM448 491h1v1H448zM452 491h1v1H452zM462 491h1v1H462zM482 491h1v1H482zM492 491h1v1H492zM98 492h1v1H98zM173 492h1v1H173zM178 492h1v1H178zM186 492h1v1H186zM196 492h1v1H196zM210 492h1v1H210zM227 492h1v1H227zM248 492h1v1H248zM272 492h1v1H272zM299 492h1v1H299zM323 492h1v1H323zM333 492h1v1H333zM448 492h1v1H448zM452 492h1v1H452zM462 492h1v1H462zM482 492h1v1H482zM492 492h1v1H492zM98 493h1v1H98zM173 493h1v1H173zM178 493h1v1H178zM186 493h1v1H186zM196 493h1v1H196zM210 493h1v1H210zM227 493h1v1H227zM248 493h1v1H248zM272 493h1v1H272zM299 493h1v1H299zM323 493h1v1H323zM333 493h1v1H333zM448 493h1v1H448zM452 493h1v1H452zM462 493h1v1H462zM482 493h1v1H482zM492 493h1v1H492zM98 494h1v1H98zM173 494h1v1H173zM178 494h1v1H178zM186 494h1v1H186zM196 494h1v1H196zM210 494h1v1H210zM227 494h1v1H227zM248 494h1v1H248zM272 494h1v1H272zM299 494h1v1H299zM323 494h1v1H323zM333 494h1v1H333zM379 494h6v1H379zM399 494h6v1H399zM448 494h1v1H448zM452 494h1v1H452zM461 494h1v1H461zM482 494h1v1H482zM492 494h1v1H492zM98 495h1v1H98zM173 495h1v1H173zM178 495h1v1H178zM186 495h1v1H186zM196 495h1v1H196zM210 495h1v1H210zM227 495h1v1H227zM248 495h1v1H248zM272 495h1v1H272zM299 495h1v1H299zM323 495h1v1H323zM333 495h1v1H333zM378 495h1v1H378zM385 495h1v1H385zM398 495h1v1H398zM405 495h1v1H405zM448 495h1v1H448zM452 495h1v1H452zM461 495h1v1H461zM482 495h1v1H482zM492 495h1v1H492zM98 496h1v1H98zM173 496h1v1H173zM178 496h1v1H178zM186 496h1v1H186zM196 496h1v1H196zM210 496h1v1H210zM227 496h1v1H227zM248 496h1v1H248zM272 496h1v1H272zM299 496h1v1H299zM323 496h1v1H323zM333 496h1v1H333zM377 496h1v1H377zM386 496h1v1H386zM397 496h1v1H397zM406 496h1v1H406zM448 496h1v1H448zM452 496h1v1H452zM461 496h1v1H461zM483 496h1v1H483zM492 496h1v1H492zM98 497h1v1H98zM173 497h1v1H173zM178 497h1v1H178zM186 497h1v1H186zM196 497h1v1H196zM210 497h1v1H210zM227 497h1v1H227zM248 497h1v1H248zM272 497h1v1H272zM299 497h1v1H299zM323 497h1v1H323zM333 497h1v1H333zM376 497h1v1H376zM387 497h1v1H387zM396 497h1v1H396zM407 497h1v1H407zM448 497h1v1H448zM452 497h1v1H452zM461 497h1v1H461zM483 497h1v1H483zM492 497h1v1H492zM98 498h1v1H98zM173 498h1v1H173zM178 498h1v1H178zM186 498h1v1H186zM196 498h1v1H196zM210 498h1v1H210zM227 498h1v1H227zM248 498h1v1H248zM272 498h1v1H272zM299 498h1v1H299zM323 498h1v1H323zM333 498h1v1H333zM376 498h1v1H376zM387 498h1v1H387zM396 498h1v1H396zM407 498h1v1H407zM448 498h1v1H448zM452 498h1v1H452zM461 498h1v1H461zM483 498h1v1H483zM492 498h1v1H492zM98 499h1v1H98zM173 499h1v1H173zM178 499h1v1H178zM186 499h1v1H186zM196 499h1v1H196zM210 499h1v1H210zM227 499h1v1H227zM248 499h1v1H248zM272 499h1v1H272zM299 499h1v1H299zM323 499h1v1H323zM333 499h1v1H333zM375 499h1v1H375zM388 499h1v1H388zM395 499h1v1H395zM408 499h1v1H408zM448 499h1v1H448zM452 499h1v1H452zM461 499h1v1H461zM483 499h1v1H483zM492 499h1v1H492zM98 500h1v1H98zM173 500h1v1H173zM178 500h1v1H178zM186 500h1v1H186zM196 500h1v1H196zM210 500h1v1H210zM227 500h1v1H227zM248 500h1v1H248zM272 500h1v1H272zM299 500h1v1H299zM323 500h1v1H323zM333 500h1v1H333zM375 500h1v1H375zM388 500h1v1H388zM395 500h1v1H395zM408 500h1v1H408zM448 500h1v1H448zM452 500h1v1H452zM461 500h1v1H461zM483 500h1v1H483zM492 500h1v1H492zM98 501h1v1H98zM173 501h1v1H173zM178 501h1v1H178zM186 501h1v1H186zM196 501h1v1H196zM210 501h1v1H210zM227 501h1v1H227zM248 501h1v1H248zM272 501h1v1H272zM299 501h1v1H299zM323 501h1v1H323zM333 501h1v1H333zM375 501h1v1H375zM388 501h1v1H388zM395 501h1v1H395zM408 501h1v1H408zM448 501h5v1H448zM461 501h1v1H461zM483 501h1v1H483zM492 501h1v1H492zM98 502h1v1H98zM173 502h1v1H173zM178 502h1v1H178zM186 502h1v1H186zM196 502h1v1H196zM210 502h1v1H210zM227 502h1v1H227zM248 502h1v1H248zM272 502h1v1H272zM299 502h1v1H299zM323 502h1v1H323zM333 502h1v1H333zM376 502h1v1H376zM387 502h1v1H387zM396 502h1v1H396zM407 502h1v1H407zM448 502h1v1H448zM450 502h1v1H450zM452 502h1v1H452zM461 502h1v1H461zM483 502h1v1H483zM492 502h1v1H492zM98 503h1v1H98zM173 503h1v1H173zM178 503h1v1H178zM186 503h1v1H186zM196 503h1v1H196zM210 503h1v1H210zM227 503h1v1H227zM248 503h1v1H248zM272 503h1v1H272zM299 503h1v1H299zM323 503h1v1H323zM376 503h1v1H376zM387 503h1v1H387zM396 503h1v1H396zM407 503h1v1H407zM448 503h5v1H448zM461 503h1v1H461zM483 503h1v1H483zM492 503h1v1H492zM98 504h1v1H98zM173 504h1v1H173zM178 504h1v1H178zM186 504h1v1H186zM196 504h1v1H196zM210 504h1v1H210zM227 504h1v1H227zM248 504h1v1H248zM272 504h1v1H272zM299 504h1v1H299zM323 504h1v1H323zM377 504h1v1H377zM386 504h1v1H386zM397 504h1v1H397zM406 504h1v1H406zM448 504h1v1H448zM450 504h1v1H450zM452 504h1v1H452zM461 504h1v1H461zM483 504h1v1H483zM492 504h1v1H492zM98 505h1v1H98zM173 505h1v1H173zM178 505h1v1H178zM186 505h1v1H186zM196 505h1v1H196zM210 505h1v1H210zM227 505h1v1H227zM248 505h1v1H248zM272 505h1v1H272zM299 505h1v1H299zM323 505h1v1H323zM378 505h1v1H378zM385 505h1v1H385zM398 505h1v1H398zM405 505h1v1H405zM448 505h2v1H448zM452 505h1v1H452zM460 505h1v1H460zM483 505h1v1H483zM492 505h1v1H492zM98 506h1v1H98zM173 506h1v1H173zM178 506h1v1H178zM186 506h1v1H186zM196 506h1v1H196zM210 506h1v1H210zM227 506h1v1H227zM248 506h1v1H248zM272 506h1v1H272zM299 506h1v1H299zM323 506h1v1H323zM379 506h6v1H379zM399 506h6v1H399zM448 506h5v1H448zM460 506h1v1H460zM483 506h1v1H483zM492 506h1v1H492zM98 507h1v1H98zM173 507h1v1H173zM178 507h1v1H178zM186 507h1v1H186zM196 507h1v1H196zM210 507h1v1H210zM227 507h1v1H227zM248 507h1v1H248zM272 507h1v1H272zM299 507h1v1H299zM323 507h1v1H323zM448 507h1v1H448zM452 507h1v1H452zM460 507h1v1H460zM484 507h1v1H484zM492 507h1v1H492zM98 508h1v1H98zM173 508h1v1H173zM178 508h1v1H178zM186 508h1v1H186zM196 508h1v1H196zM210 508h1v1H210zM227 508h1v1H227zM248 508h1v1H248zM272 508h1v1H272zM299 508h1v1H299zM323 508h1v1H323zM448 508h1v1H448zM452 508h1v1H452zM460 508h1v1H460zM484 508h1v1H484zM492 508h1v1H492zM98 509h1v1H98zM173 509h1v1H173zM178 509h1v1H178zM186 509h1v1H186zM196 509h1v1H196zM210 509h1v1H210zM227 509h1v1H227zM248 509h1v1H248zM272 509h1v1H272zM299 509h1v1H299zM323 509h1v1H323zM448 509h1v1H448zM452 509h1v1H452zM460 509h1v1H460zM484 509h1v1H484zM492 509h1v1H492zM98 510h1v1H98zM173 510h1v1H173zM178 510h1v1H178zM186 510h1v1H186zM196 510h1v1H196zM210 510h1v1H210zM227 510h1v1H227zM248 510h1v1H248zM272 510h1v1H272zM299 510h1v1H299zM323 510h1v1H323zM448 510h1v1H448zM452 510h1v1H452zM460 510h1v1H460zM484 510h1v1H484zM492 510h1v1H492zM98 511h1v1H98zM173 511h1v1H173zM178 511h1v1H178zM186 511h1v1H186zM196 511h1v1H196zM210 511h1v1H210zM227 511h1v1H227zM248 511h1v1H248zM272 511h1v1H272zM299 511h1v1H299zM323 511h1v1H323zM448 511h1v1H448zM452 511h1v1H452zM460 511h1v1H460zM484 511h1v1H484zM492 511h1v1H492zM98 512h1v1H98zM173 512h1v1H173zM178 512h1v1H178zM186 512h1v1H186zM196 512h1v1H196zM210 512h1v1H210zM227 512h1v1H227zM248 512h1v1H248zM272 512h1v1H272zM299 512h1v1H299zM323 512h1v1H323zM448 512h1v1H448zM452 512h1v1H452zM460 512h1v1H460zM484 512h1v1H484zM492 512h1v1H492zM98 513h1v1H98zM173 513h1v1H173zM178 513h1v1H178zM186 513h1v1H186zM196 513h1v1H196zM210 513h1v1H210zM227 513h1v1H227zM248 513h1v1H248zM272 513h1v1H272zM299 513h1v1H299zM323 513h1v1H323zM448 513h1v1H448zM452 513h1v1H452zM460 513h1v1H460zM484 513h1v1H484zM492 513h1v1H492zM98 514h1v1H98zM173 514h1v1H173zM178 514h1v1H178zM186 514h1v1H186zM196 514h1v1H196zM210 514h1v1H210zM227 514h1v1H227zM248 514h1v1H248zM272 514h1v1H272zM299 514h1v1H299zM323 514h1v1H323zM448 514h1v1H448zM452 514h1v1H452zM460 514h1v1H460zM484 514h1v1H484zM492 514h1v1H492zM98 515h1v1H98zM173 515h1v1H173zM178 515h1v1H178zM186 515h1v1H186zM196 515h1v1H196zM210 515h1v1H210zM227 515h1v1H227zM248 515h1v1H248zM272 515h1v1H272zM299 515h1v1H299zM323 515h1v1H323zM448 515h1v1H448zM452 515h1v1H452zM460 515h1v1H460zM484 515h1v1H484zM492 515h1v1H492zM98 516h1v1H98zM173 516h1v1H173zM178 516h1v1H178zM186 516h1v1H186zM196 516h1v1H196zM210 516h1v1H210zM227 516h1v1H227zM248 516h1v1H248zM272 516h1v1H272zM299 516h1v1H299zM323 516h1v1H323zM448 516h1v1H448zM452 516h1v1H452zM460 516h1v1H460zM484 516h1v1H484zM492 516h1v1H492zM98 517h1v1H98zM173 517h1v1H173zM178 517h1v1H178zM186 517h1v1H186zM196 517h1v1H196zM210 517h1v1H210zM227 517h1v1H227zM248 517h1v1H248zM272 517h1v1H272zM299 517h1v1H299zM323 517h1v1H323zM448 517h1v1H448zM452 517h1v1H452zM459 517h1v1H459zM484 517h1v1H484zM492 517h1v1H492zM98 518h1v1H98zM173 518h1v1H173zM178 518h1v1H178zM186 518h1v1H186zM196 518h1v1H196zM210 518h1v1H210zM227 518h1v1H227zM248 518h1v1H248zM272 518h1v1H272zM299 518h1v1H299zM323 518h1v1H323zM448 518h5v1H448zM459 518h1v1H459zM484 518h1v1H484zM492 518h1v1H492zM98 519h1v1H98zM173 519h1v1H173zM178 519h1v1H178zM186 519h1v1H186zM196 519h1v1H196zM210 519h1v1H210zM227 519h1v1H227zM248 519h1v1H248zM272 519h1v1H272zM299 519h1v1H299zM323 519h1v1H323zM448 519h1v1H448zM451 519h2v1H451zM459 519h1v1H459zM485 519h1v1H485zM492 519h1v1H492zM98 520h1v1H98zM173 520h1v1H173zM178 520h1v1H178zM186 520h1v1H186zM196 520h1v1H196zM210 520h1v1H210zM227 520h1v1H227zM248 520h1v1H248zM272 520h1v1H272zM299 520h1v1H299zM323 520h1v1H323zM333 520h1v1H333zM448 520h3v1H448zM452 520h1v1H452zM459 520h1v1H459zM485 520h1v1H485zM492 520h1v1H492zM98 521h1v1H98zM173 521h1v1H173zM178 521h1v1H178zM186 521h1v1H186zM196 521h1v1H196zM210 521h1v1H210zM227 521h1v1H227zM248 521h1v1H248zM272 521h1v1H272zM299 521h1v1H299zM323 521h1v1H323zM333 521h1v1H333zM448 521h1v1H448zM450 521h3v1H450zM459 521h1v1H459zM485 521h1v1H485zM492 521h1v1H492zM98 522h1v1H98zM173 522h1v1H173zM178 522h1v1H178zM186 522h1v1H186zM196 522h1v1H196zM210 522h1v1H210zM227 522h1v1H227zM248 522h1v1H248zM272 522h1v1H272zM299 522h1v1H299zM323 522h1v1H323zM333 522h1v1H333zM448 522h1v1H448zM450 522h1v1H450zM452 522h1v1H452zM459 522h1v1H459zM485 522h1v1H485zM492 522h1v1H492zM98 523h1v1H98zM173 523h1v1H173zM178 523h1v1H178zM186 523h1v1H186zM196 523h1v1H196zM210 523h1v1H210zM227 523h1v1H227zM248 523h1v1H248zM272 523h1v1H272zM299 523h1v1H299zM323 523h1v1H323zM333 523h1v1H333zM448 523h5v1H448zM459 523h1v1H459zM485 523h1v1H485zM492 523h1v1H492zM98 524h1v1H98zM173 524h1v1H173zM178 524h1v1H178zM186 524h1v1H186zM196 524h1v1H196zM210 524h1v1H210zM227 524h1v1H227zM248 524h1v1H248zM272 524h1v1H272zM299 524h1v1H299zM323 524h1v1H323zM333 524h1v1H333zM448 524h1v1H448zM452 524h1v1H452zM459 524h1v1H459zM485 524h1v1H485zM492 524h1v1H492zM98 525h1v1H98zM173 525h1v1H173zM178 525h1v1H178zM186 525h1v1H186zM196 525h1v1H196zM210 525h1v1H210zM227 525h1v1H227zM248 525h1v1H248zM272 525h1v1H272zM299 525h1v1H299zM323 525h1v1H323zM333 525h1v1H333zM448 525h1v1H448zM452 525h1v1H452zM459 525h1v1H459zM485 525h1v1H485zM492 525h1v1H492zM98 526h1v1H98zM173 526h1v1H173zM178 526h1v1H178zM186 526h1v1H186zM196 526h1v1H196zM210 526h1v1H210zM227 526h1v1H227zM248 526h1v1H248zM272 526h1v1H272zM299 526h1v1H299zM323 526h1v1H323zM333 526h1v1H333zM448 526h1v1H448zM452 526h1v1H452zM459 526h1v1H459zM485 526h1v1H485zM492 526h1v1H492zM98 527h1v1H98zM173 527h1v1H173zM178 527h1v1H178zM186 527h1v1H186zM196 527h1v1H196zM210 527h1v1H210zM227 527h1v1H227zM248 527h1v1H248zM272 527h1v1H272zM299 527h1v1H299zM323 527h1v1H323zM333 527h1v1H333zM448 527h1v1H448zM452 527h1v1H452zM459 527h1v1H459zM485 527h1v1H485zM492 527h1v1H492zM98 528h1v1H98zM173 528h1v1H173zM178 528h1v1H178zM186 528h1v1H186zM196 528h1v1H196zM210 528h1v1H210zM227 528h1v1H227zM248 528h1v1H248zM272 528h1v1H272zM299 528h1v1H299zM323 528h1v1H323zM333 528h1v1H333zM448 528h1v1H448zM452 528h1v1H452zM458 528h1v1H458zM485 528h1v1H485zM492 528h1v1H492zM98 529h1v1H98zM173 529h1v1H173zM178 529h1v1H178zM186 529h1v1H186zM196 529h1v1H196zM210 529h1v1H210zM227 529h1v1H227zM248 529h1v1H248zM272 529h1v1H272zM299 529h1v1H299zM323 529h1v1H323zM333 529h1v1H333zM448 529h1v1H448zM452 529h1v1H452zM458 529h1v1H458zM485 529h1v1H485zM492 529h1v1H492zM98 530h1v1H98zM173 530h1v1H173zM178 530h1v1H178zM186 530h1v1H186zM196 530h1v1H196zM210 530h1v1H210zM227 530h1v1H227zM248 530h1v1H248zM272 530h1v1H272zM299 530h1v1H299zM323 530h1v1H323zM333 530h1v1H333zM448 530h1v1H448zM452 530h1v1H452zM458 530h1v1H458zM486 530h1v1H486zM492 530h1v1H492zM98 531h1v1H98zM173 531h1v1H173zM178 531h1v1H178zM186 531h1v1H186zM196 531h1v1H196zM210 531h1v1H210zM227 531h1v1H227zM248 531h1v1H248zM272 531h1v1H272zM299 531h1v1H299zM323 531h1v1H323zM333 531h1v1H333zM448 531h1v1H448zM452 531h1v1H452zM458 531h1v1H458zM486 531h1v1H486zM492 531h1v1H492zM98 532h1v1H98zM173 532h1v1H173zM178 532h1v1H178zM186 532h1v1H186zM196 532h1v1H196zM210 532h1v1H210zM227 532h1v1H227zM248 532h1v1H248zM272 532h1v1H272zM299 532h1v1H299zM323 532h1v1H323zM333 532h1v1H333zM448 532h1v1H448zM452 532h1v1H452zM458 532h1v1H458zM486 532h1v1H486zM492 532h1v1H492zM98 533h1v1H98zM173 533h1v1H173zM178 533h1v1H178zM186 533h1v1H186zM196 533h1v1H196zM210 533h1v1H210zM227 533h1v1H227zM248 533h1v1H248zM272 533h1v1H272zM299 533h1v1H299zM323 533h1v1H323zM333 533h1v1H333zM448 533h1v1H448zM452 533h1v1H452zM458 533h1v1H458zM486 533h1v1H486zM492 533h1v1H492zM98 534h1v1H98zM173 534h1v1H173zM178 534h1v1H178zM186 534h1v1H186zM196 534h1v1H196zM210 534h1v1H210zM227 534h1v1H227zM248 534h1v1H248zM272 534h1v1H272zM299 534h1v1H299zM323 534h1v1H323zM333 534h1v1H333zM448 534h1v1H448zM452 534h1v1H452zM458 534h1v1H458zM486 534h1v1H486zM492 534h1v1H492zM98 535h1v1H98zM173 535h1v1H173zM178 535h1v1H178zM186 535h1v1H186zM196 535h1v1H196zM210 535h1v1H210zM227 535h1v1H227zM248 535h1v1H248zM272 535h1v1H272zM299 535h1v1H299zM323 535h1v1H323zM333 535h1v1H333zM448 535h1v1H448zM452 535h1v1H452zM458 535h1v1H458zM486 535h1v1H486zM492 535h1v1H492zM98 536h1v1H98zM173 536h1v1H173zM178 536h1v1H178zM186 536h1v1H186zM196 536h1v1H196zM210 536h1v1H210zM227 536h1v1H227zM248 536h1v1H248zM272 536h1v1H272zM299 536h1v1H299zM323 536h1v1H323zM333 536h1v1H333zM448 536h5v1H448zM458 536h1v1H458zM486 536h1v1H486zM492 536h1v1H492zM98 537h1v1H98zM173 537h1v1H173zM178 537h1v1H178zM186 537h1v1H186zM196 537h1v1H196zM210 537h1v1H210zM227 537h1v1H227zM248 537h1v1H248zM272 537h1v1H272zM299 537h1v1H299zM323 537h1v1H323zM448 537h1v1H448zM450 537h1v1H450zM452 537h1v1H452zM458 537h1v1H458zM486 537h1v1H486zM492 537h1v1H492zM98 538h1v1H98zM173 538h1v1H173zM178 538h1v1H178zM186 538h1v1H186zM196 538h1v1H196zM210 538h1v1H210zM227 538h1v1H227zM248 538h1v1H248zM272 538h1v1H272zM299 538h1v1H299zM323 538h1v1H323zM448 538h5v1H448zM458 538h1v1H458zM486 538h1v1H486zM492 538h1v1H492zM98 539h1v1H98zM173 539h1v1H173zM178 539h1v1H178zM186 539h1v1H186zM196 539h1v1H196zM210 539h1v1H210zM227 539h1v1H227zM248 539h1v1H248zM272 539h1v1H272zM299 539h1v1H299zM323 539h1v1H323zM448 539h1v1H448zM450 539h1v1H450zM452 539h1v1H452zM458 539h1v1H458zM486 539h1v1H486zM492 539h1v1H492zM98 540h1v1H98zM173 540h1v1H173zM178 540h1v1H178zM186 540h1v1H186zM196 540h1v1H196zM210 540h1v1H210zM227 540h1v1H227zM248 540h1v1H248zM272 540h1v1H272zM299 540h1v1H299zM323 540h1v1H323zM448 540h2v1H448zM452 540h1v1H452zM457 540h1v1H457zM486 540h1v1H486zM492 540h1v1H492zM98 541h1v1H98zM173 541h1v1H173zM178 541h1v1H178zM186 541h1v1H186zM196 541h1v1H196zM210 541h1v1H210zM227 541h1v1H227zM248 541h1v1H248zM272 541h1v1H272zM299 541h1v1H299zM323 541h1v1H323zM448 541h5v1H448zM457 541h1v1H457zM486 541h1v1H486zM492 541h1v1H492zM98 542h1v1H98zM173 542h1v1H173zM178 542h1v1H178zM186 542h1v1H186zM196 542h1v1H196zM210 542h1v1H210zM227 542h1v1H227zM248 542h1v1H248zM272 542h1v1H272zM299 542h1v1H299zM323 542h1v1H323zM448 542h1v1H448zM452 542h1v1H452zM457 542h1v1H457zM487 542h1v1H487zM492 542h1v1H492zM98 543h1v1H98zM173 543h1v1H173zM178 543h1v1H178zM186 543h1v1H186zM196 543h1v1H196zM210 543h1v1H210zM227 543h1v1H227zM248 543h1v1H248zM272 543h1v1H272zM299 543h1v1H299zM323 543h1v1H323zM448 543h1v1H448zM452 543h1v1H452zM457 543h1v1H457zM487 543h1v1H487zM492 543h1v1H492zM98 544h1v1H98zM173 544h1v1H173zM178 544h1v1H178zM186 544h1v1H186zM196 544h1v1H196zM210 544h1v1H210zM227 544h1v1H227zM248 544h1v1H248zM272 544h1v1H272zM299 544h1v1H299zM323 544h1v1H323zM448 544h1v1H448zM452 544h1v1H452zM457 544h1v1H457zM487 544h1v1H487zM492 544h1v1H492zM98 545h1v1H98zM173 545h1v1H173zM178 545h1v1H178zM186 545h1v1H186zM196 545h1v1H196zM210 545h1v1H210zM227 545h1v1H227zM248 545h1v1H248zM272 545h1v1H272zM299 545h1v1H299zM323 545h1v1H323zM448 545h1v1H448zM452 545h1v1H452zM457 545h1v1H457zM487 545h1v1H487zM492 545h1v1H492zM98 546h1v1H98zM173 546h1v1H173zM178 546h1v1H178zM186 546h1v1H186zM196 546h1v1H196zM210 546h1v1H210zM227 546h1v1H227zM248 546h1v1H248zM272 546h1v1H272zM299 546h1v1H299zM323 546h1v1H323zM448 546h1v1H448zM452 546h1v1H452zM457 546h1v1H457zM487 546h1v1H487zM492 546h1v1H492zM98 547h1v1H98zM173 547h1v1H173zM178 547h1v1H178zM186 547h1v1H186zM196 547h1v1H196zM210 547h1v1H210zM227 547h1v1H227zM248 547h1v1H248zM272 547h1v1H272zM299 547h1v1H299zM323 547h1v1H323zM448 547h1v1H448zM452 547h1v1H452zM457 547h1v1H457zM487 547h1v1H487zM492 547h1v1H492zM98 548h1v1H98zM173 548h1v1H173zM178 548h1v1H178zM186 548h1v1H186zM196 548h1v1H196zM210 548h1v1H210zM227 548h1v1H227zM248 548h1v1H248zM272 548h1v1H272zM299 548h1v1H299zM323 548h1v1H323zM448 548h1v1H448zM452 548h1v1H452zM457 548h1v1H457zM487 548h1v1H487zM492 548h1v1H492zM98 549h1v1H98zM173 549h1v1H173zM178 549h1v1H178zM186 549h1v1H186zM196 549h1v1H196zM210 549h1v1H210zM227 549h1v1H227zM248 549h1v1H248zM272 549h1v1H272zM299 549h1v1H299zM323 549h1v1H323zM448 549h1v1H448zM452 549h1v1H452zM457 549h1v1H457zM487 549h1v1H487zM492 549h1v1H492zM98 550h1v1H98zM173 550h1v1H173zM178 550h1v1H178zM186 550h1v1H186zM196 550h1v1H196zM210 550h1v1H210zM227 550h1v1H227zM248 550h1v1H248zM272 550h1v1H272zM299 550h1v1H299zM323 550h1v1H323zM448 550h1v1H448zM452 550h1v1H452zM457 550h1v1H457zM487 550h1v1H487zM492 550h1v1H492zM98 551h1v1H98zM173 551h1v1H173zM178 551h1v1H178zM186 551h1v1H186zM196 551h1v1H196zM210 551h1v1H210zM227 551h1v1H227zM248 551h1v1H248zM272 551h1v1H272zM299 551h1v1H299zM323 551h1v1H323zM448 551h1v1H448zM452 551h1v1H452zM457 551h1v1H457zM487 551h1v1H487zM492 551h1v1H492zM98 552h1v1H98zM173 552h1v1H173zM178 552h1v1H178zM186 552h1v1H186zM196 552h1v1H196zM210 552h1v1H210zM227 552h1v1H227zM248 552h1v1H248zM272 552h1v1H272zM299 552h1v1H299zM323 552h1v1H323zM448 552h1v1H448zM452 552h1v1H452zM456 552h1v1H456zM487 552h1v1H487zM492 552h1v1H492zM98 553h1v1H98zM173 553h1v1H173zM178 553h1v1H178zM186 553h1v1H186zM196 553h1v1H196zM210 553h1v1H210zM227 553h1v1H227zM248 553h1v1H248zM272 553h1v1H272zM299 553h1v1H299zM323 553h1v1H323zM333 553h1v1H333zM448 553h5v1H448zM456 553h1v1H456zM487 553h1v1H487zM492 553h1v1H492zM98 554h1v1H98zM173 554h1v1H173zM178 554h1v1H178zM186 554h1v1H186zM196 554h1v1H196zM210 554h1v1H210zM227 554h1v1H227zM248 554h1v1H248zM272 554h1v1H272zM299 554h1v1H299zM323 554h1v1H323zM333 554h1v1H333zM448 554h1v1H448zM451 554h2v1H451zM456 554h1v1H456zM488 554h1v1H488zM492 554h1v1H492zM98 555h1v1H98zM173 555h1v1H173zM178 555h1v1H178zM186 555h1v1H186zM196 555h1v1H196zM210 555h1v1H210zM227 555h1v1H227zM248 555h1v1H248zM272 555h1v1H272zM299 555h1v1H299zM323 555h1v1H323zM333 555h1v1H333zM448 555h3v1H448zM452 555h1v1H452zM456 555h1v1H456zM488 555h1v1H488zM492 555h1v1H492zM98 556h1v1H98zM173 556h1v1H173zM178 556h1v1H178zM186 556h1v1H186zM196 556h1v1H196zM210 556h1v1H210zM227 556h1v1H227zM248 556h1v1H248zM272 556h1v1H272zM299 556h1v1H299zM323 556h1v1H323zM333 556h1v1H333zM448 556h1v1H448zM450 556h3v1H450zM456 556h1v1H456zM488 556h1v1H488zM492 556h1v1H492zM98 557h1v1H98zM173 557h1v1H173zM178 557h1v1H178zM186 557h1v1H186zM196 557h1v1H196zM210 557h1v1H210zM227 557h1v1H227zM248 557h1v1H248zM272 557h1v1H272zM299 557h1v1H299zM323 557h1v1H323zM333 557h1v1H333zM448 557h1v1H448zM450 557h1v1H450zM452 557h1v1H452zM456 557h1v1H456zM488 557h1v1H488zM492 557h1v1H492zM98 558h1v1H98zM173 558h1v1H173zM178 558h1v1H178zM186 558h1v1H186zM196 558h1v1H196zM210 558h1v1H210zM227 558h1v1H227zM248 558h1v1H248zM272 558h1v1H272zM299 558h1v1H299zM323 558h1v1H323zM333 558h1v1H333zM448 558h5v1H448zM456 558h1v1H456zM488 558h1v1H488zM492 558h1v1H492zM98 559h1v1H98zM173 559h1v1H173zM178 559h1v1H178zM186 559h1v1H186zM196 559h1v1H196zM210 559h1v1H210zM227 559h1v1H227zM248 559h1v1H248zM272 559h1v1H272zM299 559h1v1H299zM323 559h1v1H323zM333 559h1v1H333zM448 559h1v1H448zM452 559h1v1H452zM456 559h1v1H456zM488 559h1v1H488zM492 559h1v1H492zM98 560h1v1H98zM173 560h1v1H173zM178 560h1v1H178zM186 560h1v1H186zM196 560h1v1H196zM210 560h1v1H210zM227 560h1v1H227zM248 560h1v1H248zM272 560h1v1H272zM299 560h1v1H299zM323 560h1v1H323zM333 560h1v1H333zM448 560h1v1H448zM452 560h1v1H452zM456 560h1v1H456zM488 560h1v1H488zM492 560h1v1H492zM98 561h1v1H98zM173 561h1v1H173zM178 561h1v1H178zM186 561h1v1H186zM196 561h1v1H196zM210 561h1v1H210zM227 561h1v1H227zM248 561h1v1H248zM272 561h1v1H272zM299 561h1v1H299zM323 561h1v1H323zM333 561h1v1H333zM448 561h1v1H448zM452 561h1v1H452zM456 561h1v1H456zM488 561h1v1H488zM492 561h1v1H492zM98 562h1v1H98zM173 562h1v1H173zM178 562h1v1H178zM186 562h1v1H186zM196 562h1v1H196zM210 562h1v1H210zM227 562h1v1H227zM248 562h1v1H248zM272 562h1v1H272zM299 562h1v1H299zM323 562h1v1H323zM333 562h1v1H333zM448 562h1v1H448zM452 562h1v1H452zM456 562h1v1H456zM488 562h1v1H488zM492 562h1v1H492zM98 563h1v1H98zM173 563h1v1H173zM178 563h1v1H178zM186 563h1v1H186zM196 563h1v1H196zM210 563h1v1H210zM227 563h1v1H227zM248 563h1v1H248zM272 563h1v1H272zM299 563h1v1H299zM323 563h1v1H323zM333 563h1v1H333zM448 563h1v1H448zM452 563h1v1H452zM455 563h1v1H455zM488 563h1v1H488zM492 563h1v1H492zM98 564h1v1H98zM173 564h1v1H173zM178 564h1v1H178zM186 564h1v1H186zM196 564h1v1H196zM210 564h1v1H210zM227 564h1v1H227zM248 564h1v1H248zM272 564h1v1H272zM299 564h1v1H299zM323 564h1v1H323zM333 564h1v1H333zM448 564h1v1H448zM452 564h1v1H452zM455 564h1v1H455zM488 564h1v1H488zM492 564h1v1H492zM98 565h1v1H98zM173 565h1v1H173zM178 565h1v1H178zM186 565h1v1H186zM196 565h1v1H196zM210 565h1v1H210zM227 565h1v1H227zM248 565h1v1H248zM272 565h1v1H272zM299 565h1v1H299zM323 565h1v1H323zM333 565h1v1H333zM448 565h1v1H448zM452 565h1v1H452zM455 565h1v1H455zM489 565h1v1H489zM492 565h1v1H492zM98 566h1v1H98zM173 566h1v1H173zM178 566h1v1H178zM186 566h1v1H186zM196 566h1v1H196zM210 566h1v1H210zM227 566h1v1H227zM248 566h1v1H248zM272 566h1v1H272zM299 566h1v1H299zM323 566h1v1H323zM333 566h1v1H333zM448 566h1v1H448zM452 566h1v1H452zM455 566h1v1H455zM489 566h1v1H489zM492 566h1v1H492zM98 567h1v1H98zM173 567h1v1H173zM178 567h1v1H178zM186 567h1v1H186zM196 567h1v1H196zM210 567h1v1H210zM227 567h1v1H227zM248 567h1v1H248zM272 567h1v1H272zM299 567h1v1H299zM323 567h1v1H323zM333 567h1v1H333zM448 567h1v1H448zM452 567h1v1H452zM455 567h1v1H455zM489 567h1v1H489zM492 567h1v1H492zM98 568h1v1H98zM173 568h1v1H173zM178 568h1v1H178zM186 568h1v1H186zM196 568h1v1H196zM210 568h1v1H210zM227 568h1v1H227zM248 568h1v1H248zM272 568h1v1H272zM299 568h1v1H299zM323 568h1v1H323zM333 568h1v1H333zM448 568h1v1H448zM452 568h1v1H452zM455 568h1v1H455zM489 568h1v1H489zM492 568h1v1H492zM98 569h1v1H98zM173 569h1v1H173zM178 569h1v1H178zM186 569h1v1H186zM196 569h1v1H196zM210 569h1v1H210zM227 569h1v1H227zM248 569h1v1H248zM272 569h1v1H272zM299 569h1v1H299zM323 569h1v1H323zM333 569h1v1H333zM448 569h1v1H448zM452 569h1v1H452zM455 569h1v1H455zM489 569h1v1H489zM492 569h1v1H492zM98 570h1v1H98zM173 570h1v1H173zM178 570h1v1H178zM186 570h1v1H186zM196 570h1v1H196zM210 570h1v1H210zM227 570h1v1H227zM248 570h1v1H248zM272 570h1v1H272zM299 570h1v1H299zM323 570h1v1H323zM448 570h1v1H448zM452 570h1v1H452zM455 570h1v1H455zM489 570h1v1H489zM492 570h1v1H492zM98 571h1v1H98zM173 571h1v1H173zM178 571h1v1H178zM186 571h1v1H186zM196 571h1v1H196zM210 571h1v1H210zM227 571h1v1H227zM248 571h1v1H248zM272 571h1v1H272zM299 571h1v1H299zM323 571h1v1H323zM448 571h5v1H448zM455 571h1v1H455zM489 571h1v1H489zM492 571h1v1H492zM98 572h1v1H98zM173 572h1v1H173zM178 572h1v1H178zM186 572h1v1H186zM196 572h1v1H196zM210 572h1v1H210zM227 572h1v1H227zM248 572h1v1H248zM272 572h1v1H272zM299 572h1v1H299zM323 572h1v1H323zM448 572h1v1H448zM450 572h1v1H450zM452 572h1v1H452zM455 572h1v1H455zM489 572h1v1H489zM492 572h1v1H492zM98 573h1v1H98zM173 573h1v1H173zM178 573h1v1H178zM186 573h1v1H186zM196 573h1v1H196zM210 573h1v1H210zM227 573h1v1H227zM248 573h1v1H248zM272 573h1v1H272zM299 573h1v1H299zM323 573h1v1H323zM448 573h5v1H448zM455 573h1v1H455zM489 573h1v1H489zM492 573h1v1H492zM98 574h1v1H98zM173 574h1v1H173zM178 574h1v1H178zM186 574h1v1H186zM196 574h1v1H196zM210 574h1v1H210zM227 574h1v1H227zM248 574h1v1H248zM272 574h1v1H272zM299 574h1v1H299zM323 574h1v1H323zM448 574h1v1H448zM450 574h1v1H450zM452 574h1v1H452zM455 574h1v1H455zM489 574h1v1H489zM492 574h1v1H492zM98 575h1v1H98zM173 575h1v1H173zM178 575h1v1H178zM186 575h1v1H186zM196 575h1v1H196zM210 575h1v1H210zM227 575h1v1H227zM248 575h1v1H248zM272 575h1v1H272zM299 575h1v1H299zM323 575h1v1H323zM448 575h2v1H448zM452 575h1v1H452zM454 575h1v1H454zM489 575h1v1H489zM492 575h1v1H492zM98 576h1v1H98zM173 576h1v1H173zM178 576h1v1H178zM186 576h1v1H186zM196 576h1v1H196zM210 576h1v1H210zM227 576h1v1H227zM248 576h1v1H248zM272 576h1v1H272zM299 576h1v1H299zM323 576h1v1H323zM448 576h5v1H448zM454 576h1v1H454zM489 576h1v1H489zM492 576h1v1H492zM98 577h1v1H98zM173 577h1v1H173zM178 577h1v1H178zM186 577h1v1H186zM196 577h1v1H196zM210 577h1v1H210zM227 577h1v1H227zM248 577h1v1H248zM272 577h1v1H272zM299 577h1v1H299zM323 577h1v1H323zM448 577h1v1H448zM452 577h1v1H452zM454 577h1v1H454zM490 577h1v1H490zM492 577h1v1H492zM98 578h1v1H98zM173 578h1v1H173zM178 578h1v1H178zM186 578h1v1H186zM196 578h1v1H196zM210 578h1v1H210zM227 578h1v1H227zM248 578h1v1H248zM272 578h1v1H272zM299 578h1v1H299zM323 578h1v1H323zM448 578h1v1H448zM452 578h1v1H452zM454 578h1v1H454zM490 578h1v1H490zM492 578h1v1H492zM98 579h1v1H98zM173 579h1v1H173zM178 579h1v1H178zM186 579h1v1H186zM196 579h1v1H196zM210 579h1v1H210zM227 579h1v1H227zM248 579h1v1H248zM272 579h1v1H272zM299 579h1v1H299zM323 579h1v1H323zM448 579h1v1H448zM452 579h1v1H452zM454 579h1v1H454zM490 579h1v1H490zM492 579h1v1H492zM98 580h1v1H98zM173 580h1v1H173zM178 580h1v1H178zM186 580h1v1H186zM196 580h1v1H196zM210 580h1v1H210zM227 580h1v1H227zM248 580h1v1H248zM272 580h1v1H272zM299 580h1v1H299zM323 580h1v1H323zM448 580h1v1H448zM452 580h1v1H452zM454 580h1v1H454zM490 580h1v1H490zM492 580h1v1H492zM98 581h1v1H98zM173 581h1v1H173zM178 581h1v1H178zM186 581h1v1H186zM196 581h1v1H196zM210 581h1v1H210zM227 581h1v1H227zM248 581h1v1H248zM272 581h1v1H272zM299 581h1v1H299zM323 581h1v1H323zM448 581h1v1H448zM452 581h1v1H452zM454 581h1v1H454zM490 581h1v1H490zM492 581h1v1H492zM98 582h1v1H98zM173 582h1v1H173zM178 582h1v1H178zM186 582h1v1H186zM196 582h1v1H196zM210 582h1v1H210zM227 582h1v1H227zM248 582h1v1H248zM272 582h1v1H272zM299 582h1v1H299zM323 582h1v1H323zM448 582h1v1H448zM452 582h1v1H452zM454 582h1v1H454zM490 582h1v1H490zM492 582h1v1H492zM98 583h1v1H98zM173 583h1v1H173zM178 583h1v1H178zM186 583h1v1H186zM196 583h1v1H196zM210 583h1v1H210zM227 583h1v1H227zM248 583h1v1H248zM272 583h1v1H272zM299 583h1v1H299zM323 583h1v1H323zM448 583h1v1H448zM452 583h1v1H452zM454 583h1v1H454zM490 583h1v1H490zM492 583h1v1H492zM98 584h1v1H98zM173 584h1v1H173zM178 584h1v1H178zM186 584h1v1H186zM196 584h1v1H196zM210 584h1v1H210zM227 584h1v1H227zM248 584h1v1H248zM272 584h1v1H272zM299 584h1v1H299zM323 584h1v1H323zM448 584h1v1H448zM452 584h1v1H452zM454 584h1v1H454zM490 584h1v1H490zM492 584h1v1H492zM98 585h1v1H98zM169 585h250v1H169zM448 585h1v1H448zM452 585h1v1H452zM454 585h1v1H454zM490 585h1v1H490zM492 585h6v1H492zM98 586h1v1H98zM168 586h1v1H168zM414 586h2v1H414zM418 586h1v1H418zM448 586h1v1H448zM452 586h1v1H452zM492 586h2v1H492zM497 586h1v1H497zM98 587h1v1H98zM168 587h1v1H168zM333 587h1v1H333zM414 587h1v1H414zM416 587h1v1H416zM418 587h1v1H418zM448 587h1v1H448zM452 587h2v1H452zM491 587h4v1H491zM497 587h1v1H497zM98 588h1v1H98zM168 588h1v1H168zM333 588h1v1H333zM414 588h1v1H414zM417 588h1v1H417zM419 588h1v1H419zM448 588h6v1H448zM491 588h3v1H491zM495 588h1v1H495zM497 588h1v1H497zM98 589h1v1H98zM168 589h1v1H168zM333 589h1v1H333zM414 589h1v1H414zM418 589h2v1H418zM448 589h1v1H448zM451 589h3v1H451zM491 589h3v1H491zM496 589h2v1H496zM98 590h1v1H98zM168 590h1v1H168zM333 590h1v1H333zM414 590h1v1H414zM419 590h1v1H419zM448 590h3v1H448zM452 590h2v1H452zM491 590h3v1H491zM497 590h1v1H497zM98 591h1v1H98zM168 591h1v1H168zM333 591h1v1H333zM414 591h1v1H414zM419 591h1v1H419zM448 591h1v1H448zM450 591h4v1H450zM491 591h3v1H491zM497 591h1v1H497zM98 592h1v1H98zM168 592h1v1H168zM333 592h1v1H333zM414 592h2v1H414zM420 592h1v1H420zM448 592h1v1H448zM450 592h1v1H450zM452 592h2v1H452zM491 592h3v1H491zM497 592h1v1H497zM98 593h1v1H98zM168 593h1v1H168zM333 593h1v1H333zM414 593h1v1H414zM416 593h1v1H416zM420 593h1v1H420zM448 593h6v1H448zM491 593h4v1H491zM497 593h1v1H497zM98 594h1v1H98zM168 594h1v1H168zM333 594h1v1H333zM414 594h1v1H414zM417 594h1v1H417zM420 594h5v1H420zM429 594h4v1H429zM437 594h5v1H437zM446 594h4v1H446zM452 594h7v1H452zM463 594h4v1H463zM471 594h5v1H471zM480 594h4v1H480zM488 594h6v1H488zM495 594h1v1H495zM497 594h1v1H497zM98 595h1v1H98zM168 595h1v1H168zM333 595h1v1H333zM414 595h1v1H414zM418 595h1v1H418zM420 595h2v1H420zM448 595h1v1H448zM452 595h2v1H452zM491 595h3v1H491zM496 595h2v1H496zM98 596h1v1H98zM168 596h1v1H168zM333 596h1v1H333zM414 596h1v1H414zM419 596h1v1H419zM421 596h1v1H421zM448 596h1v1H448zM452 596h2v1H452zM491 596h3v1H491zM497 596h1v1H497zM98 597h1v1H98zM168 597h1v1H168zM333 597h1v1H333zM414 597h1v1H414zM420 597h2v1H420zM448 597h1v1H448zM452 597h2v1H452zM491 597h3v1H491zM497 597h1v1H497zM98 598h1v1H98zM168 598h1v1H168zM333 598h1v1H333zM414 598h2v1H414zM421 598h1v1H421zM424 598h5v1H424zM432 598h5v1H432zM441 598h4v1H441zM448 598h6v1H448zM458 598h4v1H458zM466 598h5v1H466zM475 598h4v1H475zM483 598h5v1H483zM491 598h3v1H491zM497 598h1v1H497zM98 599h1v1H98zM168 599h1v1H168zM333 599h1v1H333zM414 599h1v1H414zM416 599h1v1H416zM422 599h1v1H422zM448 599h1v1H448zM452 599h2v1H452zM491 599h4v1H491zM497 599h1v1H497zM98 600h1v1H98zM168 600h1v1H168zM333 600h1v1H333zM414 600h1v1H414zM417 600h1v1H417zM422 600h1v1H422zM448 600h1v1H448zM452 600h2v1H452zM491 600h3v1H491zM495 600h1v1H495zM497 600h1v1H497zM98 601h1v1H98zM168 601h1v1H168zM333 601h1v1H333zM414 601h1v1H414zM418 601h1v1H418zM422 601h1v1H422zM448 601h1v1H448zM452 601h2v1H452zM491 601h3v1H491zM496 601h2v1H496zM98 602h1v1H98zM168 602h1v1H168zM333 602h1v1H333zM414 602h1v1H414zM419 602h1v1H419zM421 602h4v1H421zM429 602h4v1H429zM437 602h5v1H437zM446 602h4v1H446zM452 602h7v1H452zM463 602h4v1H463zM471 602h5v1H471zM480 602h4v1H480zM488 602h6v1H488zM497 602h1v1H497zM98 603h1v1H98zM168 603h1v1H168zM333 603h1v1H333zM414 603h1v1H414zM420 603h1v1H420zM423 603h1v1H423zM448 603h1v1H448zM452 603h2v1H452zM491 603h3v1H491zM497 603h1v1H497zM98 604h1v1H98zM168 604h1v1H168zM414 604h2v1H414zM421 604h1v1H421zM423 604h1v1H423zM448 604h1v1H448zM452 604h2v1H452zM491 604h3v1H491zM497 604h1v1H497zM98 605h1v1H98zM168 605h1v1H168zM414 605h1v1H414zM416 605h1v1H416zM418 605h80v1H418zM98 606h1v1H98zM168 606h1v1H168zM414 606h1v1H414zM417 606h1v1H417zM420 606h1v1H420zM423 606h1v1H423zM429 606h1v1H429zM435 606h1v1H435zM441 606h1v1H441zM447 606h1v1H447zM453 606h1v1H453zM459 606h1v1H459zM465 606h1v1H465zM471 606h1v1H471zM477 606h1v1H477zM483 606h1v1H483zM489 606h1v1H489zM495 606h1v1H495zM497 606h1v1H497zM96 607h6v1H96zM168 607h1v1H168zM414 607h1v1H414zM418 607h1v1H418zM420 607h1v1H420zM424 607h1v1H424zM430 607h1v1H430zM436 607h1v1H436zM442 607h1v1H442zM448 607h1v1H448zM454 607h1v1H454zM460 607h1v1H460zM466 607h1v1H466zM472 607h1v1H472zM478 607h1v1H478zM484 607h1v1H484zM490 607h1v1H490zM496 607h2v1H496zM96 608h6v1H96zM168 608h1v1H168zM414 608h1v1H414zM419 608h2v1H419zM425 608h1v1H425zM431 608h1v1H431zM437 608h1v1H437zM443 608h1v1H443zM449 608h1v1H449zM455 608h1v1H455zM461 608h1v1H461zM467 608h1v1H467zM473 608h1v1H473zM479 608h1v1H479zM485 608h1v1H485zM491 608h1v1H491zM497 608h1v1H497zM96 609h6v1H96zM168 609h1v1H168zM333 609h82v1H333zM420 609h1v1H420zM426 609h1v1H426zM432 609h1v1H432zM438 609h1v1H438zM444 609h1v1H444zM450 609h1v1H450zM456 609h1v1H456zM462 609h1v1H462zM468 609h1v1H468zM474 609h1v1H474zM480 609h1v1H480zM486 609h1v1H486zM492 609h1v1H492zM497 609h1v1H497zM96 610h6v1H96zM168 610h1v1H168zM414 610h5v1H414zM420 610h2v1H420zM427 610h1v1H427zM433 610h1v1H433zM439 610h1v1H439zM445 610h1v1H445zM451 610h1v1H451zM457 610h1v1H457zM463 610h1v1H463zM469 610h1v1H469zM475 610h1v1H475zM481 610h1v1H481zM487 610h1v1H487zM493 610h1v1H493zM497 610h1v1H497zM96 611h6v1H96zM168 611h2v1H168zM413 611h2v1H413zM418 611h3v1H418zM422 611h1v1H422zM428 611h1v1H428zM434 611h1v1H434zM440 611h1v1H440zM446 611h1v1H446zM452 611h1v1H452zM458 611h1v1H458zM464 611h1v1H464zM470 611h1v1H470zM476 611h1v1H476zM482 611h1v1H482zM488 611h1v1H488zM494 611h1v1H494zM497 611h1v1H497zM96 612h6v1H96zM168 612h1v1H168zM170 612h164v1H170zM412 612h2v1H412zM419 612h2v1H419zM423 612h1v1H423zM429 612h1v1H429zM435 612h1v1H435zM441 612h1v1H441zM447 612h1v1H447zM453 612h1v1H453zM458 612h40v1H458zM97 613h4v1H97zM168 613h1v1H168zM208 613h1v1H208zM412 613h1v1H412zM420 613h1v1H420zM424 613h1v1H424zM430 613h1v1H430zM436 613h1v1H436zM442 613h1v1H442zM448 613h1v1H448zM454 613h1v1H454zM458 613h1v1H458zM497 613h1v1H497zM97 614h4v1H97zM168 614h1v1H168zM208 614h1v1H208zM412 614h1v1H412zM420 614h1v1H420zM425 614h1v1H425zM431 614h1v1H431zM437 614h1v1H437zM443 614h1v1H443zM449 614h1v1H449zM455 614h1v1H455zM458 614h1v1H458zM497 614h1v1H497zM97 615h4v1H97zM168 615h1v1H168zM208 615h1v1H208zM412 615h1v1H412zM420 615h1v1H420zM426 615h1v1H426zM432 615h1v1H432zM438 615h1v1H438zM444 615h1v1H444zM450 615h1v1H450zM456 615h1v1H456zM458 615h1v1H458zM497 615h1v1H497zM97 616h4v1H97zM168 616h1v1H168zM208 616h1v1H208zM412 616h2v1H412zM419 616h3v1H419zM427 616h1v1H427zM433 616h1v1H433zM439 616h1v1H439zM445 616h1v1H445zM451 616h1v1H451zM457 616h2v1H457zM497 616h1v1H497zM97 617h4v1H97zM168 617h1v1H168zM208 617h1v1H208zM413 617h2v1H413zM418 617h3v1H418zM422 617h1v1H422zM428 617h1v1H428zM434 617h1v1H434zM440 617h1v1H440zM446 617h1v1H446zM452 617h1v1H452zM458 617h1v1H458zM497 617h1v1H497zM97 618h4v1H97zM168 618h1v1H168zM208 618h1v1H208zM414 618h5v1H414zM420 618h1v1H420zM423 618h1v1H423zM429 618h1v1H429zM435 618h1v1H435zM441 618h1v1H441zM447 618h1v1H447zM453 618h1v1H453zM458 618h1v1H458zM497 618h1v1H497zM98 619h2v1H98zM168 619h1v1H168zM208 619h1v1H208zM414 619h1v1H414zM418 619h1v1H418zM420 619h1v1H420zM424 619h1v1H424zM430 619h1v1H430zM436 619h1v1H436zM442 619h1v1H442zM448 619h1v1H448zM454 619h1v1H454zM458 619h1v1H458zM497 619h1v1H497zM98 620h2v1H98zM168 620h1v1H168zM208 620h1v1H208zM333 620h88v1H333zM425 620h1v1H425zM431 620h1v1H431zM437 620h1v1H437zM443 620h1v1H443zM449 620h1v1H449zM455 620h1v1H455zM458 620h1v1H458zM497 620h1v1H497zM98 621h2v1H98zM168 621h1v1H168zM208 621h1v1H208zM333 621h1v1H333zM414 621h1v1H414zM420 621h1v1H420zM426 621h1v1H426zM432 621h1v1H432zM438 621h1v1H438zM444 621h1v1H444zM450 621h1v1H450zM456 621h1v1H456zM458 621h1v1H458zM497 621h1v1H497zM98 622h2v1H98zM168 622h1v1H168zM208 622h1v1H208zM333 622h1v1H333zM414 622h2v1H414zM420 622h2v1H420zM427 622h1v1H427zM433 622h1v1H433zM439 622h1v1H439zM445 622h1v1H445zM451 622h1v1H451zM457 622h2v1H457zM497 622h1v1H497zM98 623h2v1H98zM168 623h1v1H168zM208 623h1v1H208zM333 623h82v1H333zM416 623h1v1H416zM420 623h1v1H420zM422 623h1v1H422zM428 623h1v1H428zM434 623h1v1H434zM440 623h1v1H440zM446 623h1v1H446zM452 623h1v1H452zM458 623h1v1H458zM497 623h1v1H497zM97 624h362v1H97zM497 624h1v1H497zM168 625h1v1H168zM333 625h1v1H333zM414 625h1v1H414zM497 625h1v1H497zM168 626h1v1H168zM333 626h1v1H333zM414 626h1v1H414zM497 626h1v1H497zM168 627h1v1H168zM333 627h1v1H333zM414 627h1v1H414zM497 627h1v1H497zM168 628h1v1H168zM333 628h1v1H333zM414 628h1v1H414zM497 628h1v1H497zM168 629h1v1H168zM333 629h1v1H333zM414 629h1v1H414zM497 629h1v1H497zM168 630h1v1H168zM333 630h1v1H333zM414 630h1v1H414zM497 630h1v1H497zM168 631h1v1H168zM333 631h1v1H333zM414 631h1v1H414zM497 631h1v1H497zM168 632h1v1H168zM333 632h1v1H333zM414 632h1v1H414zM497 632h1v1H497zM168 633h1v1H168zM333 633h1v1H333zM414 633h1v1H414zM497 633h1v1H497zM168 634h1v1H168zM251 634h1v1H251zM333 634h1v1H333zM414 634h1v1H414zM497 634h1v1H497zM168 635h1v1H168zM251 635h1v1H251zM333 635h1v1H333zM414 635h1v1H414zM497 635h1v1H497zM168 636h1v1H168zM251 636h1v1H251zM333 636h1v1H333zM414 636h1v1H414zM497 636h1v1H497zM168 637h1v1H168zM251 637h1v1H251zM333 637h1v1H333zM414 637h1v1H414zM497 637h1v1H497zM168 638h1v1H168zM251 638h1v1H251zM333 638h1v1H333zM414 638h1v1H414zM497 638h1v1H497zM168 639h1v1H168zM251 639h1v1H251zM333 639h1v1H333zM414 639h1v1H414zM497 639h1v1H497zM168 640h1v1H168zM251 640h1v1H251zM414 640h1v1H414zM497 640h1v1H497zM168 641h1v1H168zM251 641h1v1H251zM414 641h1v1H414zM497 641h1v1H497zM168 642h1v1H168zM251 642h1v1H251zM414 642h1v1H414zM497 642h1v1H497zM168 643h1v1H168zM251 643h1v1H251zM414 643h1v1H414zM497 643h1v1H497zM168 644h1v1H168zM251 644h1v1H251zM414 644h1v1H414zM497 644h1v1H497zM168 645h1v1H168zM251 645h1v1H251zM414 645h1v1H414zM497 645h1v1H497zM168 646h1v1H168zM251 646h1v1H251zM414 646h1v1H414zM497 646h1v1H497zM168 647h1v1H168zM251 647h1v1H251zM414 647h1v1H414zM497 647h1v1H497zM168 648h1v1H168zM251 648h1v1H251zM414 648h1v1H414zM497 648h1v1H497zM168 649h1v1H168zM251 649h1v1H251zM414 649h1v1H414zM497 649h1v1H497zM168 650h1v1H168zM251 650h1v1H251zM414 650h1v1H414zM497 650h1v1H497zM168 651h1v1H168zM251 651h1v1H251zM414 651h1v1H414zM497 651h1v1H497zM168 652h1v1H168zM251 652h1v1H251zM414 652h1v1H414zM497 652h1v1H497zM168 653h1v1H168zM251 653h1v1H251zM414 653h1v1H414zM497 653h1v1H497zM168 654h1v1H168zM251 654h1v1H251zM414 654h1v1H414zM497 654h1v1H497zM168 655h1v1H168zM251 655h1v1H251zM414 655h1v1H414zM497 655h1v1H497zM168 656h1v1H168zM251 656h1v1H251zM414 656h1v1H414zM497 656h1v1H497zM168 657h1v1H168zM251 657h1v1H251zM414 657h1v1H414zM497 657h1v1H497zM168 658h1v1H168zM251 658h1v1H251zM414 658h1v1H414zM497 658h1v1H497zM168 659h1v1H168zM251 659h1v1H251zM414 659h1v1H414zM497 659h1v1H497zM168 660h1v1H168zM251 660h1v1H251zM414 660h1v1H414zM497 660h1v1H497zM168 661h1v1H168zM251 661h1v1H251zM414 661h1v1H414zM497 661h1v1H497zM168 662h1v1H168zM251 662h1v1H251zM414 662h1v1H414zM497 662h1v1H497zM168 663h1v1H168zM251 663h1v1H251zM414 663h1v1H414zM497 663h1v1H497zM168 664h1v1H168zM251 664h1v1H251zM414 664h1v1H414zM497 664h1v1H497zM168 665h1v1H168zM251 665h1v1H251zM329 665h10v1H329zM414 665h1v1H414zM497 665h1v1H497zM168 666h1v1H168zM251 666h1v1H251zM331 666h2v1H331zM339 666h1v1H339zM414 666h1v1H414zM497 666h1v1H497zM168 667h1v1H168zM251 667h1v1H251zM331 667h2v1H331zM340 667h1v1H340zM414 667h1v1H414zM497 667h1v1H497zM168 668h1v1H168zM251 668h1v1H251zM331 668h2v1H331zM340 668h1v1H340zM414 668h1v1H414zM497 668h1v1H497zM168 669h1v1H168zM251 669h1v1H251zM331 669h2v1H331zM340 669h1v1H340zM414 669h1v1H414zM497 669h1v1H497zM168 670h1v1H168zM251 670h1v1H251zM331 670h2v1H331zM340 670h1v1H340zM414 670h1v1H414zM497 670h1v1H497zM168 671h1v1H168zM251 671h1v1H251zM331 671h2v1H331zM340 671h1v1H340zM414 671h1v1H414zM497 671h1v1H497zM168 672h1v1H168zM251 672h1v1H251zM331 672h2v1H331zM339 672h1v1H339zM414 672h1v1H414zM497 672h1v1H497zM168 673h1v1H168zM251 673h1v1H251zM331 673h8v1H331zM414 673h1v1H414zM497 673h1v1H497zM168 674h1v1H168zM251 674h1v1H251zM331 674h2v1H331zM338 674h2v1H338zM414 674h1v1H414zM497 674h1v1H497zM168 675h1v1H168zM251 675h1v1H251zM331 675h2v1H331zM339 675h2v1H339zM414 675h1v1H414zM497 675h1v1H497zM168 676h1v1H168zM251 676h1v1H251zM331 676h2v1H331zM340 676h1v1H340zM414 676h1v1H414zM497 676h1v1H497zM168 677h1v1H168zM251 677h1v1H251zM331 677h2v1H331zM340 677h1v1H340zM414 677h1v1H414zM497 677h1v1H497zM168 678h1v1H168zM251 678h1v1H251zM331 678h2v1H331zM340 678h1v1H340zM414 678h1v1H414zM497 678h1v1H497zM168 679h1v1H168zM251 679h1v1H251zM331 679h2v1H331zM340 679h1v1H340zM414 679h1v1H414zM497 679h1v1H497zM168 680h1v1H168zM251 680h1v1H251zM331 680h2v1H331zM339 680h1v1H339zM414 680h1v1H414zM497 680h1v1H497zM168 681h1v1H168zM251 681h1v1H251zM329 681h10v1H329zM414 681h1v1H414zM497 681h1v1H497zM168 682h1v1H168zM251 682h1v1H251zM329 682h10v1H329zM414 682h1v1H414zM497 682h1v1H497zM168 683h1v1H168zM251 683h1v1H251zM414 683h1v1H414zM497 683h1v1H497zM168 684h1v1H168zM251 684h1v1H251zM414 684h1v1H414zM497 684h1v1H497zM168 685h1v1H168zM251 685h1v1H251zM266 685h3v1H266zM414 685h1v1H414zM497 685h1v1H497zM168 686h1v1H168zM251 686h1v1H251zM262 686h7v1H262zM397 686h8v1H397zM414 686h1v1H414zM497 686h1v1H497zM168 687h1v1H168zM251 687h1v1H251zM256 687h13v1H256zM397 687h15v1H397zM414 687h1v1H414zM497 687h1v1H497zM168 688h1v1H168zM251 688h164v1H251zM497 688h1v1H497zM168 689h1v1H168zM251 689h1v1H251zM254 689h15v1H254zM397 689h18v1H397zM497 689h1v1H497zM168 690h1v1H168zM251 690h1v1H251zM260 690h9v1H260zM397 690h8v1H397zM414 690h1v1H414zM497 690h1v1H497zM168 691h1v1H168zM266 691h3v1H266zM397 691h4v1H397zM497 691h1v1H497zM168 692h1v1H168zM497 692h1v1H497zM168 693h1v1H168zM497 693h1v1H497zM168 694h1v1H168zM497 694h1v1H497zM168 695h1v1H168zM497 695h1v1H497zM168 696h1v1H168zM497 696h1v1H497zM168 697h1v1H168zM497 697h1v1H497zM168 698h1v1H168zM497 698h1v1H497zM168 699h1v1H168zM497 699h1v1H497zM168 700h1v1H168zM497 700h1v1H497zM168 701h1v1H168zM497 701h1v1H497zM168 702h1v1H168zM497 702h1v1H497zM168 703h1v1H168zM497 703h1v1H497zM168 704h1v1H168zM335 704h1v1H335zM497 704h1v1H497zM168 705h1v1H168zM334 705h3v1H334zM497 705h1v1H497zM168 706h1v1H168zM334 706h1v1H334zM336 706h1v1H336zM497 706h1v1H497zM168 707h1v1H168zM333 707h2v1H333zM336 707h2v1H336zM497 707h1v1H497zM168 708h1v1H168zM333 708h1v1H333zM337 708h2v1H337zM497 708h1v1H497zM168 709h1v1H168zM332 709h2v1H332zM338 709h1v1H338zM497 709h1v1H497zM168 710h1v1H168zM332 710h1v1H332zM338 710h2v1H338zM497 710h1v1H497zM168 711h1v1H168zM331 711h2v1H331zM339 711h1v1H339zM497 711h1v1H497zM168 712h1v1H168zM331 712h1v1H331zM339 712h2v1H339zM497 712h1v1H497zM168 713h1v1H168zM330 713h2v1H330zM340 713h2v1H340zM497 713h1v1H497zM168 714h1v1H168zM330 714h1v1H330zM341 714h1v1H341zM497 714h1v1H497zM168 715h1v1H168zM330 715h12v1H330zM497 715h1v1H497zM168 716h1v1H168zM330 716h12v1H330zM497 716h1v1H497zM168 717h1v1H168zM330 717h1v1H330zM341 717h1v1H341zM497 717h1v1H497zM168 718h1v1H168zM330 718h1v1H330zM341 718h1v1H341zM497 718h1v1H497zM168 719h1v1H168zM330 719h1v1H330zM341 719h1v1H341zM497 719h1v1H497zM168 720h1v1H168zM330 720h1v1H330zM341 720h1v1H341zM497 720h1v1H497zM168 721h1v1H168zM330 721h1v1H330zM341 721h1v1H341zM497 721h1v1H497zM168 722h1v1H168zM497 722h1v1H497zM168 723h1v1H168zM497 723h1v1H497zM168 724h1v1H168zM181 724h5v1H181zM480 724h7v1H480zM497 724h1v1H497zM168 725h1v1H168zM176 725h10v1H176zM480 725h13v1H480zM497 725h1v1H497zM168 726h1v1H168zM170 726h16v1H170zM480 726h18v1H480zM168 727h330v1H168zM168 728h1v1H168zM176 728h10v1H176zM480 728h13v1H480zM497 728h1v1H497zM181 729h5v1H181zM480 729h7v1H480z"/>
</svg></body></html>
